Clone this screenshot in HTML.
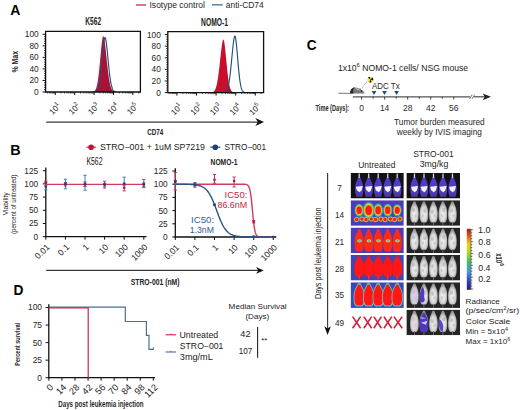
<!DOCTYPE html>
<html><head><meta charset="utf-8"><style>
html,body{margin:0;padding:0;background:#fff;}
body{width:520px;height:410px;overflow:hidden;}
svg{display:block;font-family:"Liberation Sans",sans-serif;}
</style></head><body>
<svg width="520" height="410" viewBox="0 0 520 410">
<rect width="520" height="410" fill="#fff"/>
<text x="10.25" y="14.80" font-size="14.20" font-weight="bold" fill="#000" textLength="10.12" lengthAdjust="spacingAndGlyphs">A</text>
<text x="10.39" y="154.50" font-size="14.20" font-weight="bold" fill="#000" textLength="10.36" lengthAdjust="spacingAndGlyphs">B</text>
<text x="306.64" y="50.30" font-size="14.20" font-weight="bold" fill="#000" textLength="9.83" lengthAdjust="spacingAndGlyphs">C</text>
<text x="13.58" y="295.40" font-size="14.20" font-weight="bold" fill="#000" textLength="9.89" lengthAdjust="spacingAndGlyphs">D</text>
<line x1="136.00" y1="5.00" x2="146.00" y2="5.00" stroke="#d8365a" stroke-width="1.40"/>
<text x="149.51" y="7.60" font-size="8.30" fill="#262626" textLength="55.46" lengthAdjust="spacingAndGlyphs">Isotype control</text>
<line x1="212.00" y1="4.80" x2="222.70" y2="4.80" stroke="#4a7aa6" stroke-width="1.40"/>
<text x="225.84" y="7.60" font-size="8.30" fill="#262626" textLength="37.90" lengthAdjust="spacingAndGlyphs">anti-CD74</text>
<text x="85.36" y="24.80" font-size="10.40" font-weight="bold" fill="#222" textLength="15.70" lengthAdjust="spacingAndGlyphs">K562</text>
<text x="201.05" y="25.60" font-size="10.40" font-weight="bold" fill="#222" textLength="26.94" lengthAdjust="spacingAndGlyphs">NOMO-1</text>
<path d="M45.60,92.00 L45.60,92.00 L45.85,92.00 L46.10,92.00 L46.35,92.00 L46.60,92.00 L46.85,92.00 L47.10,92.00 L47.35,92.00 L47.60,92.00 L47.85,92.00 L48.10,92.00 L48.35,92.00 L48.60,92.00 L48.85,92.00 L49.10,92.00 L49.35,92.00 L49.60,92.00 L49.85,92.00 L50.10,92.00 L50.35,92.00 L50.60,92.00 L50.85,92.00 L51.10,92.00 L51.35,92.00 L51.60,92.00 L51.85,92.00 L52.10,92.00 L52.35,92.00 L52.60,92.00 L52.85,92.00 L53.10,92.00 L53.35,92.00 L53.60,92.00 L53.85,92.00 L54.10,92.00 L54.35,92.00 L54.60,92.00 L54.85,92.00 L55.10,92.00 L55.35,92.00 L55.60,92.00 L55.85,92.00 L56.10,92.00 L56.35,92.00 L56.60,92.00 L56.85,92.00 L57.10,92.00 L57.35,92.00 L57.60,92.00 L57.85,92.00 L58.10,92.00 L58.35,92.00 L58.60,92.00 L58.85,92.00 L59.10,92.00 L59.35,92.00 L59.60,92.00 L59.85,92.00 L60.10,92.00 L60.35,92.00 L60.60,92.00 L60.85,92.00 L61.10,92.00 L61.35,92.00 L61.60,92.00 L61.85,92.00 L62.10,92.00 L62.35,92.00 L62.60,92.00 L62.85,92.00 L63.10,92.00 L63.35,92.00 L63.60,92.00 L63.85,92.00 L64.10,92.00 L64.35,92.00 L64.60,92.00 L64.85,92.00 L65.10,92.00 L65.35,92.00 L65.60,92.00 L65.85,92.00 L66.10,92.00 L66.35,92.00 L66.60,92.00 L66.85,92.00 L67.10,92.00 L67.35,92.00 L67.60,92.00 L67.85,92.00 L68.10,92.00 L68.35,92.00 L68.60,92.00 L68.85,92.00 L69.10,92.00 L69.35,92.00 L69.60,92.00 L69.85,92.00 L70.10,92.00 L70.35,92.00 L70.60,92.00 L70.85,92.00 L71.10,92.00 L71.35,92.00 L71.60,92.00 L71.85,92.00 L72.10,92.00 L72.35,92.00 L72.60,92.00 L72.85,92.00 L73.10,92.00 L73.35,92.00 L73.60,92.00 L73.85,92.00 L74.10,92.00 L74.35,92.00 L74.60,92.00 L74.85,92.00 L75.10,92.00 L75.35,92.00 L75.60,92.00 L75.85,92.00 L76.10,92.00 L76.35,92.00 L76.60,92.00 L76.85,92.00 L77.10,92.00 L77.35,92.00 L77.60,92.00 L77.85,92.00 L78.10,92.00 L78.35,92.00 L78.60,92.00 L78.85,92.00 L79.10,92.00 L79.35,92.00 L79.60,92.00 L79.85,92.00 L80.10,92.00 L80.35,92.00 L80.60,92.00 L80.85,92.00 L81.10,92.00 L81.35,92.00 L81.60,92.00 L81.85,92.00 L82.10,92.00 L82.35,92.00 L82.60,92.00 L82.85,92.00 L83.10,92.00 L83.35,92.00 L83.60,92.00 L83.85,92.00 L84.10,92.00 L84.35,92.00 L84.60,92.00 L84.85,92.00 L85.10,92.00 L85.35,92.00 L85.60,92.00 L85.85,92.00 L86.10,92.00 L86.35,92.00 L86.60,92.00 L86.85,92.00 L87.10,92.00 L87.35,92.00 L87.60,92.00 L87.85,92.00 L88.10,92.00 L88.35,92.00 L88.60,92.00 L88.85,92.00 L89.10,92.00 L89.35,92.00 L89.60,92.00 L89.85,91.99 L90.10,91.99 L90.35,91.99 L90.60,91.98 L90.85,91.98 L91.10,91.97 L91.35,91.96 L91.60,91.95 L91.85,91.93 L92.10,91.91 L92.35,91.88 L92.60,91.84 L92.85,91.79 L93.10,91.74 L93.35,91.66 L93.60,91.57 L93.85,91.45 L94.10,91.31 L94.35,91.13 L94.60,90.92 L94.85,90.66 L95.10,90.34 L95.35,89.97 L95.60,89.53 L95.85,89.00 L96.10,88.39 L96.35,87.67 L96.60,86.85 L96.85,85.90 L97.10,84.82 L97.35,83.60 L97.60,82.23 L97.85,80.71 L98.10,79.02 L98.35,77.17 L98.60,75.16 L98.85,73.00 L99.10,70.69 L99.35,68.24 L99.60,65.67 L99.85,63.00 L100.10,60.27 L100.35,57.50 L100.60,54.72 L100.85,51.98 L101.10,49.31 L101.35,46.76 L101.60,44.38 L101.85,42.21 L102.10,40.30 L102.35,38.68 L102.60,37.42 L102.85,36.53 L103.10,36.08 L103.35,36.11 L103.60,36.54 L103.85,37.29 L104.10,38.35 L104.35,39.68 L104.60,41.26 L104.85,43.05 L105.10,45.02 L105.35,47.15 L105.60,49.40 L105.85,51.75 L106.10,54.15 L106.35,56.59 L106.60,59.03 L106.85,61.45 L107.10,63.84 L107.35,66.16 L107.60,68.40 L107.85,70.55 L108.10,72.60 L108.35,74.54 L108.60,76.35 L108.85,78.04 L109.10,79.61 L109.35,81.05 L109.60,82.37 L109.85,83.57 L110.10,84.65 L110.35,85.63 L110.60,86.50 L110.85,87.27 L111.10,87.95 L111.35,88.55 L111.60,89.07 L111.85,89.53 L112.10,89.92 L112.35,90.26 L112.60,90.55 L112.85,90.80 L113.10,91.01 L113.35,91.18 L113.60,91.33 L113.85,91.46 L114.10,91.56 L114.35,91.64 L114.60,91.71 L114.85,91.77 L115.10,91.82 L115.35,91.85 L115.60,91.88 L115.85,91.91 L116.10,91.93 L116.35,91.94 L116.60,91.96 L116.85,91.97 L117.10,91.97 L117.35,91.98 L117.60,91.98 L117.85,91.99 L118.10,91.99 L118.35,91.99 L118.60,92.00 L118.85,92.00 L119.10,92.00 L119.35,92.00 L119.60,92.00 L119.85,92.00 L120.10,92.00 L120.35,92.00 L120.60,92.00 L120.85,92.00 L121.10,92.00 L121.35,92.00 L121.60,92.00 L121.85,92.00 L122.10,92.00 L122.35,92.00 L122.60,92.00 L122.85,92.00 L123.10,92.00 L123.35,92.00 L123.60,92.00 L123.85,92.00 L124.10,92.00 L124.35,92.00 L124.60,92.00 L124.85,92.00 L125.10,92.00 L125.35,92.00 L125.60,92.00 L125.85,92.00 L126.10,92.00 L126.35,92.00 L126.60,92.00 L126.85,92.00 L127.10,92.00 L127.35,92.00 L127.60,92.00 L127.85,92.00 L128.10,92.00 L128.35,92.00 L128.60,92.00 L128.85,92.00 L129.10,92.00 L129.35,92.00 L129.60,92.00 L129.85,92.00 L130.10,92.00 L130.35,92.00 L130.60,92.00 L130.85,92.00 L131.10,92.00 L131.35,92.00 L131.60,92.00 L131.85,92.00 L132.10,92.00 L132.35,92.00 L132.60,92.00 L132.85,92.00 L133.10,92.00 L133.35,92.00 L133.60,92.00 L133.85,92.00 L134.10,92.00 L134.35,92.00 L134.60,92.00 L134.85,92.00 L135.10,92.00 L135.35,92.00 L135.60,92.00 L135.85,92.00 L136.10,92.00 L136.35,92.00 L136.60,92.00 L136.85,92.00 L137.10,92.00 L137.35,92.00 L137.60,92.00 L137.85,92.00 L138.10,92.00 L138.35,92.00 L138.60,92.00 L138.85,92.00 L139.10,92.00 L139.35,92.00 L139.60,92.00 L139.85,92.00 L140.10,92.00 L140.35,92.00 L140.40,92.00 Z" fill="#c8102e" stroke="none" stroke-width="1.00"/>
<path d="M45.60,92.00 L45.60,92.00 L45.85,92.00 L46.10,92.00 L46.35,92.00 L46.60,92.00 L46.85,92.00 L47.10,92.00 L47.35,92.00 L47.60,92.00 L47.85,92.00 L48.10,92.00 L48.35,92.00 L48.60,92.00 L48.85,92.00 L49.10,92.00 L49.35,92.00 L49.60,92.00 L49.85,92.00 L50.10,92.00 L50.35,92.00 L50.60,92.00 L50.85,92.00 L51.10,92.00 L51.35,92.00 L51.60,92.00 L51.85,92.00 L52.10,92.00 L52.35,92.00 L52.60,92.00 L52.85,92.00 L53.10,92.00 L53.35,92.00 L53.60,92.00 L53.85,92.00 L54.10,92.00 L54.35,92.00 L54.60,92.00 L54.85,92.00 L55.10,92.00 L55.35,92.00 L55.60,92.00 L55.85,92.00 L56.10,92.00 L56.35,92.00 L56.60,92.00 L56.85,92.00 L57.10,92.00 L57.35,92.00 L57.60,92.00 L57.85,92.00 L58.10,92.00 L58.35,92.00 L58.60,92.00 L58.85,92.00 L59.10,92.00 L59.35,92.00 L59.60,92.00 L59.85,92.00 L60.10,92.00 L60.35,92.00 L60.60,92.00 L60.85,92.00 L61.10,92.00 L61.35,92.00 L61.60,92.00 L61.85,92.00 L62.10,92.00 L62.35,92.00 L62.60,92.00 L62.85,92.00 L63.10,92.00 L63.35,92.00 L63.60,92.00 L63.85,92.00 L64.10,92.00 L64.35,92.00 L64.60,92.00 L64.85,92.00 L65.10,92.00 L65.35,92.00 L65.60,92.00 L65.85,92.00 L66.10,92.00 L66.35,92.00 L66.60,92.00 L66.85,92.00 L67.10,92.00 L67.35,92.00 L67.60,92.00 L67.85,92.00 L68.10,92.00 L68.35,92.00 L68.60,92.00 L68.85,92.00 L69.10,92.00 L69.35,92.00 L69.60,92.00 L69.85,92.00 L70.10,92.00 L70.35,92.00 L70.60,92.00 L70.85,92.00 L71.10,92.00 L71.35,92.00 L71.60,92.00 L71.85,92.00 L72.10,92.00 L72.35,92.00 L72.60,92.00 L72.85,92.00 L73.10,92.00 L73.35,92.00 L73.60,92.00 L73.85,92.00 L74.10,92.00 L74.35,92.00 L74.60,92.00 L74.85,92.00 L75.10,92.00 L75.35,92.00 L75.60,92.00 L75.85,92.00 L76.10,92.00 L76.35,92.00 L76.60,92.00 L76.85,92.00 L77.10,92.00 L77.35,92.00 L77.60,92.00 L77.85,92.00 L78.10,92.00 L78.35,92.00 L78.60,92.00 L78.85,92.00 L79.10,92.00 L79.35,92.00 L79.60,92.00 L79.85,92.00 L80.10,92.00 L80.35,92.00 L80.60,92.00 L80.85,92.00 L81.10,92.00 L81.35,92.00 L81.60,92.00 L81.85,92.00 L82.10,92.00 L82.35,92.00 L82.60,92.00 L82.85,92.00 L83.10,92.00 L83.35,92.00 L83.60,92.00 L83.85,92.00 L84.10,92.00 L84.35,92.00 L84.60,92.00 L84.85,92.00 L85.10,92.00 L85.35,92.00 L85.60,92.00 L85.85,92.00 L86.10,92.00 L86.35,92.00 L86.60,92.00 L86.85,92.00 L87.10,92.00 L87.35,92.00 L87.60,92.00 L87.85,92.00 L88.10,92.00 L88.35,92.00 L88.60,92.00 L88.85,92.00 L89.10,92.00 L89.35,92.00 L89.60,92.00 L89.85,92.00 L90.10,92.00 L90.35,92.00 L90.60,92.00 L90.85,92.00 L91.10,92.00 L91.35,92.00 L91.60,91.99 L91.85,91.99 L92.10,91.99 L92.35,91.99 L92.60,91.98 L92.85,91.97 L93.10,91.96 L93.35,91.95 L93.60,91.94 L93.85,91.91 L94.10,91.89 L94.35,91.85 L94.60,91.81 L94.85,91.75 L95.10,91.68 L95.35,91.60 L95.60,91.49 L95.85,91.36 L96.10,91.19 L96.35,90.99 L96.60,90.75 L96.85,90.45 L97.10,90.10 L97.35,89.68 L97.60,89.19 L97.85,88.61 L98.10,87.93 L98.35,87.15 L98.60,86.25 L98.85,85.23 L99.10,84.07 L99.35,82.76 L99.60,81.31 L99.85,79.70 L100.10,77.93 L100.35,76.00 L100.60,73.92 L100.85,71.70 L101.10,69.34 L101.35,66.86 L101.60,64.28 L101.85,61.62 L102.10,58.93 L102.35,56.22 L102.60,53.54 L102.85,50.92 L103.10,48.41 L103.35,46.06 L103.60,43.90 L103.85,41.98 L104.10,40.35 L104.35,39.68 L104.60,41.26 L104.85,43.05 L105.10,45.02 L105.35,47.15 L105.60,49.40 L105.85,51.75 L106.10,54.15 L106.35,56.59 L106.60,59.03 L106.85,61.45 L107.10,63.84 L107.35,66.16 L107.60,68.40 L107.85,70.55 L108.10,72.60 L108.35,74.54 L108.60,76.35 L108.85,78.04 L109.10,79.61 L109.35,81.05 L109.60,82.37 L109.85,83.57 L110.10,84.65 L110.35,85.63 L110.60,86.50 L110.85,87.27 L111.10,87.95 L111.35,88.55 L111.60,89.07 L111.85,89.53 L112.10,89.92 L112.35,90.26 L112.60,90.55 L112.85,90.80 L113.10,91.01 L113.35,91.18 L113.60,91.33 L113.85,91.46 L114.10,91.56 L114.35,91.64 L114.60,91.71 L114.85,91.77 L115.10,91.82 L115.35,91.85 L115.60,91.88 L115.85,91.91 L116.10,91.93 L116.35,91.94 L116.60,91.96 L116.85,91.97 L117.10,91.97 L117.35,91.98 L117.60,91.98 L117.85,91.99 L118.10,91.99 L118.35,91.99 L118.60,92.00 L118.85,92.00 L119.10,92.00 L119.35,92.00 L119.60,92.00 L119.85,92.00 L120.10,92.00 L120.35,92.00 L120.60,92.00 L120.85,92.00 L121.10,92.00 L121.35,92.00 L121.60,92.00 L121.85,92.00 L122.10,92.00 L122.35,92.00 L122.60,92.00 L122.85,92.00 L123.10,92.00 L123.35,92.00 L123.60,92.00 L123.85,92.00 L124.10,92.00 L124.35,92.00 L124.60,92.00 L124.85,92.00 L125.10,92.00 L125.35,92.00 L125.60,92.00 L125.85,92.00 L126.10,92.00 L126.35,92.00 L126.60,92.00 L126.85,92.00 L127.10,92.00 L127.35,92.00 L127.60,92.00 L127.85,92.00 L128.10,92.00 L128.35,92.00 L128.60,92.00 L128.85,92.00 L129.10,92.00 L129.35,92.00 L129.60,92.00 L129.85,92.00 L130.10,92.00 L130.35,92.00 L130.60,92.00 L130.85,92.00 L131.10,92.00 L131.35,92.00 L131.60,92.00 L131.85,92.00 L132.10,92.00 L132.35,92.00 L132.60,92.00 L132.85,92.00 L133.10,92.00 L133.35,92.00 L133.60,92.00 L133.85,92.00 L134.10,92.00 L134.35,92.00 L134.60,92.00 L134.85,92.00 L135.10,92.00 L135.35,92.00 L135.60,92.00 L135.85,92.00 L136.10,92.00 L136.35,92.00 L136.60,92.00 L136.85,92.00 L137.10,92.00 L137.35,92.00 L137.60,92.00 L137.85,92.00 L138.10,92.00 L138.35,92.00 L138.60,92.00 L138.85,92.00 L139.10,92.00 L139.35,92.00 L139.60,92.00 L139.85,92.00 L140.10,92.00 L140.35,92.00 L140.40,92.00 Z" fill="#5a1a50" stroke="none" stroke-width="1.00" fill-opacity="0.28"/>
<path d="M94.60,91.81 L94.85,91.75 L95.10,91.68 L95.35,91.60 L95.60,91.49 L95.85,91.36 L96.10,91.19 L96.35,90.99 L96.60,90.75 L96.85,90.45 L97.10,90.10 L97.35,89.68 L97.60,89.19 L97.85,88.61 L98.10,87.93 L98.35,87.15 L98.60,86.25 L98.85,85.23 L99.10,84.07 L99.35,82.76 L99.60,81.31 L99.85,79.70 L100.10,77.93 L100.35,76.00 L100.60,73.92 L100.85,71.70 L101.10,69.34 L101.35,66.86 L101.60,64.28 L101.85,61.62 L102.10,58.93 L102.35,56.22 L102.60,53.54 L102.85,50.92 L103.10,48.41 L103.35,46.06 L103.60,43.90 L103.85,41.98 L104.10,40.35 L104.35,39.04 L104.60,38.10 L104.85,37.57 L105.10,37.52 L105.35,37.93 L105.60,38.74 L105.85,39.90 L106.10,41.38 L106.35,43.14 L106.60,45.14 L106.85,47.34 L107.10,49.70 L107.35,52.18 L107.60,54.75 L107.85,57.36 L108.10,59.97 L108.35,62.57 L108.60,65.11 L108.85,67.58 L109.10,69.95 L109.35,72.20 L109.60,74.32 L109.85,76.31 L110.10,78.15 L110.35,79.84 L110.60,81.39 L110.85,82.79 L111.10,84.05 L111.35,85.18 L111.60,86.17 L111.85,87.05 L112.10,87.82 L112.35,88.49 L112.60,89.07 L112.85,89.57 L113.10,89.99 L113.35,90.35 L113.60,90.65 L113.85,90.90 L114.10,91.11 L114.35,91.29 L114.60,91.43 L114.85,91.54 L115.10,91.64 L115.35,91.72 L115.60,91.78 L115.85,91.83" fill="none" stroke="#234f7e" stroke-width="1.15"/>
<path d="M45.60,31.30 H140.40 V92.00 H45.60 Z" fill="none" stroke="#111" stroke-width="1.30"/>
<line x1="42.60" y1="92.00" x2="45.60" y2="92.00" stroke="#111" stroke-width="1.00"/>
<text x="34.01" y="94.90" font-size="8.30" fill="#262626">0</text>
<line x1="42.60" y1="80.46" x2="45.60" y2="80.46" stroke="#111" stroke-width="1.00"/>
<text x="29.39" y="83.36" font-size="8.30" fill="#262626">20</text>
<line x1="42.60" y1="68.92" x2="45.60" y2="68.92" stroke="#111" stroke-width="1.00"/>
<text x="29.39" y="71.82" font-size="8.30" fill="#262626">40</text>
<line x1="42.60" y1="57.38" x2="45.60" y2="57.38" stroke="#111" stroke-width="1.00"/>
<text x="29.39" y="60.28" font-size="8.30" fill="#262626">60</text>
<line x1="42.60" y1="45.84" x2="45.60" y2="45.84" stroke="#111" stroke-width="1.00"/>
<text x="29.39" y="48.74" font-size="8.30" fill="#262626">80</text>
<line x1="42.60" y1="34.30" x2="45.60" y2="34.30" stroke="#111" stroke-width="1.00"/>
<text x="24.78" y="37.20" font-size="8.30" fill="#262626">100</text>
<line x1="44.00" y1="89.69" x2="45.60" y2="89.69" stroke="#111" stroke-width="0.80"/>
<line x1="44.00" y1="87.38" x2="45.60" y2="87.38" stroke="#111" stroke-width="0.80"/>
<line x1="44.00" y1="85.08" x2="45.60" y2="85.08" stroke="#111" stroke-width="0.80"/>
<line x1="44.00" y1="82.77" x2="45.60" y2="82.77" stroke="#111" stroke-width="0.80"/>
<line x1="44.00" y1="78.15" x2="45.60" y2="78.15" stroke="#111" stroke-width="0.80"/>
<line x1="44.00" y1="75.84" x2="45.60" y2="75.84" stroke="#111" stroke-width="0.80"/>
<line x1="44.00" y1="73.54" x2="45.60" y2="73.54" stroke="#111" stroke-width="0.80"/>
<line x1="44.00" y1="71.23" x2="45.60" y2="71.23" stroke="#111" stroke-width="0.80"/>
<line x1="44.00" y1="66.61" x2="45.60" y2="66.61" stroke="#111" stroke-width="0.80"/>
<line x1="44.00" y1="64.30" x2="45.60" y2="64.30" stroke="#111" stroke-width="0.80"/>
<line x1="44.00" y1="62.00" x2="45.60" y2="62.00" stroke="#111" stroke-width="0.80"/>
<line x1="44.00" y1="59.69" x2="45.60" y2="59.69" stroke="#111" stroke-width="0.80"/>
<line x1="44.00" y1="55.07" x2="45.60" y2="55.07" stroke="#111" stroke-width="0.80"/>
<line x1="44.00" y1="52.76" x2="45.60" y2="52.76" stroke="#111" stroke-width="0.80"/>
<line x1="44.00" y1="50.46" x2="45.60" y2="50.46" stroke="#111" stroke-width="0.80"/>
<line x1="44.00" y1="48.15" x2="45.60" y2="48.15" stroke="#111" stroke-width="0.80"/>
<line x1="44.00" y1="43.53" x2="45.60" y2="43.53" stroke="#111" stroke-width="0.80"/>
<line x1="44.00" y1="41.22" x2="45.60" y2="41.22" stroke="#111" stroke-width="0.80"/>
<line x1="44.00" y1="38.92" x2="45.60" y2="38.92" stroke="#111" stroke-width="0.80"/>
<line x1="44.00" y1="36.61" x2="45.60" y2="36.61" stroke="#111" stroke-width="0.80"/>
<line x1="55.30" y1="92.00" x2="55.30" y2="95.00" stroke="#111" stroke-width="1.00"/>
<line x1="61.14" y1="92.00" x2="61.14" y2="93.50" stroke="#111" stroke-width="0.70"/>
<line x1="64.56" y1="92.00" x2="64.56" y2="93.50" stroke="#111" stroke-width="0.70"/>
<line x1="66.98" y1="92.00" x2="66.98" y2="93.50" stroke="#111" stroke-width="0.70"/>
<line x1="68.86" y1="92.00" x2="68.86" y2="93.50" stroke="#111" stroke-width="0.70"/>
<line x1="70.40" y1="92.00" x2="70.40" y2="93.50" stroke="#111" stroke-width="0.70"/>
<line x1="71.69" y1="92.00" x2="71.69" y2="93.50" stroke="#111" stroke-width="0.70"/>
<line x1="72.82" y1="92.00" x2="72.82" y2="93.50" stroke="#111" stroke-width="0.70"/>
<line x1="73.81" y1="92.00" x2="73.81" y2="93.50" stroke="#111" stroke-width="0.70"/>
<line x1="47.58" y1="92.00" x2="47.58" y2="93.50" stroke="#111" stroke-width="0.70"/>
<line x1="49.46" y1="92.00" x2="49.46" y2="93.50" stroke="#111" stroke-width="0.70"/>
<line x1="51.00" y1="92.00" x2="51.00" y2="93.50" stroke="#111" stroke-width="0.70"/>
<line x1="52.29" y1="92.00" x2="52.29" y2="93.50" stroke="#111" stroke-width="0.70"/>
<line x1="53.42" y1="92.00" x2="53.42" y2="93.50" stroke="#111" stroke-width="0.70"/>
<line x1="54.41" y1="92.00" x2="54.41" y2="93.50" stroke="#111" stroke-width="0.70"/>
<g transform="translate(61.30 106.50) rotate(-45)">
<text x="0" y="0" font-size="8.2" fill="#222" text-anchor="end">10<tspan font-size="5.8" dy="-3.6">1</tspan></text>
</g>
<line x1="74.70" y1="92.00" x2="74.70" y2="95.00" stroke="#111" stroke-width="1.00"/>
<line x1="80.54" y1="92.00" x2="80.54" y2="93.50" stroke="#111" stroke-width="0.70"/>
<line x1="83.96" y1="92.00" x2="83.96" y2="93.50" stroke="#111" stroke-width="0.70"/>
<line x1="86.38" y1="92.00" x2="86.38" y2="93.50" stroke="#111" stroke-width="0.70"/>
<line x1="88.26" y1="92.00" x2="88.26" y2="93.50" stroke="#111" stroke-width="0.70"/>
<line x1="89.80" y1="92.00" x2="89.80" y2="93.50" stroke="#111" stroke-width="0.70"/>
<line x1="91.09" y1="92.00" x2="91.09" y2="93.50" stroke="#111" stroke-width="0.70"/>
<line x1="92.22" y1="92.00" x2="92.22" y2="93.50" stroke="#111" stroke-width="0.70"/>
<line x1="93.21" y1="92.00" x2="93.21" y2="93.50" stroke="#111" stroke-width="0.70"/>
<g transform="translate(80.70 106.50) rotate(-45)">
<text x="0" y="0" font-size="8.2" fill="#222" text-anchor="end">10<tspan font-size="5.8" dy="-3.6">2</tspan></text>
</g>
<line x1="94.10" y1="92.00" x2="94.10" y2="95.00" stroke="#111" stroke-width="1.00"/>
<line x1="99.94" y1="92.00" x2="99.94" y2="93.50" stroke="#111" stroke-width="0.70"/>
<line x1="103.36" y1="92.00" x2="103.36" y2="93.50" stroke="#111" stroke-width="0.70"/>
<line x1="105.78" y1="92.00" x2="105.78" y2="93.50" stroke="#111" stroke-width="0.70"/>
<line x1="107.66" y1="92.00" x2="107.66" y2="93.50" stroke="#111" stroke-width="0.70"/>
<line x1="109.20" y1="92.00" x2="109.20" y2="93.50" stroke="#111" stroke-width="0.70"/>
<line x1="110.49" y1="92.00" x2="110.49" y2="93.50" stroke="#111" stroke-width="0.70"/>
<line x1="111.62" y1="92.00" x2="111.62" y2="93.50" stroke="#111" stroke-width="0.70"/>
<line x1="112.61" y1="92.00" x2="112.61" y2="93.50" stroke="#111" stroke-width="0.70"/>
<g transform="translate(100.10 106.50) rotate(-45)">
<text x="0" y="0" font-size="8.2" fill="#222" text-anchor="end">10<tspan font-size="5.8" dy="-3.6">3</tspan></text>
</g>
<line x1="113.50" y1="92.00" x2="113.50" y2="95.00" stroke="#111" stroke-width="1.00"/>
<line x1="119.34" y1="92.00" x2="119.34" y2="93.50" stroke="#111" stroke-width="0.70"/>
<line x1="122.76" y1="92.00" x2="122.76" y2="93.50" stroke="#111" stroke-width="0.70"/>
<line x1="125.18" y1="92.00" x2="125.18" y2="93.50" stroke="#111" stroke-width="0.70"/>
<line x1="127.06" y1="92.00" x2="127.06" y2="93.50" stroke="#111" stroke-width="0.70"/>
<line x1="128.60" y1="92.00" x2="128.60" y2="93.50" stroke="#111" stroke-width="0.70"/>
<line x1="129.89" y1="92.00" x2="129.89" y2="93.50" stroke="#111" stroke-width="0.70"/>
<line x1="131.02" y1="92.00" x2="131.02" y2="93.50" stroke="#111" stroke-width="0.70"/>
<line x1="132.01" y1="92.00" x2="132.01" y2="93.50" stroke="#111" stroke-width="0.70"/>
<g transform="translate(119.50 106.50) rotate(-45)">
<text x="0" y="0" font-size="8.2" fill="#222" text-anchor="end">10<tspan font-size="5.8" dy="-3.6">4</tspan></text>
</g>
<line x1="132.90" y1="92.00" x2="132.90" y2="95.00" stroke="#111" stroke-width="1.00"/>
<line x1="138.74" y1="92.00" x2="138.74" y2="93.50" stroke="#111" stroke-width="0.70"/>
<g transform="translate(138.90 106.50) rotate(-45)">
<text x="0" y="0" font-size="8.2" fill="#222" text-anchor="end">10<tspan font-size="5.8" dy="-3.6">5</tspan></text>
</g>
<path d="M167.80,92.60 L167.80,92.60 L168.05,92.60 L168.30,92.60 L168.55,92.60 L168.80,92.60 L169.05,92.60 L169.30,92.60 L169.55,92.60 L169.80,92.60 L170.05,92.60 L170.30,92.60 L170.55,92.60 L170.80,92.60 L171.05,92.60 L171.30,92.60 L171.55,92.60 L171.80,92.60 L172.05,92.60 L172.30,92.60 L172.55,92.60 L172.80,92.60 L173.05,92.60 L173.30,92.60 L173.55,92.60 L173.80,92.60 L174.05,92.60 L174.30,92.60 L174.55,92.60 L174.80,92.60 L175.05,92.60 L175.30,92.60 L175.55,92.60 L175.80,92.60 L176.05,92.60 L176.30,92.60 L176.55,92.60 L176.80,92.60 L177.05,92.60 L177.30,92.60 L177.55,92.60 L177.80,92.60 L178.05,92.60 L178.30,92.60 L178.55,92.60 L178.80,92.60 L179.05,92.60 L179.30,92.60 L179.55,92.60 L179.80,92.60 L180.05,92.60 L180.30,92.60 L180.55,92.60 L180.80,92.60 L181.05,92.60 L181.30,92.60 L181.55,92.60 L181.80,92.60 L182.05,92.60 L182.30,92.60 L182.55,92.60 L182.80,92.60 L183.05,92.60 L183.30,92.60 L183.55,92.60 L183.80,92.60 L184.05,92.60 L184.30,92.60 L184.55,92.60 L184.80,92.60 L185.05,92.60 L185.30,92.60 L185.55,92.60 L185.80,92.60 L186.05,92.60 L186.30,92.60 L186.55,92.60 L186.80,92.60 L187.05,92.60 L187.30,92.60 L187.55,92.60 L187.80,92.60 L188.05,92.60 L188.30,92.60 L188.55,92.60 L188.80,92.60 L189.05,92.60 L189.30,92.60 L189.55,92.60 L189.80,92.60 L190.05,92.60 L190.30,92.60 L190.55,92.60 L190.80,92.60 L191.05,92.60 L191.30,92.60 L191.55,92.60 L191.80,92.60 L192.05,92.60 L192.30,92.60 L192.55,92.60 L192.80,92.60 L193.05,92.60 L193.30,92.60 L193.55,92.60 L193.80,92.60 L194.05,92.60 L194.30,92.60 L194.55,92.60 L194.80,92.60 L195.05,92.60 L195.30,92.60 L195.55,92.60 L195.80,92.60 L196.05,92.60 L196.30,92.60 L196.55,92.60 L196.80,92.60 L197.05,92.60 L197.30,92.60 L197.55,92.60 L197.80,92.60 L198.05,92.60 L198.30,92.60 L198.55,92.60 L198.80,92.60 L199.05,92.60 L199.30,92.60 L199.55,92.60 L199.80,92.60 L200.05,92.60 L200.30,92.60 L200.55,92.60 L200.80,92.60 L201.05,92.60 L201.30,92.60 L201.55,92.60 L201.80,92.60 L202.05,92.60 L202.30,92.60 L202.55,92.60 L202.80,92.60 L203.05,92.60 L203.30,92.60 L203.55,92.60 L203.80,92.60 L204.05,92.60 L204.30,92.60 L204.55,92.60 L204.80,92.60 L205.05,92.60 L205.30,92.60 L205.55,92.60 L205.80,92.60 L206.05,92.60 L206.30,92.60 L206.55,92.60 L206.80,92.60 L207.05,92.60 L207.30,92.60 L207.55,92.60 L207.80,92.60 L208.05,92.60 L208.30,92.59 L208.55,92.59 L208.80,92.59 L209.05,92.58 L209.30,92.58 L209.55,92.57 L209.80,92.57 L210.05,92.56 L210.30,92.54 L210.55,92.53 L210.80,92.51 L211.05,92.49 L211.30,92.46 L211.55,92.42 L211.80,92.37 L212.05,92.32 L212.30,92.25 L212.55,92.16 L212.80,92.06 L213.05,91.94 L213.30,91.79 L213.55,91.62 L213.80,91.42 L214.05,91.17 L214.30,90.89 L214.55,90.56 L214.80,90.17 L215.05,89.73 L215.30,89.22 L215.55,88.64 L215.80,87.97 L216.05,87.22 L216.30,86.38 L216.55,85.44 L216.80,84.39 L217.05,83.23 L217.30,81.96 L217.55,80.57 L217.80,79.06 L218.05,77.43 L218.30,75.68 L218.55,73.83 L218.80,71.87 L219.05,69.81 L219.30,67.66 L219.55,65.45 L219.80,63.18 L220.05,60.87 L220.30,58.56 L220.55,56.25 L220.80,53.98 L221.05,51.77 L221.30,49.66 L221.55,47.67 L221.80,45.83 L222.05,44.17 L222.30,42.72 L222.55,41.51 L222.80,40.56 L223.05,39.90 L223.30,39.56 L223.55,39.63 L223.80,40.14 L224.05,41.06 L224.30,42.33 L224.55,43.92 L224.80,45.78 L225.05,47.88 L225.30,50.18 L225.55,52.62 L225.80,55.16 L226.05,57.78 L226.30,60.41 L226.55,63.04 L226.80,65.62 L227.05,68.13 L227.30,70.54 L227.55,72.84 L227.80,75.01 L228.05,77.03 L228.30,78.90 L228.55,80.63 L228.80,82.19 L229.05,83.61 L229.30,84.88 L229.55,86.01 L229.80,87.01 L230.05,87.88 L230.30,88.64 L230.55,89.30 L230.80,89.86 L231.05,90.34 L231.30,90.75 L231.55,91.09 L231.80,91.38 L232.05,91.62 L232.30,91.81 L232.55,91.97 L232.80,92.10 L233.05,92.21 L233.30,92.29 L233.55,92.36 L233.80,92.42 L234.05,92.46 L234.30,92.49 L234.55,92.52 L234.80,92.54 L235.05,92.55 L235.30,92.56 L235.55,92.57 L235.80,92.58 L236.05,92.59 L236.30,92.59 L236.55,92.59 L236.80,92.59 L237.05,92.60 L237.30,92.60 L237.55,92.60 L237.80,92.60 L238.05,92.60 L238.30,92.60 L238.55,92.60 L238.80,92.60 L239.05,92.60 L239.30,92.60 L239.55,92.60 L239.80,92.60 L240.05,92.60 L240.30,92.60 L240.55,92.60 L240.80,92.60 L241.05,92.60 L241.30,92.60 L241.55,92.60 L241.80,92.60 L242.05,92.60 L242.30,92.60 L242.55,92.60 L242.80,92.60 L243.05,92.60 L243.30,92.60 L243.55,92.60 L243.80,92.60 L244.05,92.60 L244.30,92.60 L244.55,92.60 L244.80,92.60 L245.05,92.60 L245.30,92.60 L245.55,92.60 L245.80,92.60 L246.05,92.60 L246.30,92.60 L246.55,92.60 L246.80,92.60 L247.05,92.60 L247.30,92.60 L247.55,92.60 L247.80,92.60 L248.05,92.60 L248.30,92.60 L248.55,92.60 L248.80,92.60 L249.05,92.60 L249.30,92.60 L249.55,92.60 L249.80,92.60 L250.05,92.60 L250.30,92.60 L250.55,92.60 L250.80,92.60 L251.05,92.60 L251.30,92.60 L251.55,92.60 L251.80,92.60 L252.05,92.60 L252.30,92.60 L252.55,92.60 L252.80,92.60 L253.05,92.60 L253.30,92.60 L253.55,92.60 L253.80,92.60 L254.05,92.60 L254.30,92.60 L254.55,92.60 L254.80,92.60 L255.05,92.60 L255.30,92.60 L255.55,92.60 L255.80,92.60 L256.05,92.60 L256.30,92.60 L256.55,92.60 L256.80,92.60 L257.05,92.60 L257.30,92.60 L257.55,92.60 L257.80,92.60 L258.05,92.60 L258.30,92.60 L258.55,92.60 L258.80,92.60 L259.05,92.60 L259.30,92.60 L259.55,92.60 L259.80,92.60 L260.05,92.60 L260.30,92.60 L260.55,92.60 L260.80,92.60 L261.05,92.60 L261.30,92.60 L261.55,92.60 L261.80,92.60 L262.05,92.60 L262.30,92.60 L262.55,92.60 L262.80,92.60 L263.05,92.60 L263.30,92.60 L263.55,92.60 L263.60,92.60 Z" fill="#c8102e" stroke="none" stroke-width="1.00"/>
<path d="M167.80,92.60 L167.80,92.60 L168.05,92.60 L168.30,92.60 L168.55,92.60 L168.80,92.60 L169.05,92.60 L169.30,92.60 L169.55,92.60 L169.80,92.60 L170.05,92.60 L170.30,92.60 L170.55,92.60 L170.80,92.60 L171.05,92.60 L171.30,92.60 L171.55,92.60 L171.80,92.60 L172.05,92.60 L172.30,92.60 L172.55,92.60 L172.80,92.60 L173.05,92.60 L173.30,92.60 L173.55,92.60 L173.80,92.60 L174.05,92.60 L174.30,92.60 L174.55,92.60 L174.80,92.60 L175.05,92.60 L175.30,92.60 L175.55,92.60 L175.80,92.60 L176.05,92.60 L176.30,92.60 L176.55,92.60 L176.80,92.60 L177.05,92.60 L177.30,92.60 L177.55,92.60 L177.80,92.60 L178.05,92.60 L178.30,92.60 L178.55,92.60 L178.80,92.60 L179.05,92.60 L179.30,92.60 L179.55,92.60 L179.80,92.60 L180.05,92.60 L180.30,92.60 L180.55,92.60 L180.80,92.60 L181.05,92.60 L181.30,92.60 L181.55,92.60 L181.80,92.60 L182.05,92.60 L182.30,92.60 L182.55,92.60 L182.80,92.60 L183.05,92.60 L183.30,92.60 L183.55,92.60 L183.80,92.60 L184.05,92.60 L184.30,92.60 L184.55,92.60 L184.80,92.60 L185.05,92.60 L185.30,92.60 L185.55,92.60 L185.80,92.60 L186.05,92.60 L186.30,92.60 L186.55,92.60 L186.80,92.60 L187.05,92.60 L187.30,92.60 L187.55,92.60 L187.80,92.60 L188.05,92.60 L188.30,92.60 L188.55,92.60 L188.80,92.60 L189.05,92.60 L189.30,92.60 L189.55,92.60 L189.80,92.60 L190.05,92.60 L190.30,92.60 L190.55,92.60 L190.80,92.60 L191.05,92.60 L191.30,92.60 L191.55,92.60 L191.80,92.60 L192.05,92.60 L192.30,92.60 L192.55,92.60 L192.80,92.60 L193.05,92.60 L193.30,92.60 L193.55,92.60 L193.80,92.60 L194.05,92.60 L194.30,92.60 L194.55,92.60 L194.80,92.60 L195.05,92.60 L195.30,92.60 L195.55,92.60 L195.80,92.60 L196.05,92.60 L196.30,92.60 L196.55,92.60 L196.80,92.60 L197.05,92.60 L197.30,92.60 L197.55,92.60 L197.80,92.60 L198.05,92.60 L198.30,92.60 L198.55,92.60 L198.80,92.60 L199.05,92.60 L199.30,92.60 L199.55,92.60 L199.80,92.60 L200.05,92.60 L200.30,92.60 L200.55,92.60 L200.80,92.60 L201.05,92.60 L201.30,92.60 L201.55,92.60 L201.80,92.60 L202.05,92.60 L202.30,92.60 L202.55,92.60 L202.80,92.60 L203.05,92.60 L203.30,92.60 L203.55,92.60 L203.80,92.60 L204.05,92.60 L204.30,92.60 L204.55,92.60 L204.80,92.60 L205.05,92.60 L205.30,92.60 L205.55,92.60 L205.80,92.60 L206.05,92.60 L206.30,92.60 L206.55,92.60 L206.80,92.60 L207.05,92.60 L207.30,92.60 L207.55,92.60 L207.80,92.60 L208.05,92.60 L208.30,92.60 L208.55,92.60 L208.80,92.60 L209.05,92.60 L209.30,92.60 L209.55,92.60 L209.80,92.60 L210.05,92.60 L210.30,92.60 L210.55,92.60 L210.80,92.60 L211.05,92.60 L211.30,92.60 L211.55,92.60 L211.80,92.60 L212.05,92.60 L212.30,92.60 L212.55,92.60 L212.80,92.60 L213.05,92.60 L213.30,92.60 L213.55,92.60 L213.80,92.60 L214.05,92.60 L214.30,92.60 L214.55,92.60 L214.80,92.60 L215.05,92.60 L215.30,92.60 L215.55,92.60 L215.80,92.60 L216.05,92.60 L216.30,92.60 L216.55,92.60 L216.80,92.60 L217.05,92.60 L217.30,92.60 L217.55,92.60 L217.80,92.60 L218.05,92.60 L218.30,92.60 L218.55,92.60 L218.80,92.60 L219.05,92.60 L219.30,92.60 L219.55,92.60 L219.80,92.60 L220.05,92.60 L220.30,92.60 L220.55,92.59 L220.80,92.59 L221.05,92.59 L221.30,92.59 L221.55,92.58 L221.80,92.58 L222.05,92.57 L222.30,92.56 L222.55,92.54 L222.80,92.53 L223.05,92.51 L223.30,92.48 L223.55,92.44 L223.80,92.40 L224.05,92.35 L224.30,92.28 L224.55,92.20 L224.80,92.09 L225.05,91.97 L225.30,91.82 L225.55,91.64 L225.80,91.42 L226.05,91.16 L226.30,90.85 L226.55,90.48 L226.80,90.06 L227.05,89.56 L227.30,88.98 L227.55,88.31 L227.80,87.54 L228.05,86.67 L228.30,85.69 L228.55,84.58 L228.80,83.34 L229.05,83.61 L229.30,84.88 L229.55,86.01 L229.80,87.01 L230.05,87.88 L230.30,88.64 L230.55,89.30 L230.80,89.86 L231.05,90.34 L231.30,90.75 L231.55,91.09 L231.80,91.38 L232.05,91.62 L232.30,91.81 L232.55,91.97 L232.80,92.10 L233.05,92.21 L233.30,92.29 L233.55,92.36 L233.80,92.42 L234.05,92.46 L234.30,92.49 L234.55,92.52 L234.80,92.54 L235.05,92.55 L235.30,92.56 L235.55,92.57 L235.80,92.58 L236.05,92.59 L236.30,92.59 L236.55,92.59 L236.80,92.59 L237.05,92.60 L237.30,92.60 L237.55,92.60 L237.80,92.60 L238.05,92.60 L238.30,92.60 L238.55,92.60 L238.80,92.60 L239.05,92.60 L239.30,92.60 L239.55,92.60 L239.80,92.60 L240.05,92.60 L240.30,92.60 L240.55,92.60 L240.80,92.60 L241.05,92.60 L241.30,92.60 L241.55,92.60 L241.80,92.60 L242.05,92.60 L242.30,92.60 L242.55,92.60 L242.80,92.60 L243.05,92.60 L243.30,92.60 L243.55,92.60 L243.80,92.60 L244.05,92.60 L244.30,92.60 L244.55,92.60 L244.80,92.60 L245.05,92.60 L245.30,92.60 L245.55,92.60 L245.80,92.60 L246.05,92.60 L246.30,92.60 L246.55,92.60 L246.80,92.60 L247.05,92.60 L247.30,92.60 L247.55,92.60 L247.80,92.60 L248.05,92.60 L248.30,92.60 L248.55,92.60 L248.80,92.60 L249.05,92.60 L249.30,92.60 L249.55,92.60 L249.80,92.60 L250.05,92.60 L250.30,92.60 L250.55,92.60 L250.80,92.60 L251.05,92.60 L251.30,92.60 L251.55,92.60 L251.80,92.60 L252.05,92.60 L252.30,92.60 L252.55,92.60 L252.80,92.60 L253.05,92.60 L253.30,92.60 L253.55,92.60 L253.80,92.60 L254.05,92.60 L254.30,92.60 L254.55,92.60 L254.80,92.60 L255.05,92.60 L255.30,92.60 L255.55,92.60 L255.80,92.60 L256.05,92.60 L256.30,92.60 L256.55,92.60 L256.80,92.60 L257.05,92.60 L257.30,92.60 L257.55,92.60 L257.80,92.60 L258.05,92.60 L258.30,92.60 L258.55,92.60 L258.80,92.60 L259.05,92.60 L259.30,92.60 L259.55,92.60 L259.80,92.60 L260.05,92.60 L260.30,92.60 L260.55,92.60 L260.80,92.60 L261.05,92.60 L261.30,92.60 L261.55,92.60 L261.80,92.60 L262.05,92.60 L262.30,92.60 L262.55,92.60 L262.80,92.60 L263.05,92.60 L263.30,92.60 L263.55,92.60 L263.60,92.60 Z" fill="#5a1a50" stroke="none" stroke-width="1.00" fill-opacity="0.28"/>
<path d="M223.80,92.40 L224.05,92.35 L224.30,92.28 L224.55,92.20 L224.80,92.09 L225.05,91.97 L225.30,91.82 L225.55,91.64 L225.80,91.42 L226.05,91.16 L226.30,90.85 L226.55,90.48 L226.80,90.06 L227.05,89.56 L227.30,88.98 L227.55,88.31 L227.80,87.54 L228.05,86.67 L228.30,85.69 L228.55,84.58 L228.80,83.34 L229.05,81.97 L229.30,80.45 L229.55,78.80 L229.80,77.00 L230.05,75.05 L230.30,72.98 L230.55,70.77 L230.80,68.44 L231.05,66.01 L231.30,63.50 L231.55,60.92 L231.80,58.30 L232.05,55.67 L232.30,53.07 L232.55,50.51 L232.80,48.05 L233.05,45.72 L233.30,43.55 L233.55,41.59 L233.80,39.86 L234.05,38.42 L234.30,37.28 L234.55,36.50 L234.80,36.09 L235.05,36.16 L235.30,36.77 L235.55,37.85 L235.80,39.34 L236.05,41.20 L236.30,43.37 L236.55,45.81 L236.80,48.46 L237.05,51.26 L237.30,54.16 L237.55,57.12 L237.80,60.07 L238.05,63.00 L238.30,65.84 L238.55,68.58 L238.80,71.19 L239.05,73.64 L239.30,75.93 L239.55,78.03 L239.80,79.96 L240.05,81.71 L240.30,83.27 L240.55,84.67 L240.80,85.90 L241.05,86.97 L241.30,87.91 L241.55,88.71 L241.80,89.40 L242.05,89.98 L242.30,90.47 L242.55,90.88 L242.80,91.22 L243.05,91.50 L243.30,91.73 L243.55,91.91 L243.80,92.06 L244.05,92.18 L244.30,92.28 L244.55,92.35 L244.80,92.41" fill="none" stroke="#234f7e" stroke-width="1.15"/>
<path d="M167.80,31.60 H263.60 V92.60 H167.80 Z" fill="none" stroke="#111" stroke-width="1.30"/>
<line x1="164.80" y1="92.60" x2="167.80" y2="92.60" stroke="#111" stroke-width="1.00"/>
<text x="156.21" y="95.50" font-size="8.30" fill="#262626">0</text>
<line x1="164.80" y1="81.00" x2="167.80" y2="81.00" stroke="#111" stroke-width="1.00"/>
<text x="151.59" y="83.90" font-size="8.30" fill="#262626">20</text>
<line x1="164.80" y1="69.40" x2="167.80" y2="69.40" stroke="#111" stroke-width="1.00"/>
<text x="151.59" y="72.30" font-size="8.30" fill="#262626">40</text>
<line x1="164.80" y1="57.80" x2="167.80" y2="57.80" stroke="#111" stroke-width="1.00"/>
<text x="151.59" y="60.70" font-size="8.30" fill="#262626">60</text>
<line x1="164.80" y1="46.20" x2="167.80" y2="46.20" stroke="#111" stroke-width="1.00"/>
<text x="151.59" y="49.10" font-size="8.30" fill="#262626">80</text>
<line x1="164.80" y1="34.60" x2="167.80" y2="34.60" stroke="#111" stroke-width="1.00"/>
<text x="146.98" y="37.50" font-size="8.30" fill="#262626">100</text>
<line x1="166.20" y1="90.28" x2="167.80" y2="90.28" stroke="#111" stroke-width="0.80"/>
<line x1="166.20" y1="87.96" x2="167.80" y2="87.96" stroke="#111" stroke-width="0.80"/>
<line x1="166.20" y1="85.64" x2="167.80" y2="85.64" stroke="#111" stroke-width="0.80"/>
<line x1="166.20" y1="83.32" x2="167.80" y2="83.32" stroke="#111" stroke-width="0.80"/>
<line x1="166.20" y1="78.68" x2="167.80" y2="78.68" stroke="#111" stroke-width="0.80"/>
<line x1="166.20" y1="76.36" x2="167.80" y2="76.36" stroke="#111" stroke-width="0.80"/>
<line x1="166.20" y1="74.04" x2="167.80" y2="74.04" stroke="#111" stroke-width="0.80"/>
<line x1="166.20" y1="71.72" x2="167.80" y2="71.72" stroke="#111" stroke-width="0.80"/>
<line x1="166.20" y1="67.08" x2="167.80" y2="67.08" stroke="#111" stroke-width="0.80"/>
<line x1="166.20" y1="64.76" x2="167.80" y2="64.76" stroke="#111" stroke-width="0.80"/>
<line x1="166.20" y1="62.44" x2="167.80" y2="62.44" stroke="#111" stroke-width="0.80"/>
<line x1="166.20" y1="60.12" x2="167.80" y2="60.12" stroke="#111" stroke-width="0.80"/>
<line x1="166.20" y1="55.48" x2="167.80" y2="55.48" stroke="#111" stroke-width="0.80"/>
<line x1="166.20" y1="53.16" x2="167.80" y2="53.16" stroke="#111" stroke-width="0.80"/>
<line x1="166.20" y1="50.84" x2="167.80" y2="50.84" stroke="#111" stroke-width="0.80"/>
<line x1="166.20" y1="48.52" x2="167.80" y2="48.52" stroke="#111" stroke-width="0.80"/>
<line x1="166.20" y1="43.88" x2="167.80" y2="43.88" stroke="#111" stroke-width="0.80"/>
<line x1="166.20" y1="41.56" x2="167.80" y2="41.56" stroke="#111" stroke-width="0.80"/>
<line x1="166.20" y1="39.24" x2="167.80" y2="39.24" stroke="#111" stroke-width="0.80"/>
<line x1="166.20" y1="36.92" x2="167.80" y2="36.92" stroke="#111" stroke-width="0.80"/>
<line x1="176.90" y1="92.60" x2="176.90" y2="95.60" stroke="#111" stroke-width="1.00"/>
<line x1="182.80" y1="92.60" x2="182.80" y2="94.10" stroke="#111" stroke-width="0.70"/>
<line x1="186.25" y1="92.60" x2="186.25" y2="94.10" stroke="#111" stroke-width="0.70"/>
<line x1="188.70" y1="92.60" x2="188.70" y2="94.10" stroke="#111" stroke-width="0.70"/>
<line x1="190.60" y1="92.60" x2="190.60" y2="94.10" stroke="#111" stroke-width="0.70"/>
<line x1="192.15" y1="92.60" x2="192.15" y2="94.10" stroke="#111" stroke-width="0.70"/>
<line x1="193.46" y1="92.60" x2="193.46" y2="94.10" stroke="#111" stroke-width="0.70"/>
<line x1="194.60" y1="92.60" x2="194.60" y2="94.10" stroke="#111" stroke-width="0.70"/>
<line x1="195.60" y1="92.60" x2="195.60" y2="94.10" stroke="#111" stroke-width="0.70"/>
<line x1="169.10" y1="92.60" x2="169.10" y2="94.10" stroke="#111" stroke-width="0.70"/>
<line x1="171.00" y1="92.60" x2="171.00" y2="94.10" stroke="#111" stroke-width="0.70"/>
<line x1="172.55" y1="92.60" x2="172.55" y2="94.10" stroke="#111" stroke-width="0.70"/>
<line x1="173.86" y1="92.60" x2="173.86" y2="94.10" stroke="#111" stroke-width="0.70"/>
<line x1="175.00" y1="92.60" x2="175.00" y2="94.10" stroke="#111" stroke-width="0.70"/>
<line x1="176.00" y1="92.60" x2="176.00" y2="94.10" stroke="#111" stroke-width="0.70"/>
<g transform="translate(182.90 107.10) rotate(-45)">
<text x="0" y="0" font-size="8.2" fill="#222" text-anchor="end">10<tspan font-size="5.8" dy="-3.6">1</tspan></text>
</g>
<line x1="196.50" y1="92.60" x2="196.50" y2="95.60" stroke="#111" stroke-width="1.00"/>
<line x1="202.40" y1="92.60" x2="202.40" y2="94.10" stroke="#111" stroke-width="0.70"/>
<line x1="205.85" y1="92.60" x2="205.85" y2="94.10" stroke="#111" stroke-width="0.70"/>
<line x1="208.30" y1="92.60" x2="208.30" y2="94.10" stroke="#111" stroke-width="0.70"/>
<line x1="210.20" y1="92.60" x2="210.20" y2="94.10" stroke="#111" stroke-width="0.70"/>
<line x1="211.75" y1="92.60" x2="211.75" y2="94.10" stroke="#111" stroke-width="0.70"/>
<line x1="213.06" y1="92.60" x2="213.06" y2="94.10" stroke="#111" stroke-width="0.70"/>
<line x1="214.20" y1="92.60" x2="214.20" y2="94.10" stroke="#111" stroke-width="0.70"/>
<line x1="215.20" y1="92.60" x2="215.20" y2="94.10" stroke="#111" stroke-width="0.70"/>
<g transform="translate(202.50 107.10) rotate(-45)">
<text x="0" y="0" font-size="8.2" fill="#222" text-anchor="end">10<tspan font-size="5.8" dy="-3.6">2</tspan></text>
</g>
<line x1="216.10" y1="92.60" x2="216.10" y2="95.60" stroke="#111" stroke-width="1.00"/>
<line x1="222.00" y1="92.60" x2="222.00" y2="94.10" stroke="#111" stroke-width="0.70"/>
<line x1="225.45" y1="92.60" x2="225.45" y2="94.10" stroke="#111" stroke-width="0.70"/>
<line x1="227.90" y1="92.60" x2="227.90" y2="94.10" stroke="#111" stroke-width="0.70"/>
<line x1="229.80" y1="92.60" x2="229.80" y2="94.10" stroke="#111" stroke-width="0.70"/>
<line x1="231.35" y1="92.60" x2="231.35" y2="94.10" stroke="#111" stroke-width="0.70"/>
<line x1="232.66" y1="92.60" x2="232.66" y2="94.10" stroke="#111" stroke-width="0.70"/>
<line x1="233.80" y1="92.60" x2="233.80" y2="94.10" stroke="#111" stroke-width="0.70"/>
<line x1="234.80" y1="92.60" x2="234.80" y2="94.10" stroke="#111" stroke-width="0.70"/>
<g transform="translate(222.10 107.10) rotate(-45)">
<text x="0" y="0" font-size="8.2" fill="#222" text-anchor="end">10<tspan font-size="5.8" dy="-3.6">3</tspan></text>
</g>
<line x1="235.70" y1="92.60" x2="235.70" y2="95.60" stroke="#111" stroke-width="1.00"/>
<line x1="241.60" y1="92.60" x2="241.60" y2="94.10" stroke="#111" stroke-width="0.70"/>
<line x1="245.05" y1="92.60" x2="245.05" y2="94.10" stroke="#111" stroke-width="0.70"/>
<line x1="247.50" y1="92.60" x2="247.50" y2="94.10" stroke="#111" stroke-width="0.70"/>
<line x1="249.40" y1="92.60" x2="249.40" y2="94.10" stroke="#111" stroke-width="0.70"/>
<line x1="250.95" y1="92.60" x2="250.95" y2="94.10" stroke="#111" stroke-width="0.70"/>
<line x1="252.26" y1="92.60" x2="252.26" y2="94.10" stroke="#111" stroke-width="0.70"/>
<line x1="253.40" y1="92.60" x2="253.40" y2="94.10" stroke="#111" stroke-width="0.70"/>
<line x1="254.40" y1="92.60" x2="254.40" y2="94.10" stroke="#111" stroke-width="0.70"/>
<g transform="translate(241.70 107.10) rotate(-45)">
<text x="0" y="0" font-size="8.2" fill="#222" text-anchor="end">10<tspan font-size="5.8" dy="-3.6">4</tspan></text>
</g>
<line x1="255.30" y1="92.60" x2="255.30" y2="95.60" stroke="#111" stroke-width="1.00"/>
<line x1="261.20" y1="92.60" x2="261.20" y2="94.10" stroke="#111" stroke-width="0.70"/>
<g transform="translate(261.30 107.10) rotate(-45)">
<text x="0" y="0" font-size="8.2" fill="#222" text-anchor="end">10<tspan font-size="5.8" dy="-3.6">5</tspan></text>
</g>
<text x="-72.47" y="18.00" font-size="8.80" font-weight="bold" fill="#262626" textLength="21.52" lengthAdjust="spacingAndGlyphs" transform="rotate(-90.0 0.00 0.00)">% Max</text>
<line x1="46.20" y1="122.10" x2="258.78" y2="122.10" stroke="#3a3a3a" stroke-width="1.30"/>
<path d="M264.00,122.10 L255.30,118.10 L257.91,122.10 L255.30,126.10 Z" fill="#111" stroke="none" stroke-width="1.00"/>
<text x="147.14" y="135.40" font-size="9.30" font-weight="bold" fill="#222" textLength="16.09" lengthAdjust="spacingAndGlyphs">CD74</text>
<line x1="86.30" y1="147.20" x2="95.90" y2="147.20" stroke="#d23c5e" stroke-width="1.30"/>
<circle cx="91.10" cy="147.20" r="2.80" fill="#c0143c"/>
<text x="100.00" y="150.40" font-size="8.60" fill="#222" textLength="105.02" lengthAdjust="spacingAndGlyphs">STRO−001 + 1uM SP7219</text>
<line x1="210.40" y1="147.20" x2="220.40" y2="147.20" stroke="#2d5b8a" stroke-width="1.30"/>
<circle cx="215.30" cy="147.20" r="2.80" fill="#1f3f70"/>
<text x="224.53" y="150.40" font-size="8.60" fill="#222" textLength="41.48" lengthAdjust="spacingAndGlyphs">STRO−001</text>
<text x="86.43" y="165.00" font-size="10.80" fill="#1a1a1a" textLength="16.11" lengthAdjust="spacingAndGlyphs">K562</text>
<text x="210.55" y="165.00" font-size="9.90" font-weight="bold" fill="#222" textLength="26.84" lengthAdjust="spacingAndGlyphs">NOMO-1</text>
<line x1="45.80" y1="167.50" x2="45.80" y2="237.30" stroke="#111" stroke-width="1.30"/>
<line x1="45.20" y1="236.70" x2="146.50" y2="236.70" stroke="#111" stroke-width="1.30"/>
<line x1="42.80" y1="236.70" x2="45.80" y2="236.70" stroke="#111" stroke-width="1.00"/>
<text x="33.51" y="239.60" font-size="8.30" fill="#262626">0</text>
<line x1="42.80" y1="223.50" x2="45.80" y2="223.50" stroke="#111" stroke-width="1.00"/>
<text x="28.92" y="226.40" font-size="8.30" fill="#262626">25</text>
<line x1="42.80" y1="210.30" x2="45.80" y2="210.30" stroke="#111" stroke-width="1.00"/>
<text x="28.89" y="213.20" font-size="8.30" fill="#262626">50</text>
<line x1="42.80" y1="197.10" x2="45.80" y2="197.10" stroke="#111" stroke-width="1.00"/>
<text x="28.92" y="200.00" font-size="8.30" fill="#262626">75</text>
<line x1="42.80" y1="183.90" x2="45.80" y2="183.90" stroke="#111" stroke-width="1.00"/>
<text x="24.28" y="186.80" font-size="8.30" fill="#262626">100</text>
<line x1="42.80" y1="170.70" x2="45.80" y2="170.70" stroke="#111" stroke-width="1.00"/>
<text x="24.30" y="173.60" font-size="8.30" fill="#262626">125</text>
<line x1="45.80" y1="236.70" x2="45.80" y2="239.70" stroke="#111" stroke-width="1.00"/>
<g transform="translate(50.20 247.70) rotate(-45)"><text x="0" y="0" font-size="8.6" fill="#222" text-anchor="end">0.01</text></g>
<line x1="65.40" y1="236.70" x2="65.40" y2="239.70" stroke="#111" stroke-width="1.00"/>
<g transform="translate(69.80 247.70) rotate(-45)"><text x="0" y="0" font-size="8.6" fill="#222" text-anchor="end">0.1</text></g>
<line x1="85.00" y1="236.70" x2="85.00" y2="239.70" stroke="#111" stroke-width="1.00"/>
<g transform="translate(89.40 247.70) rotate(-45)"><text x="0" y="0" font-size="8.6" fill="#222" text-anchor="end">1</text></g>
<line x1="104.60" y1="236.70" x2="104.60" y2="239.70" stroke="#111" stroke-width="1.00"/>
<g transform="translate(109.00 247.70) rotate(-45)"><text x="0" y="0" font-size="8.6" fill="#222" text-anchor="end">10</text></g>
<line x1="124.20" y1="236.70" x2="124.20" y2="239.70" stroke="#111" stroke-width="1.00"/>
<g transform="translate(128.60 247.70) rotate(-45)"><text x="0" y="0" font-size="8.6" fill="#222" text-anchor="end">100</text></g>
<line x1="143.80" y1="236.70" x2="143.80" y2="239.70" stroke="#111" stroke-width="1.00"/>
<g transform="translate(148.20 247.70) rotate(-45)"><text x="0" y="0" font-size="8.6" fill="#222" text-anchor="end">1000</text></g>
<line x1="175.30" y1="168.30" x2="175.30" y2="237.60" stroke="#111" stroke-width="1.30"/>
<line x1="174.70" y1="237.00" x2="276.30" y2="237.00" stroke="#111" stroke-width="1.30"/>
<line x1="172.30" y1="237.00" x2="175.30" y2="237.00" stroke="#111" stroke-width="1.00"/>
<text x="163.01" y="239.90" font-size="8.30" fill="#262626">0</text>
<line x1="172.30" y1="223.80" x2="175.30" y2="223.80" stroke="#111" stroke-width="1.00"/>
<text x="158.42" y="226.70" font-size="8.30" fill="#262626">25</text>
<line x1="172.30" y1="210.60" x2="175.30" y2="210.60" stroke="#111" stroke-width="1.00"/>
<text x="158.39" y="213.50" font-size="8.30" fill="#262626">50</text>
<line x1="172.30" y1="197.40" x2="175.30" y2="197.40" stroke="#111" stroke-width="1.00"/>
<text x="158.42" y="200.30" font-size="8.30" fill="#262626">75</text>
<line x1="172.30" y1="184.20" x2="175.30" y2="184.20" stroke="#111" stroke-width="1.00"/>
<text x="153.78" y="187.10" font-size="8.30" fill="#262626">100</text>
<line x1="172.30" y1="171.00" x2="175.30" y2="171.00" stroke="#111" stroke-width="1.00"/>
<text x="153.80" y="173.90" font-size="8.30" fill="#262626">125</text>
<line x1="175.30" y1="237.00" x2="175.30" y2="240.00" stroke="#111" stroke-width="1.00"/>
<g transform="translate(179.70 248.00) rotate(-45)"><text x="0" y="0" font-size="8.6" fill="#222" text-anchor="end">0.01</text></g>
<line x1="194.90" y1="237.00" x2="194.90" y2="240.00" stroke="#111" stroke-width="1.00"/>
<g transform="translate(199.30 248.00) rotate(-45)"><text x="0" y="0" font-size="8.6" fill="#222" text-anchor="end">0.1</text></g>
<line x1="214.50" y1="237.00" x2="214.50" y2="240.00" stroke="#111" stroke-width="1.00"/>
<g transform="translate(218.90 248.00) rotate(-45)"><text x="0" y="0" font-size="8.6" fill="#222" text-anchor="end">1</text></g>
<line x1="234.10" y1="237.00" x2="234.10" y2="240.00" stroke="#111" stroke-width="1.00"/>
<g transform="translate(238.50 248.00) rotate(-45)"><text x="0" y="0" font-size="8.6" fill="#222" text-anchor="end">10</text></g>
<line x1="253.70" y1="237.00" x2="253.70" y2="240.00" stroke="#111" stroke-width="1.00"/>
<g transform="translate(258.10 248.00) rotate(-45)"><text x="0" y="0" font-size="8.6" fill="#222" text-anchor="end">100</text></g>
<line x1="273.30" y1="237.00" x2="273.30" y2="240.00" stroke="#111" stroke-width="1.00"/>
<g transform="translate(277.70 248.00) rotate(-45)"><text x="0" y="0" font-size="8.6" fill="#222" text-anchor="end">1000</text></g>
<line x1="45.80" y1="184.40" x2="144.80" y2="184.40" stroke="#d23c5e" stroke-width="1.40"/>
<line x1="45.80" y1="181.00" x2="45.80" y2="185.50" stroke="#c8385a" stroke-width="1.00"/>
<line x1="44.20" y1="181.00" x2="47.40" y2="181.00" stroke="#c8385a" stroke-width="1.00"/>
<line x1="44.20" y1="185.50" x2="47.40" y2="185.50" stroke="#c8385a" stroke-width="1.00"/>
<line x1="45.80" y1="182.50" x2="45.80" y2="189.90" stroke="#3f7fae" stroke-width="1.00"/>
<line x1="44.20" y1="182.50" x2="47.40" y2="182.50" stroke="#3f7fae" stroke-width="1.00"/>
<line x1="44.20" y1="189.90" x2="47.40" y2="189.90" stroke="#3f7fae" stroke-width="1.00"/>
<circle cx="45.80" cy="182.80" r="1.30" fill="#b0103a"/>
<circle cx="45.80" cy="186.70" r="1.30" fill="#1f3f70"/>
<line x1="65.40" y1="182.50" x2="65.40" y2="186.00" stroke="#c8385a" stroke-width="1.00"/>
<line x1="63.80" y1="182.50" x2="67.00" y2="182.50" stroke="#c8385a" stroke-width="1.00"/>
<line x1="63.80" y1="186.00" x2="67.00" y2="186.00" stroke="#c8385a" stroke-width="1.00"/>
<line x1="65.40" y1="179.30" x2="65.40" y2="188.80" stroke="#3f7fae" stroke-width="1.00"/>
<line x1="63.80" y1="179.30" x2="67.00" y2="179.30" stroke="#3f7fae" stroke-width="1.00"/>
<line x1="63.80" y1="188.80" x2="67.00" y2="188.80" stroke="#3f7fae" stroke-width="1.00"/>
<circle cx="65.40" cy="184.20" r="1.30" fill="#b0103a"/>
<circle cx="65.40" cy="184.00" r="1.30" fill="#1f3f70"/>
<line x1="85.00" y1="182.00" x2="85.00" y2="186.50" stroke="#c8385a" stroke-width="1.00"/>
<line x1="83.40" y1="182.00" x2="86.60" y2="182.00" stroke="#c8385a" stroke-width="1.00"/>
<line x1="83.40" y1="186.50" x2="86.60" y2="186.50" stroke="#c8385a" stroke-width="1.00"/>
<line x1="85.00" y1="175.30" x2="85.00" y2="190.20" stroke="#3f7fae" stroke-width="1.00"/>
<line x1="83.40" y1="175.30" x2="86.60" y2="175.30" stroke="#3f7fae" stroke-width="1.00"/>
<line x1="83.40" y1="190.20" x2="86.60" y2="190.20" stroke="#3f7fae" stroke-width="1.00"/>
<circle cx="85.00" cy="184.20" r="1.30" fill="#b0103a"/>
<circle cx="85.00" cy="184.00" r="1.30" fill="#1f3f70"/>
<line x1="104.60" y1="181.20" x2="104.60" y2="188.00" stroke="#c8385a" stroke-width="1.00"/>
<line x1="103.00" y1="181.20" x2="106.20" y2="181.20" stroke="#c8385a" stroke-width="1.00"/>
<line x1="103.00" y1="188.00" x2="106.20" y2="188.00" stroke="#c8385a" stroke-width="1.00"/>
<line x1="104.60" y1="183.50" x2="104.60" y2="186.20" stroke="#3f7fae" stroke-width="1.00"/>
<line x1="103.00" y1="183.50" x2="106.20" y2="183.50" stroke="#3f7fae" stroke-width="1.00"/>
<line x1="103.00" y1="186.20" x2="106.20" y2="186.20" stroke="#3f7fae" stroke-width="1.00"/>
<circle cx="104.60" cy="184.00" r="1.30" fill="#b0103a"/>
<circle cx="104.60" cy="184.80" r="1.30" fill="#1f3f70"/>
<line x1="124.20" y1="184.50" x2="124.20" y2="190.90" stroke="#c8385a" stroke-width="1.00"/>
<line x1="122.60" y1="184.50" x2="125.80" y2="184.50" stroke="#c8385a" stroke-width="1.00"/>
<line x1="122.60" y1="190.90" x2="125.80" y2="190.90" stroke="#c8385a" stroke-width="1.00"/>
<line x1="124.20" y1="177.20" x2="124.20" y2="185.60" stroke="#3f7fae" stroke-width="1.00"/>
<line x1="122.60" y1="177.20" x2="125.80" y2="177.20" stroke="#3f7fae" stroke-width="1.00"/>
<line x1="122.60" y1="185.60" x2="125.80" y2="185.60" stroke="#3f7fae" stroke-width="1.00"/>
<circle cx="124.20" cy="187.80" r="1.30" fill="#b0103a"/>
<circle cx="124.20" cy="183.50" r="1.30" fill="#1f3f70"/>
<line x1="143.80" y1="179.60" x2="143.80" y2="187.60" stroke="#c8385a" stroke-width="1.00"/>
<line x1="142.20" y1="179.60" x2="145.40" y2="179.60" stroke="#c8385a" stroke-width="1.00"/>
<line x1="142.20" y1="187.60" x2="145.40" y2="187.60" stroke="#c8385a" stroke-width="1.00"/>
<line x1="143.80" y1="182.80" x2="143.80" y2="186.50" stroke="#3f7fae" stroke-width="1.00"/>
<line x1="142.20" y1="182.80" x2="145.40" y2="182.80" stroke="#3f7fae" stroke-width="1.00"/>
<line x1="142.20" y1="186.50" x2="145.40" y2="186.50" stroke="#3f7fae" stroke-width="1.00"/>
<circle cx="143.80" cy="184.00" r="1.30" fill="#b0103a"/>
<circle cx="143.80" cy="184.50" r="1.30" fill="#1f3f70"/>
<path d="M175.30,184.20 L175.69,184.20 L176.08,184.20 L176.48,184.20 L176.87,184.20 L177.26,184.20 L177.65,184.20 L178.04,184.20 L178.44,184.20 L178.83,184.20 L179.22,184.20 L179.61,184.20 L180.00,184.20 L180.40,184.20 L180.79,184.20 L181.18,184.20 L181.57,184.20 L181.96,184.20 L182.36,184.20 L182.75,184.20 L183.14,184.20 L183.53,184.20 L183.92,184.20 L184.32,184.20 L184.71,184.20 L185.10,184.20 L185.49,184.20 L185.88,184.20 L186.28,184.20 L186.67,184.20 L187.06,184.20 L187.45,184.20 L187.84,184.20 L188.24,184.20 L188.63,184.20 L189.02,184.20 L189.41,184.20 L189.80,184.20 L190.20,184.20 L190.59,184.20 L190.98,184.20 L191.37,184.20 L191.76,184.20 L192.16,184.20 L192.55,184.20 L192.94,184.20 L193.33,184.20 L193.72,184.20 L194.12,184.20 L194.51,184.20 L194.90,184.20 L195.29,184.20 L195.68,184.20 L196.08,184.20 L196.47,184.20 L196.86,184.20 L197.25,184.20 L197.64,184.20 L198.04,184.20 L198.43,184.20 L198.82,184.20 L199.21,184.20 L199.60,184.20 L200.00,184.20 L200.39,184.20 L200.78,184.20 L201.17,184.20 L201.56,184.20 L201.96,184.20 L202.35,184.20 L202.74,184.20 L203.13,184.20 L203.52,184.20 L203.92,184.20 L204.31,184.20 L204.70,184.20 L205.09,184.20 L205.48,184.20 L205.88,184.20 L206.27,184.20 L206.66,184.20 L207.05,184.20 L207.44,184.20 L207.84,184.20 L208.23,184.20 L208.62,184.20 L209.01,184.20 L209.40,184.20 L209.80,184.20 L210.19,184.20 L210.58,184.20 L210.97,184.20 L211.36,184.20 L211.76,184.20 L212.15,184.20 L212.54,184.20 L212.93,184.20 L213.32,184.20 L213.72,184.20 L214.11,184.20 L214.50,184.20 L214.89,184.20 L215.28,184.20 L215.68,184.20 L216.07,184.20 L216.46,184.20 L216.85,184.20 L217.24,184.20 L217.64,184.20 L218.03,184.20 L218.42,184.20 L218.81,184.20 L219.20,184.20 L219.60,184.20 L219.99,184.20 L220.38,184.20 L220.77,184.20 L221.16,184.20 L221.56,184.20 L221.95,184.20 L222.34,184.20 L222.73,184.20 L223.12,184.20 L223.52,184.20 L223.91,184.20 L224.30,184.20 L224.69,184.20 L225.08,184.20 L225.48,184.20 L225.87,184.20 L226.26,184.20 L226.65,184.20 L227.04,184.20 L227.44,184.20 L227.83,184.20 L228.22,184.20 L228.61,184.20 L229.00,184.20 L229.40,184.20 L229.79,184.20 L230.18,184.20 L230.57,184.20 L230.96,184.20 L231.36,184.20 L231.75,184.20 L232.14,184.20 L232.53,184.20 L232.92,184.20 L233.32,184.20 L233.71,184.20 L234.10,184.20 L234.49,184.20 L234.88,184.20 L235.28,184.20 L235.67,184.20 L236.06,184.20 L236.45,184.20 L236.84,184.20 L237.24,184.20 L237.63,184.20 L238.02,184.20 L238.41,184.20 L238.80,184.20 L239.20,184.20 L239.59,184.20 L239.98,184.20 L240.37,184.20 L240.76,184.20 L241.16,184.20 L241.55,184.21 L241.94,184.21 L242.33,184.21 L242.72,184.22 L243.12,184.22 L243.51,184.23 L243.90,184.25 L244.29,184.26 L244.68,184.29 L245.08,184.32 L245.47,184.37 L245.86,184.43 L246.25,184.51 L246.64,184.63 L247.04,184.80 L247.43,185.02 L247.82,185.32 L248.21,185.74 L248.60,186.30 L249.00,187.06 L249.39,188.06 L249.78,189.39 L250.17,191.10 L250.56,193.28 L250.96,195.96 L251.35,199.17 L251.74,202.85 L252.13,206.90 L252.52,211.13 L252.92,215.33 L253.31,219.30 L253.70,222.87 L254.09,225.95 L254.48,228.51 L254.88,230.56 L255.27,232.17 L255.66,233.41 L256.05,234.35 L256.44,235.05 L256.84,235.58 L257.23,235.96 L257.62,236.24 L258.01,236.45 L258.40,236.60 L258.80,236.71 L259.19,236.79 L259.58,236.85 L259.97,236.89 L260.36,236.92 L260.76,236.94 L261.15,236.96 L261.54,236.97 L261.93,236.98 L262.32,236.98 L262.72,236.99 L263.11,236.99 L263.50,236.99 L263.89,237.00 L264.28,237.00 L264.68,237.00 L265.07,237.00 L265.46,237.00 L265.85,237.00 L266.24,237.00 L266.64,237.00 L267.03,237.00 L267.42,237.00 L267.81,237.00 L268.20,237.00 L268.60,237.00 L268.99,237.00 L269.38,237.00 L269.77,237.00 L270.16,237.00 L270.56,237.00 L270.95,237.00 L271.34,237.00 L271.73,237.00 L272.12,237.00 L272.52,237.00 L272.91,237.00 L273.30,237.00" fill="none" stroke="#d23c5e" stroke-width="1.40"/>
<path d="M175.30,184.21 L175.69,184.21 L176.08,184.21 L176.48,184.21 L176.87,184.21 L177.26,184.22 L177.65,184.22 L178.04,184.22 L178.44,184.22 L178.83,184.22 L179.22,184.22 L179.61,184.23 L180.00,184.23 L180.40,184.23 L180.79,184.23 L181.18,184.24 L181.57,184.24 L181.96,184.24 L182.36,184.24 L182.75,184.25 L183.14,184.25 L183.53,184.26 L183.92,184.26 L184.32,184.27 L184.71,184.27 L185.10,184.28 L185.49,184.29 L185.88,184.29 L186.28,184.30 L186.67,184.31 L187.06,184.32 L187.45,184.33 L187.84,184.34 L188.24,184.35 L188.63,184.36 L189.02,184.38 L189.41,184.39 L189.80,184.41 L190.20,184.42 L190.59,184.44 L190.98,184.46 L191.37,184.49 L191.76,184.51 L192.16,184.54 L192.55,184.56 L192.94,184.59 L193.33,184.63 L193.72,184.66 L194.12,184.70 L194.51,184.74 L194.90,184.79 L195.29,184.84 L195.68,184.89 L196.08,184.94 L196.47,185.01 L196.86,185.07 L197.25,185.14 L197.64,185.22 L198.04,185.31 L198.43,185.40 L198.82,185.50 L199.21,185.60 L199.60,185.72 L200.00,185.84 L200.39,185.97 L200.78,186.12 L201.17,186.27 L201.56,186.44 L201.96,186.61 L202.35,186.81 L202.74,187.01 L203.13,187.24 L203.52,187.48 L203.92,187.73 L204.31,188.01 L204.70,188.30 L205.09,188.62 L205.48,188.96 L205.88,189.32 L206.27,189.70 L206.66,190.11 L207.05,190.55 L207.44,191.01 L207.84,191.50 L208.23,192.03 L208.62,192.58 L209.01,193.16 L209.40,193.78 L209.80,194.43 L210.19,195.11 L210.58,195.82 L210.97,196.57 L211.36,197.35 L211.76,198.16 L212.15,199.00 L212.54,199.88 L212.93,200.78 L213.32,201.71 L213.72,202.66 L214.11,203.64 L214.50,204.64 L214.89,205.66 L215.28,206.70 L215.68,207.74 L216.07,208.80 L216.46,209.86 L216.85,210.92 L217.24,211.98 L217.64,213.04 L218.03,214.09 L218.42,215.13 L218.81,216.16 L219.20,217.16 L219.60,218.15 L219.99,219.12 L220.38,220.06 L220.77,220.97 L221.16,221.86 L221.56,222.71 L221.95,223.54 L222.34,224.33 L222.73,225.09 L223.12,225.81 L223.52,226.51 L223.91,227.17 L224.30,227.80 L224.69,228.39 L225.08,228.96 L225.48,229.49 L225.87,230.00 L226.26,230.47 L226.65,230.92 L227.04,231.34 L227.44,231.73 L227.83,232.10 L228.22,232.45 L228.61,232.78 L229.00,233.08 L229.40,233.36 L229.79,233.62 L230.18,233.87 L230.57,234.10 L230.96,234.31 L231.36,234.51 L231.75,234.70 L232.14,234.87 L232.53,235.03 L232.92,235.17 L233.32,235.31 L233.71,235.44 L234.10,235.55 L234.49,235.66 L234.88,235.76 L235.28,235.86 L235.67,235.94 L236.06,236.03 L236.45,236.10 L236.84,236.17 L237.24,236.23 L237.63,236.29 L238.02,236.34 L238.41,236.39 L238.80,236.44 L239.20,236.48 L239.59,236.52 L239.98,236.56 L240.37,236.59 L240.76,236.63 L241.16,236.65 L241.55,236.68 L241.94,236.71 L242.33,236.73 L242.72,236.75 L243.12,236.77 L243.51,236.79 L243.90,236.80 L244.29,236.82 L244.68,236.83 L245.08,236.84 L245.47,236.86 L245.86,236.87 L246.25,236.88 L246.64,236.89 L247.04,236.90 L247.43,236.90 L247.82,236.91 L248.21,236.92 L248.60,236.92 L249.00,236.93 L249.39,236.94 L249.78,236.94 L250.17,236.95 L250.56,236.95 L250.96,236.95 L251.35,236.96 L251.74,236.96 L252.13,236.96 L252.52,236.97 L252.92,236.97 L253.31,236.97 L253.70,236.97 L254.09,236.98 L254.48,236.98 L254.88,236.98 L255.27,236.98 L255.66,236.98 L256.05,236.98 L256.44,236.98 L256.84,236.99 L257.23,236.99 L257.62,236.99 L258.01,236.99 L258.40,236.99 L258.80,236.99 L259.19,236.99 L259.58,236.99 L259.97,236.99 L260.36,236.99 L260.76,236.99 L261.15,236.99 L261.54,236.99 L261.93,237.00 L262.32,237.00 L262.72,237.00 L263.11,237.00 L263.50,237.00 L263.89,237.00 L264.28,237.00 L264.68,237.00 L265.07,237.00 L265.46,237.00 L265.85,237.00 L266.24,237.00 L266.64,237.00 L267.03,237.00 L267.42,237.00 L267.81,237.00 L268.20,237.00 L268.60,237.00 L268.99,237.00 L269.38,237.00 L269.77,237.00 L270.16,237.00 L270.56,237.00 L270.95,237.00 L271.34,237.00 L271.73,237.00 L272.12,237.00 L272.52,237.00 L272.91,237.00 L273.30,237.00" fill="none" stroke="#2a5580" stroke-width="1.40"/>
<line x1="175.30" y1="172.50" x2="175.30" y2="190.00" stroke="#c8385a" stroke-width="1.00"/>
<line x1="173.70" y1="172.50" x2="176.90" y2="172.50" stroke="#c8385a" stroke-width="1.00"/>
<line x1="173.70" y1="190.00" x2="176.90" y2="190.00" stroke="#c8385a" stroke-width="1.00"/>
<line x1="194.90" y1="183.00" x2="194.90" y2="186.00" stroke="#c8385a" stroke-width="1.00"/>
<line x1="193.30" y1="183.00" x2="196.50" y2="183.00" stroke="#c8385a" stroke-width="1.00"/>
<line x1="193.30" y1="186.00" x2="196.50" y2="186.00" stroke="#c8385a" stroke-width="1.00"/>
<line x1="214.50" y1="174.50" x2="214.50" y2="183.20" stroke="#c8385a" stroke-width="1.00"/>
<line x1="212.90" y1="174.50" x2="216.10" y2="174.50" stroke="#c8385a" stroke-width="1.00"/>
<line x1="212.90" y1="183.20" x2="216.10" y2="183.20" stroke="#c8385a" stroke-width="1.00"/>
<line x1="234.10" y1="177.00" x2="234.10" y2="187.00" stroke="#c8385a" stroke-width="1.00"/>
<line x1="232.50" y1="177.00" x2="235.70" y2="177.00" stroke="#c8385a" stroke-width="1.00"/>
<line x1="232.50" y1="187.00" x2="235.70" y2="187.00" stroke="#c8385a" stroke-width="1.00"/>
<line x1="253.70" y1="220.50" x2="253.70" y2="223.00" stroke="#c8385a" stroke-width="1.00"/>
<line x1="252.10" y1="220.50" x2="255.30" y2="220.50" stroke="#c8385a" stroke-width="1.00"/>
<line x1="252.10" y1="223.00" x2="255.30" y2="223.00" stroke="#c8385a" stroke-width="1.00"/>
<line x1="273.30" y1="236.50" x2="273.30" y2="237.50" stroke="#c8385a" stroke-width="1.00"/>
<line x1="271.70" y1="236.50" x2="274.90" y2="236.50" stroke="#c8385a" stroke-width="1.00"/>
<line x1="271.70" y1="237.50" x2="274.90" y2="237.50" stroke="#c8385a" stroke-width="1.00"/>
<line x1="175.30" y1="180.50" x2="175.30" y2="183.50" stroke="#3f7fae" stroke-width="1.00"/>
<line x1="173.70" y1="180.50" x2="176.90" y2="180.50" stroke="#3f7fae" stroke-width="1.00"/>
<line x1="173.70" y1="183.50" x2="176.90" y2="183.50" stroke="#3f7fae" stroke-width="1.00"/>
<line x1="194.90" y1="182.60" x2="194.90" y2="187.30" stroke="#3f7fae" stroke-width="1.00"/>
<line x1="193.30" y1="182.60" x2="196.50" y2="182.60" stroke="#3f7fae" stroke-width="1.00"/>
<line x1="193.30" y1="187.30" x2="196.50" y2="187.30" stroke="#3f7fae" stroke-width="1.00"/>
<line x1="214.50" y1="204.00" x2="214.50" y2="205.60" stroke="#3f7fae" stroke-width="1.00"/>
<line x1="212.90" y1="204.00" x2="216.10" y2="204.00" stroke="#3f7fae" stroke-width="1.00"/>
<line x1="212.90" y1="205.60" x2="216.10" y2="205.60" stroke="#3f7fae" stroke-width="1.00"/>
<line x1="234.10" y1="236.00" x2="234.10" y2="237.00" stroke="#3f7fae" stroke-width="1.00"/>
<line x1="232.50" y1="236.00" x2="235.70" y2="236.00" stroke="#3f7fae" stroke-width="1.00"/>
<line x1="232.50" y1="237.00" x2="235.70" y2="237.00" stroke="#3f7fae" stroke-width="1.00"/>
<line x1="253.70" y1="236.00" x2="253.70" y2="237.50" stroke="#3f7fae" stroke-width="1.00"/>
<line x1="252.10" y1="236.00" x2="255.30" y2="236.00" stroke="#3f7fae" stroke-width="1.00"/>
<line x1="252.10" y1="237.50" x2="255.30" y2="237.50" stroke="#3f7fae" stroke-width="1.00"/>
<line x1="273.30" y1="236.50" x2="273.30" y2="237.50" stroke="#3f7fae" stroke-width="1.00"/>
<line x1="271.70" y1="236.50" x2="274.90" y2="236.50" stroke="#3f7fae" stroke-width="1.00"/>
<line x1="271.70" y1="237.50" x2="274.90" y2="237.50" stroke="#3f7fae" stroke-width="1.00"/>
<circle cx="175.30" cy="181.00" r="1.30" fill="#b0103a"/>
<circle cx="194.90" cy="184.50" r="1.30" fill="#b0103a"/>
<circle cx="214.50" cy="179.70" r="1.30" fill="#b0103a"/>
<circle cx="234.10" cy="181.00" r="1.30" fill="#b0103a"/>
<circle cx="253.70" cy="221.80" r="1.30" fill="#b0103a"/>
<circle cx="273.30" cy="237.00" r="1.30" fill="#b0103a"/>
<circle cx="175.30" cy="181.90" r="1.30" fill="#1f3f70"/>
<circle cx="194.90" cy="184.90" r="1.30" fill="#1f3f70"/>
<circle cx="214.50" cy="204.80" r="1.30" fill="#1f3f70"/>
<circle cx="234.10" cy="236.50" r="1.30" fill="#1f3f70"/>
<circle cx="253.70" cy="236.80" r="1.30" fill="#1f3f70"/>
<circle cx="273.30" cy="237.00" r="1.30" fill="#1f3f70"/>
<text x="224.62" y="198.20" font-size="8.60" fill="#c41e44" textLength="22.75" lengthAdjust="spacingAndGlyphs">IC50:</text>
<text x="217.41" y="208.30" font-size="8.60" fill="#c41e44" textLength="29.82" lengthAdjust="spacingAndGlyphs">86.6nM</text>
<text x="191.11" y="222.60" font-size="8.60" fill="#2f6194" textLength="22.96" lengthAdjust="spacingAndGlyphs">IC50:</text>
<text x="189.84" y="233.20" font-size="8.60" fill="#2f6194" textLength="24.07" lengthAdjust="spacingAndGlyphs">1.3nM</text>
<line x1="46.20" y1="270.40" x2="259.12" y2="270.40" stroke="#3a3a3a" stroke-width="1.10"/>
<path d="M263.80,270.40 L256.00,267.00 L258.34,270.40 L256.00,273.80 Z" fill="#111" stroke="none" stroke-width="1.00"/>
<text x="130.70" y="285.20" font-size="8.80" font-weight="bold" fill="#222" textLength="48.84" lengthAdjust="spacingAndGlyphs">STRO-001 (nM)</text>
<text x="-215.33" y="8.30" font-size="6.30" fill="#262626" textLength="22.94" lengthAdjust="spacingAndGlyphs" transform="rotate(-90.0 0.00 0.00)">Viability</text>
<text x="-233.98" y="15.50" font-size="6.30" fill="#262626" textLength="59.37" lengthAdjust="spacingAndGlyphs" transform="rotate(-90.0 0.00 0.00)">(percent of untreated)</text>
<line x1="48.80" y1="304.30" x2="48.80" y2="378.30" stroke="#111" stroke-width="1.30"/>
<line x1="48.20" y1="377.70" x2="155.00" y2="377.70" stroke="#111" stroke-width="1.30"/>
<line x1="45.60" y1="377.70" x2="48.80" y2="377.70" stroke="#111" stroke-width="1.00"/>
<text x="37.36" y="380.60" font-size="8.40" fill="#262626">0</text>
<line x1="45.60" y1="360.15" x2="48.80" y2="360.15" stroke="#111" stroke-width="1.00"/>
<text x="32.71" y="363.05" font-size="8.40" fill="#262626">25</text>
<line x1="45.60" y1="342.60" x2="48.80" y2="342.60" stroke="#111" stroke-width="1.00"/>
<text x="32.68" y="345.50" font-size="8.40" fill="#262626">50</text>
<line x1="45.60" y1="325.05" x2="48.80" y2="325.05" stroke="#111" stroke-width="1.00"/>
<text x="32.71" y="327.95" font-size="8.40" fill="#262626">75</text>
<line x1="45.60" y1="307.50" x2="48.80" y2="307.50" stroke="#111" stroke-width="1.00"/>
<text x="28.01" y="310.40" font-size="8.40" fill="#262626">100</text>
<line x1="48.90" y1="377.70" x2="48.90" y2="380.70" stroke="#111" stroke-width="1.00"/>
<g transform="translate(53.90 387.90) rotate(-45)"><text x="0" y="0" font-size="9.2" fill="#222" text-anchor="end">0</text></g>
<line x1="61.95" y1="377.70" x2="61.95" y2="380.70" stroke="#111" stroke-width="1.00"/>
<g transform="translate(66.95 387.90) rotate(-45)"><text x="0" y="0" font-size="9.2" fill="#222" text-anchor="end">14</text></g>
<line x1="75.00" y1="377.70" x2="75.00" y2="380.70" stroke="#111" stroke-width="1.00"/>
<g transform="translate(80.00 387.90) rotate(-45)"><text x="0" y="0" font-size="9.2" fill="#222" text-anchor="end">28</text></g>
<line x1="88.05" y1="377.70" x2="88.05" y2="380.70" stroke="#111" stroke-width="1.00"/>
<g transform="translate(93.05 387.90) rotate(-45)"><text x="0" y="0" font-size="9.2" fill="#222" text-anchor="end">42</text></g>
<line x1="101.10" y1="377.70" x2="101.10" y2="380.70" stroke="#111" stroke-width="1.00"/>
<g transform="translate(106.10 387.90) rotate(-45)"><text x="0" y="0" font-size="9.2" fill="#222" text-anchor="end">56</text></g>
<line x1="114.15" y1="377.70" x2="114.15" y2="380.70" stroke="#111" stroke-width="1.00"/>
<g transform="translate(119.15 387.90) rotate(-45)"><text x="0" y="0" font-size="9.2" fill="#222" text-anchor="end">70</text></g>
<line x1="127.20" y1="377.70" x2="127.20" y2="380.70" stroke="#111" stroke-width="1.00"/>
<g transform="translate(132.20 387.90) rotate(-45)"><text x="0" y="0" font-size="9.2" fill="#222" text-anchor="end">84</text></g>
<line x1="140.25" y1="377.70" x2="140.25" y2="380.70" stroke="#111" stroke-width="1.00"/>
<g transform="translate(145.25 387.90) rotate(-45)"><text x="0" y="0" font-size="9.2" fill="#222" text-anchor="end">98</text></g>
<line x1="153.30" y1="377.70" x2="153.30" y2="380.70" stroke="#111" stroke-width="1.00"/>
<g transform="translate(158.30 387.90) rotate(-45)"><text x="0" y="0" font-size="9.2" fill="#222" text-anchor="end">112</text></g>
<path d="M48.80,307.20 H125.30 V321.50 H146.40 V335.40 H149.00 V349.30 H153.80 M153.40,349.30 V347.60" fill="none" stroke="#4a6f96" stroke-width="1.20"/>
<path d="M48.80,307.80 H88.20 V377.70" fill="none" stroke="#c8284a" stroke-width="1.20"/>
<text x="58.18" y="406.80" font-size="9.60" font-weight="bold" fill="#2a2a2a" textLength="85.40" lengthAdjust="spacingAndGlyphs">Days post leukemia injection</text>
<text x="-365.67" y="20.00" font-size="7.40" font-weight="bold" fill="#262626" textLength="42.76" lengthAdjust="spacingAndGlyphs" transform="rotate(-90.0 0.00 0.00)">Percent survival</text>
<line x1="165.60" y1="334.80" x2="176.10" y2="334.80" stroke="#c8284a" stroke-width="1.10"/>
<line x1="170.80" y1="333.50" x2="170.80" y2="334.80" stroke="#c8284a" stroke-width="0.90"/>
<text x="179.52" y="338.30" font-size="8.30" fill="#222" textLength="38.65" lengthAdjust="spacingAndGlyphs">Untreated</text>
<text x="179.81" y="349.30" font-size="8.30" fill="#222" textLength="43.62" lengthAdjust="spacingAndGlyphs">STRO−001</text>
<line x1="165.60" y1="352.00" x2="176.10" y2="352.00" stroke="#4a6f96" stroke-width="1.10"/>
<line x1="170.80" y1="350.70" x2="170.80" y2="352.00" stroke="#4a6f96" stroke-width="0.90"/>
<text x="179.85" y="359.80" font-size="8.30" fill="#222" textLength="32.95" lengthAdjust="spacingAndGlyphs">3mg/mL</text>
<text x="228.63" y="309.10" font-size="8.00" fill="#222" textLength="57.91" lengthAdjust="spacingAndGlyphs">Median Survival</text>
<text x="245.40" y="319.40" font-size="8.00" fill="#222" textLength="23.80" lengthAdjust="spacingAndGlyphs">(Days)</text>
<text x="240.39" y="337.40" font-size="8.30" fill="#222" textLength="10.28" lengthAdjust="spacingAndGlyphs">42</text>
<text x="238.78" y="354.00" font-size="8.30" fill="#222" textLength="13.63" lengthAdjust="spacingAndGlyphs">107</text>
<line x1="257.60" y1="327.10" x2="257.60" y2="357.80" stroke="#222" stroke-width="1.10"/>
<text x="261.18" y="343.30" font-size="8.00" fill="#222" textLength="5.94" lengthAdjust="spacingAndGlyphs">**</text>
<text x="337.9" y="71.2" font-size="8.65" fill="#222">1x10<tspan font-size="5.8" dy="-3.8">6</tspan><tspan dy="3.8"> NOMO-1 cells/ NSG mouse</tspan></text>
<path d="M338.4,93.3 L351,93.3" fill="none" stroke="#555" stroke-width="0.80"/>
<path d="M350.2,93.6 C350.0,90.0 352.0,87.6 354.8,87.6 C357.8,87.6 360.5,89.2 362.4,90.6 C363.6,91.5 364.6,92.6 364.6,93.4 Z" fill="#7a7a7a" stroke="none" stroke-width="1.00"/>
<path d="M350.2,93.6 C350.0,90.0 352.0,87.6 354.8,87.6 C353.2,88.8 352.6,91.0 353.6,93.6 Z" fill="#2a2a2a" stroke="none" stroke-width="1.00"/>
<path d="M355.5,88.2 C357.5,88.4 359.5,89.4 360.6,90.6 C358.6,90.2 356.8,89.6 355.5,88.2 Z" fill="#cfcfcf" stroke="none" stroke-width="1.00"/>
<path d="M359.0,89.2 C359.6,88.2 360.8,88.2 361.0,89.4 Z" fill="#444" stroke="none" stroke-width="1.00"/>
<circle cx="361.60" cy="90.90" r="0.75" fill="#111"/>
<path d="M362.3,88.3 C363.5,85.5 365.5,82.5 368.3,81.0" fill="none" stroke="#444" stroke-width="0.60" stroke-dasharray="1,0.8"/>
<circle cx="370.30" cy="79.60" r="2.90" fill="#f2e24a"/>
<path d="M370.3,79.6 L372.6,77.6 A3,3 0 0,1 373.2,80.6 Z M370.3,79.6 L368.0,77.6 A3,3 0 0,1 370.0,76.7 Z M370.3,79.6 L369.4,82.4 A3,3 0 0,0 371.6,82.3 Z" fill="#111" stroke="none" stroke-width="1.00"/>
<text x="371.88" y="88.50" font-size="8.20" fill="#2a2a2a" textLength="27.90" lengthAdjust="spacingAndGlyphs">ADC Tx</text>
<path d="M371.60,91.0 L376.40,91.0 L374.00,94.9 Z" fill="#1f4f8c" stroke="none" stroke-width="1.00"/>
<path d="M382.10,91.0 L386.90,91.0 L384.50,94.9 Z" fill="#1f4f8c" stroke="none" stroke-width="1.00"/>
<path d="M394.20,91.0 L399.00,91.0 L396.60,94.9 Z" fill="#1f4f8c" stroke="none" stroke-width="1.00"/>
<line x1="352.80" y1="96.80" x2="470.00" y2="96.80" stroke="#555" stroke-width="1.30"/>
<line x1="474.00" y1="96.80" x2="485.00" y2="96.80" stroke="#555" stroke-width="1.30"/>
<path d="M469.6,99.0 L472.2,94.6 M472.0,99.0 L474.6,94.6" fill="none" stroke="#555" stroke-width="0.80"/>
<path d="M491.0,96.8 L482.6,93.4 L484.8,96.8 L482.6,100.2 Z" fill="#222" stroke="none" stroke-width="1.00"/>
<line x1="361.60" y1="96.80" x2="361.60" y2="99.60" stroke="#333" stroke-width="0.90"/>
<line x1="373.12" y1="96.80" x2="373.12" y2="98.80" stroke="#333" stroke-width="0.90"/>
<line x1="384.64" y1="96.80" x2="384.64" y2="99.60" stroke="#333" stroke-width="0.90"/>
<line x1="396.16" y1="96.80" x2="396.16" y2="98.80" stroke="#333" stroke-width="0.90"/>
<line x1="407.68" y1="96.80" x2="407.68" y2="99.60" stroke="#333" stroke-width="0.90"/>
<line x1="419.20" y1="96.80" x2="419.20" y2="98.80" stroke="#333" stroke-width="0.90"/>
<line x1="430.72" y1="96.80" x2="430.72" y2="99.60" stroke="#333" stroke-width="0.90"/>
<line x1="442.24" y1="96.80" x2="442.24" y2="98.80" stroke="#333" stroke-width="0.90"/>
<line x1="453.76" y1="96.80" x2="453.76" y2="99.60" stroke="#333" stroke-width="0.90"/>
<text x="361.60" y="111.2" font-size="8.5" fill="#2a2a2a" text-anchor="middle">0</text>
<text x="384.64" y="111.2" font-size="8.5" fill="#2a2a2a" text-anchor="middle">14</text>
<text x="407.68" y="111.2" font-size="8.5" fill="#2a2a2a" text-anchor="middle">28</text>
<text x="430.72" y="111.2" font-size="8.5" fill="#2a2a2a" text-anchor="middle">42</text>
<text x="453.76" y="111.2" font-size="8.5" fill="#2a2a2a" text-anchor="middle">56</text>
<text x="315.54" y="111.20" font-size="8.30" font-weight="bold" fill="#262626" textLength="33.60" lengthAdjust="spacingAndGlyphs">Time (Days):</text>
<text x="394.12" y="125.40" font-size="8.20" fill="#262626" textLength="90.62" lengthAdjust="spacingAndGlyphs">Tumor burden measured</text>
<text x="396.81" y="135.00" font-size="8.20" fill="#262626" textLength="85.02" lengthAdjust="spacingAndGlyphs">weekly by IVIS imaging</text>
<text x="358.25" y="167.70" font-size="8.20" fill="#262626" textLength="37.10" lengthAdjust="spacingAndGlyphs">Untreated</text>
<text x="413.22" y="157.20" font-size="8.20" fill="#262626" textLength="40.40" lengthAdjust="spacingAndGlyphs">STRO-001</text>
<text x="419.67" y="166.90" font-size="8.20" fill="#262626" textLength="28.70" lengthAdjust="spacingAndGlyphs">3mg/kg</text>
<text x="339.5" y="191.20" font-size="8.2" fill="#262626" text-anchor="middle">7</text>
<text x="339.5" y="217.70" font-size="8.2" fill="#262626" text-anchor="middle">14</text>
<text x="339.5" y="245.20" font-size="8.2" fill="#262626" text-anchor="middle">21</text>
<text x="339.5" y="271.90" font-size="8.2" fill="#262626" text-anchor="middle">28</text>
<text x="339.5" y="298.10" font-size="8.2" fill="#262626" text-anchor="middle">35</text>
<text x="339.5" y="325.80" font-size="8.2" fill="#262626" text-anchor="middle">49</text>
<line x1="327.60" y1="173.00" x2="327.60" y2="329.00" stroke="#333" stroke-width="1.10"/>
<path d="M327.6,335.0 L324.3,326.2 L327.6,328.4 L330.9,326.2 Z" fill="#111" stroke="none" stroke-width="1.00"/>
<text x="-299.09" y="320.90" font-size="8.80" fill="#1a1a1a" textLength="91.56" lengthAdjust="spacingAndGlyphs" transform="rotate(-90.0 0.00 0.00)">Days post leukemia injection</text>
<defs><linearGradient id="cb" x1="0" y1="1" x2="0" y2="0"><stop offset="0" stop-color="#2a1a6a"/><stop offset="0.12" stop-color="#2a3ab8"/><stop offset="0.3" stop-color="#3aa0e8"/><stop offset="0.45" stop-color="#3cc060"/><stop offset="0.62" stop-color="#b8d820"/><stop offset="0.75" stop-color="#f0d010"/><stop offset="0.87" stop-color="#f06010"/><stop offset="1" stop-color="#b01010"/></linearGradient></defs>
<rect x="466.80" y="228.80" width="3.90" height="61.00" fill="url(#cb)"/>
<line x1="470.90" y1="228.80" x2="470.90" y2="289.80" stroke="#222" stroke-width="0.60"/>
<line x1="470.90" y1="229.80" x2="473.20" y2="229.80" stroke="#222" stroke-width="0.60"/>
<line x1="470.90" y1="232.76" x2="472.30" y2="232.76" stroke="#222" stroke-width="0.60"/>
<line x1="470.90" y1="235.72" x2="472.30" y2="235.72" stroke="#222" stroke-width="0.60"/>
<line x1="470.90" y1="238.68" x2="472.30" y2="238.68" stroke="#222" stroke-width="0.60"/>
<line x1="470.90" y1="241.64" x2="473.20" y2="241.64" stroke="#222" stroke-width="0.60"/>
<line x1="470.90" y1="244.60" x2="472.30" y2="244.60" stroke="#222" stroke-width="0.60"/>
<line x1="470.90" y1="247.56" x2="472.30" y2="247.56" stroke="#222" stroke-width="0.60"/>
<line x1="470.90" y1="250.52" x2="472.30" y2="250.52" stroke="#222" stroke-width="0.60"/>
<line x1="470.90" y1="253.48" x2="473.20" y2="253.48" stroke="#222" stroke-width="0.60"/>
<line x1="470.90" y1="256.44" x2="472.30" y2="256.44" stroke="#222" stroke-width="0.60"/>
<line x1="470.90" y1="259.40" x2="472.30" y2="259.40" stroke="#222" stroke-width="0.60"/>
<line x1="470.90" y1="262.36" x2="472.30" y2="262.36" stroke="#222" stroke-width="0.60"/>
<line x1="470.90" y1="265.32" x2="473.20" y2="265.32" stroke="#222" stroke-width="0.60"/>
<line x1="470.90" y1="268.28" x2="472.30" y2="268.28" stroke="#222" stroke-width="0.60"/>
<line x1="470.90" y1="271.24" x2="472.30" y2="271.24" stroke="#222" stroke-width="0.60"/>
<line x1="470.90" y1="274.20" x2="472.30" y2="274.20" stroke="#222" stroke-width="0.60"/>
<line x1="470.90" y1="277.16" x2="473.20" y2="277.16" stroke="#222" stroke-width="0.60"/>
<line x1="470.90" y1="280.12" x2="472.30" y2="280.12" stroke="#222" stroke-width="0.60"/>
<line x1="470.90" y1="283.08" x2="472.30" y2="283.08" stroke="#222" stroke-width="0.60"/>
<line x1="470.90" y1="286.04" x2="472.30" y2="286.04" stroke="#222" stroke-width="0.60"/>
<line x1="470.90" y1="289.00" x2="473.20" y2="289.00" stroke="#222" stroke-width="0.60"/>
<text x="477.91" y="232.70" font-size="8.20" fill="#262626" textLength="12.65" lengthAdjust="spacingAndGlyphs">1.0</text>
<text x="478.25" y="245.30" font-size="8.20" fill="#262626" textLength="12.33" lengthAdjust="spacingAndGlyphs">0.8</text>
<text x="478.25" y="257.90" font-size="8.20" fill="#262626" textLength="12.34" lengthAdjust="spacingAndGlyphs">0.6</text>
<text x="478.26" y="270.70" font-size="8.20" fill="#262626" textLength="12.20" lengthAdjust="spacingAndGlyphs">0.4</text>
<text x="478.25" y="282.40" font-size="8.20" fill="#262626" textLength="12.40" lengthAdjust="spacingAndGlyphs">0.2</text>
<g transform="translate(496.0 253.2) rotate(90)"><text x="0" y="0" font-size="9.4" font-weight="bold" fill="#222" textLength="9.8" lengthAdjust="spacingAndGlyphs">x10</text><text x="10.1" y="-4.2" font-size="6.2" font-weight="bold" fill="#222" textLength="2.6" lengthAdjust="spacingAndGlyphs">6</text></g>
<text x="465.53" y="303.50" font-size="8.00" fill="#222" textLength="34.33" lengthAdjust="spacingAndGlyphs">Radiance</text>
<text x="465.76" y="324.00" font-size="8.00" fill="#222" textLength="44.42" lengthAdjust="spacingAndGlyphs">Color Scale</text>
<text x="465.6" y="313.4" font-size="8.0" fill="#222" textLength="53.5" lengthAdjust="spacingAndGlyphs">(p/sec/cm<tspan font-size="5.4" dy="-3.2">2</tspan><tspan dy="3.2">/sr)</tspan></text>
<text x="465.6" y="333.9" font-size="8.0" fill="#222">Min = 5x10<tspan font-size="5.4" dy="-3.2">4</tspan></text>
<text x="465.6" y="344.2" font-size="8.0" fill="#222">Max = 1x10<tspan font-size="5.4" dy="-3.2">6</tspan></text>
<defs>
<radialGradient id="gmouse" cx="0.5" cy="0.6" r="0.55">
<stop offset="0" stop-color="#f2f2f2"/><stop offset="0.6" stop-color="#d8d8d8"/>
<stop offset="1" stop-color="#909090"/>
</radialGradient>
<filter id="bl" x="-5%" y="-5%" width="110%" height="110%"><feGaussianBlur stdDeviation="0.55"/></filter>
<filter id="bl2" x="-5%" y="-5%" width="110%" height="110%"><feGaussianBlur stdDeviation="0.9"/></filter>
</defs>
<clipPath id="c1"><rect x="350.60" y="172.90" width="53.20" height="25.60"/></clipPath>
<g clip-path="url(#c1)">
<rect x="350.60" y="172.90" width="53.20" height="25.60" fill="#141016"/>
<g filter="url(#bl)">
<path d="M359.20,177.10 C359.50,177.10 359.87,177.10 360.10,177.29 C360.33,177.49 360.39,177.78 360.59,178.27 C360.80,178.76 361.00,179.44 361.33,180.22 C361.66,181.00 362.25,181.91 362.56,182.95 C362.88,183.99 363.10,185.29 363.22,186.46 C363.34,187.63 363.35,188.73 363.30,189.97 C363.25,191.21 363.20,192.80 362.89,193.87 C362.58,194.94 362.07,195.95 361.46,196.41 C360.84,196.86 359.95,196.60 359.20,196.60 C358.45,196.60 357.56,196.86 356.95,196.41 C356.33,195.95 355.82,194.94 355.51,193.87 C355.20,192.80 355.15,191.21 355.10,189.97 C355.05,188.73 355.06,187.63 355.18,186.46 C355.31,185.29 355.52,183.99 355.84,182.95 C356.15,181.91 356.74,181.00 357.07,180.22 C357.40,179.44 357.60,178.76 357.81,178.27 C358.01,177.78 358.07,177.49 358.30,177.29 C358.53,177.10 358.90,177.10 359.20,177.10 Z" fill="#4c3ec4" stroke="none" stroke-width="1.00"/>
<rect x="358.60" y="173.50" width="1.20" height="4.40" fill="#e8e0f0"/>
<path d="M355.80,186.70 L362.80,185.90 L361.40,190.50 L359.50,192.30 L356.80,190.30 Z" fill="#f6f2ff" stroke="none" stroke-width="1.00"/>
<rect x="356.00" y="193.90" width="6.40" height="2.80" fill="#4a3a90"/>
<path d="M368.70,177.10 C369.00,177.10 369.37,177.10 369.60,177.29 C369.83,177.49 369.89,177.78 370.09,178.27 C370.30,178.76 370.50,179.44 370.83,180.22 C371.16,181.00 371.75,181.91 372.06,182.95 C372.38,183.99 372.60,185.29 372.72,186.46 C372.84,187.63 372.85,188.73 372.80,189.97 C372.75,191.21 372.70,192.80 372.39,193.87 C372.08,194.94 371.57,195.95 370.96,196.41 C370.34,196.86 369.45,196.60 368.70,196.60 C367.95,196.60 367.06,196.86 366.45,196.41 C365.83,195.95 365.32,194.94 365.01,193.87 C364.70,192.80 364.65,191.21 364.60,189.97 C364.55,188.73 364.56,187.63 364.68,186.46 C364.81,185.29 365.02,183.99 365.34,182.95 C365.65,181.91 366.24,181.00 366.57,180.22 C366.90,179.44 367.10,178.76 367.31,178.27 C367.51,177.78 367.57,177.49 367.80,177.29 C368.03,177.10 368.40,177.10 368.70,177.10 Z" fill="#4c3ec4" stroke="none" stroke-width="1.00"/>
<rect x="368.10" y="173.50" width="1.20" height="4.40" fill="#e8e0f0"/>
<path d="M365.30,186.70 L372.30,185.90 L370.90,190.50 L369.00,192.30 L366.30,190.30 Z" fill="#f6f2ff" stroke="none" stroke-width="1.00"/>
<rect x="365.50" y="193.90" width="6.40" height="2.80" fill="#4a3a90"/>
<path d="M378.20,177.10 C378.50,177.10 378.87,177.10 379.10,177.29 C379.33,177.49 379.39,177.78 379.59,178.27 C379.80,178.76 380.00,179.44 380.33,180.22 C380.66,181.00 381.25,181.91 381.56,182.95 C381.88,183.99 382.10,185.29 382.22,186.46 C382.34,187.63 382.35,188.73 382.30,189.97 C382.25,191.21 382.20,192.80 381.89,193.87 C381.58,194.94 381.07,195.95 380.46,196.41 C379.84,196.86 378.95,196.60 378.20,196.60 C377.45,196.60 376.56,196.86 375.95,196.41 C375.33,195.95 374.82,194.94 374.51,193.87 C374.20,192.80 374.15,191.21 374.10,189.97 C374.05,188.73 374.06,187.63 374.18,186.46 C374.31,185.29 374.52,183.99 374.84,182.95 C375.15,181.91 375.74,181.00 376.07,180.22 C376.40,179.44 376.60,178.76 376.81,178.27 C377.01,177.78 377.07,177.49 377.30,177.29 C377.53,177.10 377.90,177.10 378.20,177.10 Z" fill="#4c3ec4" stroke="none" stroke-width="1.00"/>
<rect x="377.60" y="173.50" width="1.20" height="4.40" fill="#e8e0f0"/>
<path d="M374.80,186.70 L381.80,185.90 L380.40,190.50 L378.50,192.30 L375.80,190.30 Z" fill="#f6f2ff" stroke="none" stroke-width="1.00"/>
<rect x="375.00" y="193.90" width="6.40" height="2.80" fill="#4a3a90"/>
<path d="M387.70,177.10 C388.00,177.10 388.37,177.10 388.60,177.29 C388.83,177.49 388.89,177.78 389.09,178.27 C389.30,178.76 389.50,179.44 389.83,180.22 C390.16,181.00 390.75,181.91 391.06,182.95 C391.38,183.99 391.60,185.29 391.72,186.46 C391.84,187.63 391.85,188.73 391.80,189.97 C391.75,191.21 391.70,192.80 391.39,193.87 C391.08,194.94 390.57,195.95 389.96,196.41 C389.34,196.86 388.45,196.60 387.70,196.60 C386.95,196.60 386.06,196.86 385.45,196.41 C384.83,195.95 384.32,194.94 384.01,193.87 C383.70,192.80 383.65,191.21 383.60,189.97 C383.55,188.73 383.56,187.63 383.68,186.46 C383.81,185.29 384.02,183.99 384.34,182.95 C384.65,181.91 385.24,181.00 385.57,180.22 C385.90,179.44 386.10,178.76 386.31,178.27 C386.51,177.78 386.57,177.49 386.80,177.29 C387.03,177.10 387.40,177.10 387.70,177.10 Z" fill="#4c3ec4" stroke="none" stroke-width="1.00"/>
<rect x="387.10" y="173.50" width="1.20" height="4.40" fill="#e8e0f0"/>
<path d="M384.30,186.70 L391.30,185.90 L389.90,190.50 L388.00,192.30 L385.30,190.30 Z" fill="#f6f2ff" stroke="none" stroke-width="1.00"/>
<rect x="384.50" y="193.90" width="6.40" height="2.80" fill="#4a3a90"/>
<path d="M397.20,177.10 C397.50,177.10 397.87,177.10 398.10,177.29 C398.33,177.49 398.39,177.78 398.59,178.27 C398.80,178.76 399.00,179.44 399.33,180.22 C399.66,181.00 400.25,181.91 400.56,182.95 C400.88,183.99 401.10,185.29 401.22,186.46 C401.34,187.63 401.35,188.73 401.30,189.97 C401.25,191.21 401.20,192.80 400.89,193.87 C400.58,194.94 400.07,195.95 399.46,196.41 C398.84,196.86 397.95,196.60 397.20,196.60 C396.45,196.60 395.56,196.86 394.95,196.41 C394.33,195.95 393.82,194.94 393.51,193.87 C393.20,192.80 393.15,191.21 393.10,189.97 C393.05,188.73 393.06,187.63 393.18,186.46 C393.31,185.29 393.52,183.99 393.84,182.95 C394.15,181.91 394.74,181.00 395.07,180.22 C395.40,179.44 395.60,178.76 395.81,178.27 C396.01,177.78 396.07,177.49 396.30,177.29 C396.53,177.10 396.90,177.10 397.20,177.10 Z" fill="#4c3ec4" stroke="none" stroke-width="1.00"/>
<rect x="396.60" y="173.50" width="1.20" height="4.40" fill="#e8e0f0"/>
<path d="M393.80,186.70 L400.80,185.90 L399.40,190.50 L397.50,192.30 L394.80,190.30 Z" fill="#f6f2ff" stroke="none" stroke-width="1.00"/>
<rect x="394.00" y="193.90" width="6.40" height="2.80" fill="#4a3a90"/>
</g>
</g>
<clipPath id="c2"><rect x="350.60" y="200.25" width="53.20" height="25.60"/></clipPath>
<g clip-path="url(#c2)">
<rect x="350.60" y="200.25" width="53.20" height="25.60" fill="#4b3db6"/>
<g filter="url(#bl)">
<ellipse cx="359.20" cy="210.25" rx="4.60" ry="6.60" fill="#3a8ad8"/>
<ellipse cx="359.20" cy="210.25" rx="4.10" ry="5.90" fill="#4cc470"/>
<ellipse cx="359.20" cy="210.25" rx="3.50" ry="5.00" fill="#e8e030"/>
<ellipse cx="359.20" cy="210.25" rx="3.00" ry="4.30" fill="#ff8a10"/>
<ellipse cx="359.20" cy="210.25" rx="2.60" ry="3.70" fill="#ff1a10"/>
<circle cx="356.60" cy="219.45" r="2.70" fill="#40b0a0"/>
<circle cx="356.60" cy="219.45" r="2.20" fill="#e8d030"/>
<circle cx="356.60" cy="219.45" r="1.70" fill="#ff1a10"/>
<circle cx="361.90" cy="219.05" r="2.70" fill="#40b0a0"/>
<circle cx="361.90" cy="219.05" r="2.20" fill="#e8d030"/>
<circle cx="361.90" cy="219.05" r="1.70" fill="#ff1a10"/>
<ellipse cx="368.70" cy="210.25" rx="5.98" ry="8.58" fill="#3a8ad8"/>
<ellipse cx="368.70" cy="210.25" rx="5.33" ry="7.67" fill="#4cc470"/>
<ellipse cx="368.70" cy="210.25" rx="4.55" ry="6.50" fill="#e8e030"/>
<ellipse cx="368.70" cy="210.25" rx="3.90" ry="5.59" fill="#ff8a10"/>
<ellipse cx="368.70" cy="210.25" rx="3.38" ry="4.81" fill="#ff1a10"/>
<circle cx="366.10" cy="219.45" r="2.70" fill="#40b0a0"/>
<circle cx="366.10" cy="219.45" r="2.20" fill="#e8d030"/>
<circle cx="366.10" cy="219.45" r="1.70" fill="#ff1a10"/>
<circle cx="371.40" cy="219.05" r="2.70" fill="#40b0a0"/>
<circle cx="371.40" cy="219.05" r="2.20" fill="#e8d030"/>
<circle cx="371.40" cy="219.05" r="1.70" fill="#ff1a10"/>
<ellipse cx="378.20" cy="210.25" rx="4.83" ry="6.93" fill="#3a8ad8"/>
<ellipse cx="378.20" cy="210.25" rx="4.30" ry="6.20" fill="#4cc470"/>
<ellipse cx="378.20" cy="210.25" rx="3.68" ry="5.25" fill="#e8e030"/>
<ellipse cx="378.20" cy="210.25" rx="3.15" ry="4.51" fill="#ff8a10"/>
<ellipse cx="378.20" cy="210.25" rx="2.73" ry="3.89" fill="#ff1a10"/>
<circle cx="375.60" cy="219.45" r="2.70" fill="#40b0a0"/>
<circle cx="375.60" cy="219.45" r="2.20" fill="#e8d030"/>
<circle cx="375.60" cy="219.45" r="1.70" fill="#ff1a10"/>
<circle cx="380.90" cy="219.05" r="2.70" fill="#40b0a0"/>
<circle cx="380.90" cy="219.05" r="2.20" fill="#e8d030"/>
<circle cx="380.90" cy="219.05" r="1.70" fill="#ff1a10"/>
<ellipse cx="387.70" cy="210.25" rx="4.60" ry="6.60" fill="#3a8ad8"/>
<ellipse cx="387.70" cy="210.25" rx="4.10" ry="5.90" fill="#4cc470"/>
<ellipse cx="387.70" cy="210.25" rx="3.50" ry="5.00" fill="#e8e030"/>
<ellipse cx="387.70" cy="210.25" rx="3.00" ry="4.30" fill="#ff8a10"/>
<ellipse cx="387.70" cy="210.25" rx="2.60" ry="3.70" fill="#ff1a10"/>
<circle cx="385.10" cy="219.45" r="2.70" fill="#40b0a0"/>
<circle cx="385.10" cy="219.45" r="2.20" fill="#e8d030"/>
<circle cx="385.10" cy="219.45" r="1.70" fill="#ff1a10"/>
<circle cx="390.40" cy="219.05" r="2.70" fill="#40b0a0"/>
<circle cx="390.40" cy="219.05" r="2.20" fill="#e8d030"/>
<circle cx="390.40" cy="219.05" r="1.70" fill="#ff1a10"/>
<ellipse cx="397.20" cy="210.25" rx="4.37" ry="6.27" fill="#3a8ad8"/>
<ellipse cx="397.20" cy="210.25" rx="3.89" ry="5.61" fill="#4cc470"/>
<ellipse cx="397.20" cy="210.25" rx="3.32" ry="4.75" fill="#e8e030"/>
<ellipse cx="397.20" cy="210.25" rx="2.85" ry="4.08" fill="#ff8a10"/>
<ellipse cx="397.20" cy="210.25" rx="2.47" ry="3.52" fill="#ff1a10"/>
<circle cx="394.60" cy="219.45" r="2.70" fill="#40b0a0"/>
<circle cx="394.60" cy="219.45" r="2.20" fill="#e8d030"/>
<circle cx="394.60" cy="219.45" r="1.70" fill="#ff1a10"/>
<circle cx="399.90" cy="219.05" r="2.70" fill="#40b0a0"/>
<circle cx="399.90" cy="219.05" r="2.20" fill="#e8d030"/>
<circle cx="399.90" cy="219.05" r="1.70" fill="#ff1a10"/>
</g>
</g>
<clipPath id="c3"><rect x="350.60" y="227.60" width="53.20" height="25.60"/></clipPath>
<g clip-path="url(#c3)">
<rect x="350.60" y="227.60" width="53.20" height="25.60" fill="#4b3db6"/>
<g filter="url(#bl)">
<path d="M359.20,229.10 C359.53,229.10 359.94,229.10 360.19,229.33 C360.45,229.55 360.50,229.89 360.73,230.45 C360.96,231.01 361.18,231.80 361.54,232.70 C361.90,233.60 362.55,234.65 362.89,235.85 C363.24,237.05 363.48,238.55 363.61,239.90 C363.75,241.25 363.76,242.53 363.70,243.95 C363.64,245.38 363.59,247.21 363.25,248.45 C362.91,249.69 362.35,250.85 361.68,251.38 C361.00,251.90 360.03,251.60 359.20,251.60 C358.38,251.60 357.40,251.90 356.73,251.38 C356.05,250.85 355.49,249.69 355.15,248.45 C354.81,247.21 354.76,245.38 354.70,243.95 C354.64,242.53 354.66,241.25 354.79,239.90 C354.93,238.55 355.17,237.05 355.51,235.85 C355.86,234.65 356.50,233.60 356.86,232.70 C357.22,231.80 357.45,231.01 357.67,230.45 C357.90,229.89 357.96,229.55 358.21,229.33 C358.47,229.10 358.87,229.10 359.20,229.10 Z" fill="#ff2a14" stroke="none" stroke-width="1.00"/>
<ellipse cx="359.50" cy="240.80" rx="2.4" ry="1.6" fill="#a8d070"/>
<ellipse cx="359.50" cy="241.00" rx="1.2" ry="0.9" fill="#60c0a0"/>
<path d="M368.70,229.10 C369.03,229.10 369.44,229.10 369.69,229.33 C369.95,229.55 370.00,229.89 370.23,230.45 C370.46,231.01 370.68,231.80 371.04,232.70 C371.40,233.60 372.05,234.65 372.39,235.85 C372.74,237.05 372.98,238.55 373.11,239.90 C373.25,241.25 373.26,242.53 373.20,243.95 C373.14,245.38 373.09,247.21 372.75,248.45 C372.41,249.69 371.85,250.85 371.18,251.38 C370.50,251.90 369.53,251.60 368.70,251.60 C367.88,251.60 366.90,251.90 366.23,251.38 C365.55,250.85 364.99,249.69 364.65,248.45 C364.31,247.21 364.26,245.38 364.20,243.95 C364.14,242.53 364.16,241.25 364.29,239.90 C364.43,238.55 364.67,237.05 365.01,235.85 C365.36,234.65 366.00,233.60 366.36,232.70 C366.72,231.80 366.95,231.01 367.17,230.45 C367.40,229.89 367.46,229.55 367.71,229.33 C367.97,229.10 368.37,229.10 368.70,229.10 Z" fill="#ff2a14" stroke="none" stroke-width="1.00"/>
<ellipse cx="369.00" cy="240.80" rx="2.4" ry="1.6" fill="#a8d070"/>
<ellipse cx="369.00" cy="241.00" rx="1.2" ry="0.9" fill="#60c0a0"/>
<path d="M378.20,229.10 C378.53,229.10 378.94,229.10 379.19,229.33 C379.45,229.55 379.50,229.89 379.73,230.45 C379.96,231.01 380.18,231.80 380.54,232.70 C380.90,233.60 381.55,234.65 381.89,235.85 C382.24,237.05 382.48,238.55 382.61,239.90 C382.75,241.25 382.76,242.53 382.70,243.95 C382.64,245.38 382.59,247.21 382.25,248.45 C381.91,249.69 381.35,250.85 380.68,251.38 C380.00,251.90 379.03,251.60 378.20,251.60 C377.38,251.60 376.40,251.90 375.73,251.38 C375.05,250.85 374.49,249.69 374.15,248.45 C373.81,247.21 373.76,245.38 373.70,243.95 C373.64,242.53 373.66,241.25 373.79,239.90 C373.93,238.55 374.17,237.05 374.51,235.85 C374.86,234.65 375.50,233.60 375.86,232.70 C376.22,231.80 376.45,231.01 376.67,230.45 C376.90,229.89 376.96,229.55 377.21,229.33 C377.47,229.10 377.87,229.10 378.20,229.10 Z" fill="#ff2a14" stroke="none" stroke-width="1.00"/>
<ellipse cx="378.50" cy="240.80" rx="2.4" ry="1.6" fill="#a8d070"/>
<ellipse cx="378.50" cy="241.00" rx="1.2" ry="0.9" fill="#60c0a0"/>
<path d="M387.70,229.10 C388.03,229.10 388.44,229.10 388.69,229.33 C388.95,229.55 389.00,229.89 389.23,230.45 C389.46,231.01 389.68,231.80 390.04,232.70 C390.40,233.60 391.05,234.65 391.39,235.85 C391.74,237.05 391.98,238.55 392.11,239.90 C392.25,241.25 392.26,242.53 392.20,243.95 C392.14,245.38 392.09,247.21 391.75,248.45 C391.41,249.69 390.85,250.85 390.18,251.38 C389.50,251.90 388.53,251.60 387.70,251.60 C386.88,251.60 385.90,251.90 385.23,251.38 C384.55,250.85 383.99,249.69 383.65,248.45 C383.31,247.21 383.26,245.38 383.20,243.95 C383.14,242.53 383.16,241.25 383.29,239.90 C383.43,238.55 383.67,237.05 384.01,235.85 C384.36,234.65 385.00,233.60 385.36,232.70 C385.72,231.80 385.95,231.01 386.17,230.45 C386.40,229.89 386.46,229.55 386.71,229.33 C386.97,229.10 387.37,229.10 387.70,229.10 Z" fill="#ff2a14" stroke="none" stroke-width="1.00"/>
<ellipse cx="388.00" cy="240.80" rx="2.4" ry="1.6" fill="#a8d070"/>
<ellipse cx="388.00" cy="241.00" rx="1.2" ry="0.9" fill="#60c0a0"/>
<path d="M397.20,229.10 C397.53,229.10 397.94,229.10 398.19,229.33 C398.45,229.55 398.50,229.89 398.73,230.45 C398.96,231.01 399.18,231.80 399.54,232.70 C399.90,233.60 400.55,234.65 400.89,235.85 C401.24,237.05 401.48,238.55 401.61,239.90 C401.75,241.25 401.76,242.53 401.70,243.95 C401.64,245.38 401.59,247.21 401.25,248.45 C400.91,249.69 400.35,250.85 399.68,251.38 C399.00,251.90 398.03,251.60 397.20,251.60 C396.38,251.60 395.40,251.90 394.73,251.38 C394.05,250.85 393.49,249.69 393.15,248.45 C392.81,247.21 392.76,245.38 392.70,243.95 C392.64,242.53 392.66,241.25 392.79,239.90 C392.93,238.55 393.17,237.05 393.51,235.85 C393.86,234.65 394.50,233.60 394.86,232.70 C395.22,231.80 395.45,231.01 395.67,230.45 C395.90,229.89 395.96,229.55 396.21,229.33 C396.47,229.10 396.87,229.10 397.20,229.10 Z" fill="#ff2a14" stroke="none" stroke-width="1.00"/>
<ellipse cx="397.50" cy="240.80" rx="2.4" ry="1.6" fill="#a8d070"/>
<ellipse cx="397.50" cy="241.00" rx="1.2" ry="0.9" fill="#60c0a0"/>
</g>
</g>
<clipPath id="c4"><rect x="350.60" y="254.95" width="53.20" height="25.60"/></clipPath>
<g clip-path="url(#c4)">
<rect x="350.60" y="254.95" width="53.20" height="25.60" fill="#3c46b6"/>
<g filter="url(#bl)">
<path d="M359.20,256.15 C359.57,256.15 360.02,256.15 360.30,256.36 C360.58,256.56 360.65,256.87 360.90,257.38 C361.15,257.89 361.40,258.61 361.80,259.43 C362.20,260.25 362.92,261.21 363.30,262.30 C363.68,263.39 363.95,264.76 364.10,265.99 C364.25,267.22 364.27,268.38 364.20,269.68 C364.13,270.98 364.08,272.65 363.70,273.78 C363.33,274.91 362.70,275.97 361.95,276.45 C361.20,276.92 360.12,276.65 359.20,276.65 C358.28,276.65 357.20,276.92 356.45,276.45 C355.70,275.97 355.08,274.91 354.70,273.78 C354.33,272.65 354.27,270.98 354.20,269.68 C354.13,268.38 354.15,267.22 354.30,265.99 C354.45,264.76 354.72,263.39 355.10,262.30 C355.48,261.21 356.20,260.25 356.60,259.43 C357.00,258.61 357.25,257.89 357.50,257.38 C357.75,256.87 357.82,256.56 358.10,256.36 C358.38,256.15 358.83,256.15 359.20,256.15 Z" fill="#ff1414" stroke="none" stroke-width="1.00"/>
<rect x="358.50" y="274.95" width="1.40" height="4.50" fill="#ff2a2a"/>
<path d="M368.70,256.15 C369.07,256.15 369.52,256.15 369.80,256.36 C370.08,256.56 370.15,256.87 370.40,257.38 C370.65,257.89 370.90,258.61 371.30,259.43 C371.70,260.25 372.42,261.21 372.80,262.30 C373.18,263.39 373.45,264.76 373.60,265.99 C373.75,267.22 373.77,268.38 373.70,269.68 C373.63,270.98 373.58,272.65 373.20,273.78 C372.83,274.91 372.20,275.97 371.45,276.45 C370.70,276.92 369.62,276.65 368.70,276.65 C367.78,276.65 366.70,276.92 365.95,276.45 C365.20,275.97 364.58,274.91 364.20,273.78 C363.83,272.65 363.77,270.98 363.70,269.68 C363.63,268.38 363.65,267.22 363.80,265.99 C363.95,264.76 364.22,263.39 364.60,262.30 C364.98,261.21 365.70,260.25 366.10,259.43 C366.50,258.61 366.75,257.89 367.00,257.38 C367.25,256.87 367.32,256.56 367.60,256.36 C367.88,256.15 368.33,256.15 368.70,256.15 Z" fill="#ff1414" stroke="none" stroke-width="1.00"/>
<rect x="368.00" y="274.95" width="1.40" height="4.50" fill="#ff2a2a"/>
<path d="M378.20,256.15 C378.57,256.15 379.02,256.15 379.30,256.36 C379.58,256.56 379.65,256.87 379.90,257.38 C380.15,257.89 380.40,258.61 380.80,259.43 C381.20,260.25 381.92,261.21 382.30,262.30 C382.68,263.39 382.95,264.76 383.10,265.99 C383.25,267.22 383.27,268.38 383.20,269.68 C383.13,270.98 383.08,272.65 382.70,273.78 C382.33,274.91 381.70,275.97 380.95,276.45 C380.20,276.92 379.12,276.65 378.20,276.65 C377.28,276.65 376.20,276.92 375.45,276.45 C374.70,275.97 374.08,274.91 373.70,273.78 C373.33,272.65 373.27,270.98 373.20,269.68 C373.13,268.38 373.15,267.22 373.30,265.99 C373.45,264.76 373.72,263.39 374.10,262.30 C374.48,261.21 375.20,260.25 375.60,259.43 C376.00,258.61 376.25,257.89 376.50,257.38 C376.75,256.87 376.82,256.56 377.10,256.36 C377.38,256.15 377.83,256.15 378.20,256.15 Z" fill="#ff1414" stroke="none" stroke-width="1.00"/>
<rect x="377.50" y="274.95" width="1.40" height="4.50" fill="#ff2a2a"/>
<path d="M387.70,256.15 C388.07,256.15 388.52,256.15 388.80,256.36 C389.08,256.56 389.15,256.87 389.40,257.38 C389.65,257.89 389.90,258.61 390.30,259.43 C390.70,260.25 391.42,261.21 391.80,262.30 C392.18,263.39 392.45,264.76 392.60,265.99 C392.75,267.22 392.77,268.38 392.70,269.68 C392.63,270.98 392.58,272.65 392.20,273.78 C391.83,274.91 391.20,275.97 390.45,276.45 C389.70,276.92 388.62,276.65 387.70,276.65 C386.78,276.65 385.70,276.92 384.95,276.45 C384.20,275.97 383.58,274.91 383.20,273.78 C382.83,272.65 382.77,270.98 382.70,269.68 C382.63,268.38 382.65,267.22 382.80,265.99 C382.95,264.76 383.22,263.39 383.60,262.30 C383.98,261.21 384.70,260.25 385.10,259.43 C385.50,258.61 385.75,257.89 386.00,257.38 C386.25,256.87 386.32,256.56 386.60,256.36 C386.88,256.15 387.33,256.15 387.70,256.15 Z" fill="#ff1414" stroke="none" stroke-width="1.00"/>
<rect x="387.00" y="274.95" width="1.40" height="4.50" fill="#ff2a2a"/>
<path d="M397.20,256.15 C397.57,256.15 398.02,256.15 398.30,256.36 C398.58,256.56 398.65,256.87 398.90,257.38 C399.15,257.89 399.40,258.61 399.80,259.43 C400.20,260.25 400.92,261.21 401.30,262.30 C401.68,263.39 401.95,264.76 402.10,265.99 C402.25,267.22 402.27,268.38 402.20,269.68 C402.13,270.98 402.08,272.65 401.70,273.78 C401.33,274.91 400.70,275.97 399.95,276.45 C399.20,276.92 398.12,276.65 397.20,276.65 C396.28,276.65 395.20,276.92 394.45,276.45 C393.70,275.97 393.08,274.91 392.70,273.78 C392.33,272.65 392.27,270.98 392.20,269.68 C392.13,268.38 392.15,267.22 392.30,265.99 C392.45,264.76 392.72,263.39 393.10,262.30 C393.48,261.21 394.20,260.25 394.60,259.43 C395.00,258.61 395.25,257.89 395.50,257.38 C395.75,256.87 395.82,256.56 396.10,256.36 C396.38,256.15 396.83,256.15 397.20,256.15 Z" fill="#ff1414" stroke="none" stroke-width="1.00"/>
<rect x="396.50" y="274.95" width="1.40" height="4.50" fill="#ff2a2a"/>
</g>
</g>
<clipPath id="c5"><rect x="350.60" y="282.30" width="53.20" height="25.60"/></clipPath>
<g clip-path="url(#c5)">
<rect x="350.60" y="282.30" width="53.20" height="25.60" fill="#3c46b6"/>
<g filter="url(#bl)">
<path d="M359.20,283.10 C359.62,283.10 360.13,283.10 360.45,283.34 C360.78,283.57 360.85,283.92 361.14,284.51 C361.42,285.10 361.71,285.92 362.16,286.86 C362.62,287.80 363.44,288.90 363.87,290.15 C364.31,291.40 364.62,292.97 364.79,294.38 C364.96,295.79 364.98,297.12 364.90,298.61 C364.82,300.10 364.76,302.02 364.33,303.31 C363.90,304.60 363.19,305.82 362.34,306.37 C361.48,306.91 360.25,306.60 359.20,306.60 C358.16,306.60 356.92,306.91 356.07,306.37 C355.21,305.82 354.50,304.60 354.07,303.31 C353.64,302.02 353.58,300.10 353.50,298.61 C353.42,297.12 353.44,295.79 353.61,294.38 C353.79,292.97 354.09,291.40 354.53,290.15 C354.96,288.90 355.78,287.80 356.24,286.86 C356.69,285.92 356.98,285.10 357.26,284.51 C357.55,283.92 357.62,283.57 357.95,283.34 C358.27,283.10 358.78,283.10 359.20,283.10 Z" fill="#40b8d8" stroke="none" stroke-width="1.00"/>
<path d="M359.20,283.80 C359.58,283.80 360.05,283.80 360.34,284.02 C360.64,284.24 360.71,284.58 360.97,285.13 C361.23,285.69 361.49,286.46 361.90,287.35 C362.32,288.24 363.07,289.28 363.46,290.46 C363.86,291.64 364.14,293.12 364.30,294.46 C364.45,295.79 364.47,297.05 364.40,298.45 C364.33,299.86 364.27,301.67 363.88,302.89 C363.49,304.11 362.84,305.26 362.06,305.78 C361.28,306.30 360.15,306.00 359.20,306.00 C358.25,306.00 357.12,306.30 356.34,305.78 C355.56,305.26 354.91,304.11 354.52,302.89 C354.13,301.67 354.07,299.86 354.00,298.45 C353.93,297.05 353.95,295.79 354.10,294.46 C354.26,293.12 354.54,291.64 354.94,290.46 C355.33,289.28 356.08,288.24 356.50,287.35 C356.91,286.46 357.17,285.69 357.43,285.13 C357.69,284.58 357.76,284.24 358.06,284.02 C358.35,283.80 358.82,283.80 359.20,283.80 Z" fill="#70d890" stroke="none" stroke-width="1.00"/>
<path d="M359.20,284.50 C359.55,284.50 359.98,284.50 360.26,284.71 C360.53,284.92 360.59,285.24 360.83,285.76 C361.07,286.28 361.31,287.02 361.70,287.86 C362.08,288.70 362.77,289.68 363.14,290.80 C363.50,291.92 363.76,293.32 363.90,294.58 C364.05,295.84 364.06,297.03 364.00,298.36 C363.94,299.69 363.88,301.40 363.52,302.56 C363.16,303.72 362.56,304.80 361.84,305.29 C361.12,305.78 360.08,305.50 359.20,305.50 C358.32,305.50 357.28,305.78 356.56,305.29 C355.84,304.80 355.24,303.72 354.88,302.56 C354.52,301.40 354.46,299.69 354.40,298.36 C354.34,297.03 354.35,295.84 354.50,294.58 C354.64,293.32 354.90,291.92 355.26,290.80 C355.63,289.68 356.32,288.70 356.70,287.86 C357.09,287.02 357.33,286.28 357.57,285.76 C357.81,285.24 357.87,284.92 358.14,284.71 C358.42,284.50 358.85,284.50 359.20,284.50 Z" fill="#ff1414" stroke="none" stroke-width="1.00"/>
<path d="M368.70,283.10 C369.12,283.10 369.63,283.10 369.95,283.34 C370.28,283.57 370.35,283.92 370.64,284.51 C370.92,285.10 371.21,285.92 371.66,286.86 C372.12,287.80 372.94,288.90 373.37,290.15 C373.81,291.40 374.12,292.97 374.29,294.38 C374.46,295.79 374.48,297.12 374.40,298.61 C374.32,300.10 374.26,302.02 373.83,303.31 C373.40,304.60 372.69,305.82 371.84,306.37 C370.98,306.91 369.75,306.60 368.70,306.60 C367.66,306.60 366.42,306.91 365.57,306.37 C364.71,305.82 364.00,304.60 363.57,303.31 C363.14,302.02 363.08,300.10 363.00,298.61 C362.92,297.12 362.94,295.79 363.11,294.38 C363.29,292.97 363.59,291.40 364.03,290.15 C364.46,288.90 365.28,287.80 365.74,286.86 C366.19,285.92 366.48,285.10 366.76,284.51 C367.05,283.92 367.12,283.57 367.45,283.34 C367.77,283.10 368.28,283.10 368.70,283.10 Z" fill="#40b8d8" stroke="none" stroke-width="1.00"/>
<path d="M368.70,283.80 C369.08,283.80 369.55,283.80 369.84,284.02 C370.14,284.24 370.21,284.58 370.47,285.13 C370.73,285.69 370.99,286.46 371.40,287.35 C371.82,288.24 372.57,289.28 372.96,290.46 C373.36,291.64 373.64,293.12 373.80,294.46 C373.95,295.79 373.97,297.05 373.90,298.45 C373.83,299.86 373.77,301.67 373.38,302.89 C372.99,304.11 372.34,305.26 371.56,305.78 C370.78,306.30 369.65,306.00 368.70,306.00 C367.75,306.00 366.62,306.30 365.84,305.78 C365.06,305.26 364.41,304.11 364.02,302.89 C363.63,301.67 363.57,299.86 363.50,298.45 C363.43,297.05 363.45,295.79 363.60,294.46 C363.76,293.12 364.04,291.64 364.44,290.46 C364.83,289.28 365.58,288.24 366.00,287.35 C366.41,286.46 366.67,285.69 366.93,285.13 C367.19,284.58 367.26,284.24 367.56,284.02 C367.85,283.80 368.32,283.80 368.70,283.80 Z" fill="#70d890" stroke="none" stroke-width="1.00"/>
<path d="M368.70,284.50 C369.05,284.50 369.48,284.50 369.76,284.71 C370.03,284.92 370.09,285.24 370.33,285.76 C370.57,286.28 370.81,287.02 371.20,287.86 C371.58,288.70 372.27,289.68 372.64,290.80 C373.00,291.92 373.26,293.32 373.40,294.58 C373.55,295.84 373.56,297.03 373.50,298.36 C373.44,299.69 373.38,301.40 373.02,302.56 C372.66,303.72 372.06,304.80 371.34,305.29 C370.62,305.78 369.58,305.50 368.70,305.50 C367.82,305.50 366.78,305.78 366.06,305.29 C365.34,304.80 364.74,303.72 364.38,302.56 C364.02,301.40 363.96,299.69 363.90,298.36 C363.84,297.03 363.85,295.84 364.00,294.58 C364.14,293.32 364.40,291.92 364.76,290.80 C365.13,289.68 365.82,288.70 366.20,287.86 C366.59,287.02 366.83,286.28 367.07,285.76 C367.31,285.24 367.37,284.92 367.64,284.71 C367.92,284.50 368.35,284.50 368.70,284.50 Z" fill="#ff1414" stroke="none" stroke-width="1.00"/>
<path d="M378.20,283.10 C378.62,283.10 379.13,283.10 379.45,283.34 C379.78,283.57 379.85,283.92 380.14,284.51 C380.42,285.10 380.71,285.92 381.16,286.86 C381.62,287.80 382.44,288.90 382.87,290.15 C383.31,291.40 383.62,292.97 383.79,294.38 C383.96,295.79 383.98,297.12 383.90,298.61 C383.82,300.10 383.76,302.02 383.33,303.31 C382.90,304.60 382.19,305.82 381.34,306.37 C380.48,306.91 379.25,306.60 378.20,306.60 C377.16,306.60 375.92,306.91 375.07,306.37 C374.21,305.82 373.50,304.60 373.07,303.31 C372.64,302.02 372.58,300.10 372.50,298.61 C372.42,297.12 372.44,295.79 372.61,294.38 C372.79,292.97 373.09,291.40 373.53,290.15 C373.96,288.90 374.78,287.80 375.24,286.86 C375.69,285.92 375.98,285.10 376.26,284.51 C376.55,283.92 376.62,283.57 376.95,283.34 C377.27,283.10 377.78,283.10 378.20,283.10 Z" fill="#40b8d8" stroke="none" stroke-width="1.00"/>
<path d="M378.20,283.80 C378.58,283.80 379.05,283.80 379.34,284.02 C379.64,284.24 379.71,284.58 379.97,285.13 C380.23,285.69 380.49,286.46 380.90,287.35 C381.32,288.24 382.07,289.28 382.46,290.46 C382.86,291.64 383.14,293.12 383.30,294.46 C383.45,295.79 383.47,297.05 383.40,298.45 C383.33,299.86 383.27,301.67 382.88,302.89 C382.49,304.11 381.84,305.26 381.06,305.78 C380.28,306.30 379.15,306.00 378.20,306.00 C377.25,306.00 376.12,306.30 375.34,305.78 C374.56,305.26 373.91,304.11 373.52,302.89 C373.13,301.67 373.07,299.86 373.00,298.45 C372.93,297.05 372.95,295.79 373.10,294.46 C373.26,293.12 373.54,291.64 373.94,290.46 C374.33,289.28 375.08,288.24 375.50,287.35 C375.91,286.46 376.17,285.69 376.43,285.13 C376.69,284.58 376.76,284.24 377.06,284.02 C377.35,283.80 377.82,283.80 378.20,283.80 Z" fill="#70d890" stroke="none" stroke-width="1.00"/>
<path d="M378.20,284.50 C378.55,284.50 378.98,284.50 379.26,284.71 C379.53,284.92 379.59,285.24 379.83,285.76 C380.07,286.28 380.31,287.02 380.70,287.86 C381.08,288.70 381.77,289.68 382.14,290.80 C382.50,291.92 382.76,293.32 382.90,294.58 C383.05,295.84 383.06,297.03 383.00,298.36 C382.94,299.69 382.88,301.40 382.52,302.56 C382.16,303.72 381.56,304.80 380.84,305.29 C380.12,305.78 379.08,305.50 378.20,305.50 C377.32,305.50 376.28,305.78 375.56,305.29 C374.84,304.80 374.24,303.72 373.88,302.56 C373.52,301.40 373.46,299.69 373.40,298.36 C373.34,297.03 373.35,295.84 373.50,294.58 C373.64,293.32 373.90,291.92 374.26,290.80 C374.63,289.68 375.32,288.70 375.70,287.86 C376.09,287.02 376.33,286.28 376.57,285.76 C376.81,285.24 376.87,284.92 377.14,284.71 C377.42,284.50 377.85,284.50 378.20,284.50 Z" fill="#ff1414" stroke="none" stroke-width="1.00"/>
<path d="M387.70,283.10 C388.12,283.10 388.63,283.10 388.95,283.34 C389.28,283.57 389.35,283.92 389.64,284.51 C389.92,285.10 390.21,285.92 390.66,286.86 C391.12,287.80 391.94,288.90 392.37,290.15 C392.81,291.40 393.12,292.97 393.29,294.38 C393.46,295.79 393.48,297.12 393.40,298.61 C393.32,300.10 393.26,302.02 392.83,303.31 C392.40,304.60 391.69,305.82 390.84,306.37 C389.98,306.91 388.75,306.60 387.70,306.60 C386.66,306.60 385.42,306.91 384.57,306.37 C383.71,305.82 383.00,304.60 382.57,303.31 C382.14,302.02 382.08,300.10 382.00,298.61 C381.92,297.12 381.94,295.79 382.11,294.38 C382.29,292.97 382.59,291.40 383.03,290.15 C383.46,288.90 384.28,287.80 384.74,286.86 C385.19,285.92 385.48,285.10 385.76,284.51 C386.05,283.92 386.12,283.57 386.45,283.34 C386.77,283.10 387.28,283.10 387.70,283.10 Z" fill="#40b8d8" stroke="none" stroke-width="1.00"/>
<path d="M387.70,283.80 C388.08,283.80 388.55,283.80 388.84,284.02 C389.14,284.24 389.21,284.58 389.47,285.13 C389.73,285.69 389.99,286.46 390.40,287.35 C390.82,288.24 391.57,289.28 391.96,290.46 C392.36,291.64 392.64,293.12 392.80,294.46 C392.95,295.79 392.97,297.05 392.90,298.45 C392.83,299.86 392.77,301.67 392.38,302.89 C391.99,304.11 391.34,305.26 390.56,305.78 C389.78,306.30 388.65,306.00 387.70,306.00 C386.75,306.00 385.62,306.30 384.84,305.78 C384.06,305.26 383.41,304.11 383.02,302.89 C382.63,301.67 382.57,299.86 382.50,298.45 C382.43,297.05 382.45,295.79 382.60,294.46 C382.76,293.12 383.04,291.64 383.44,290.46 C383.83,289.28 384.58,288.24 385.00,287.35 C385.41,286.46 385.67,285.69 385.93,285.13 C386.19,284.58 386.26,284.24 386.56,284.02 C386.85,283.80 387.32,283.80 387.70,283.80 Z" fill="#70d890" stroke="none" stroke-width="1.00"/>
<path d="M387.70,284.50 C388.05,284.50 388.48,284.50 388.76,284.71 C389.03,284.92 389.09,285.24 389.33,285.76 C389.57,286.28 389.81,287.02 390.20,287.86 C390.58,288.70 391.27,289.68 391.64,290.80 C392.00,291.92 392.26,293.32 392.40,294.58 C392.55,295.84 392.56,297.03 392.50,298.36 C392.44,299.69 392.38,301.40 392.02,302.56 C391.66,303.72 391.06,304.80 390.34,305.29 C389.62,305.78 388.58,305.50 387.70,305.50 C386.82,305.50 385.78,305.78 385.06,305.29 C384.34,304.80 383.74,303.72 383.38,302.56 C383.02,301.40 382.96,299.69 382.90,298.36 C382.84,297.03 382.85,295.84 383.00,294.58 C383.14,293.32 383.40,291.92 383.76,290.80 C384.13,289.68 384.82,288.70 385.20,287.86 C385.59,287.02 385.83,286.28 386.07,285.76 C386.31,285.24 386.37,284.92 386.64,284.71 C386.92,284.50 387.35,284.50 387.70,284.50 Z" fill="#ff1414" stroke="none" stroke-width="1.00"/>
<path d="M397.20,283.10 C397.62,283.10 398.13,283.10 398.45,283.34 C398.78,283.57 398.85,283.92 399.14,284.51 C399.42,285.10 399.71,285.92 400.16,286.86 C400.62,287.80 401.44,288.90 401.87,290.15 C402.31,291.40 402.62,292.97 402.79,294.38 C402.96,295.79 402.98,297.12 402.90,298.61 C402.82,300.10 402.76,302.02 402.33,303.31 C401.90,304.60 401.19,305.82 400.34,306.37 C399.48,306.91 398.25,306.60 397.20,306.60 C396.16,306.60 394.92,306.91 394.07,306.37 C393.21,305.82 392.50,304.60 392.07,303.31 C391.64,302.02 391.58,300.10 391.50,298.61 C391.42,297.12 391.44,295.79 391.61,294.38 C391.79,292.97 392.09,291.40 392.53,290.15 C392.96,288.90 393.78,287.80 394.24,286.86 C394.69,285.92 394.98,285.10 395.26,284.51 C395.55,283.92 395.62,283.57 395.95,283.34 C396.27,283.10 396.78,283.10 397.20,283.10 Z" fill="#40b8d8" stroke="none" stroke-width="1.00"/>
<path d="M397.20,283.80 C397.58,283.80 398.05,283.80 398.34,284.02 C398.64,284.24 398.71,284.58 398.97,285.13 C399.23,285.69 399.49,286.46 399.90,287.35 C400.32,288.24 401.07,289.28 401.46,290.46 C401.86,291.64 402.14,293.12 402.30,294.46 C402.45,295.79 402.47,297.05 402.40,298.45 C402.33,299.86 402.27,301.67 401.88,302.89 C401.49,304.11 400.84,305.26 400.06,305.78 C399.28,306.30 398.15,306.00 397.20,306.00 C396.25,306.00 395.12,306.30 394.34,305.78 C393.56,305.26 392.91,304.11 392.52,302.89 C392.13,301.67 392.07,299.86 392.00,298.45 C391.93,297.05 391.95,295.79 392.10,294.46 C392.26,293.12 392.54,291.64 392.94,290.46 C393.33,289.28 394.08,288.24 394.50,287.35 C394.91,286.46 395.17,285.69 395.43,285.13 C395.69,284.58 395.76,284.24 396.06,284.02 C396.35,283.80 396.82,283.80 397.20,283.80 Z" fill="#70d890" stroke="none" stroke-width="1.00"/>
<path d="M397.20,284.50 C397.55,284.50 397.98,284.50 398.26,284.71 C398.53,284.92 398.59,285.24 398.83,285.76 C399.07,286.28 399.31,287.02 399.70,287.86 C400.08,288.70 400.77,289.68 401.14,290.80 C401.50,291.92 401.76,293.32 401.90,294.58 C402.05,295.84 402.06,297.03 402.00,298.36 C401.94,299.69 401.88,301.40 401.52,302.56 C401.16,303.72 400.56,304.80 399.84,305.29 C399.12,305.78 398.08,305.50 397.20,305.50 C396.32,305.50 395.28,305.78 394.56,305.29 C393.84,304.80 393.24,303.72 392.88,302.56 C392.52,301.40 392.46,299.69 392.40,298.36 C392.34,297.03 392.35,295.84 392.50,294.58 C392.64,293.32 392.90,291.92 393.26,290.80 C393.63,289.68 394.32,288.70 394.70,287.86 C395.09,287.02 395.33,286.28 395.57,285.76 C395.81,285.24 395.87,284.92 396.14,284.71 C396.42,284.50 396.85,284.50 397.20,284.50 Z" fill="#ff1414" stroke="none" stroke-width="1.00"/>
</g>
</g>
<path d="M352.60,316.6 L360.60,328.2 M360.60,316.6 L352.60,328.2" fill="none" stroke="#d21f3a" stroke-width="1.60"/>
<path d="M363.80,316.6 L371.70,328.2 M371.70,316.6 L363.80,328.2" fill="none" stroke="#d21f3a" stroke-width="1.60"/>
<path d="M373.80,316.6 L381.40,328.2 M381.40,316.6 L373.80,328.2" fill="none" stroke="#d21f3a" stroke-width="1.60"/>
<path d="M383.90,316.6 L391.80,328.2 M391.80,316.6 L383.90,328.2" fill="none" stroke="#d21f3a" stroke-width="1.60"/>
<path d="M393.90,316.6 L402.20,328.2 M402.20,316.6 L393.90,328.2" fill="none" stroke="#d21f3a" stroke-width="1.60"/>
<clipPath id="c6"><rect x="406.40" y="172.90" width="53.60" height="25.60"/></clipPath>
<g clip-path="url(#c6)">
<rect x="406.40" y="172.90" width="53.60" height="25.60" fill="#141016"/>
<g filter="url(#bl)">
<path d="M414.50,177.10 C414.80,177.10 415.17,177.10 415.40,177.29 C415.63,177.49 415.69,177.78 415.89,178.27 C416.10,178.76 416.30,179.44 416.63,180.22 C416.96,181.00 417.55,181.91 417.86,182.95 C418.18,183.99 418.39,185.29 418.52,186.46 C418.64,187.63 418.65,188.73 418.60,189.97 C418.55,191.21 418.50,192.80 418.19,193.87 C417.88,194.94 417.37,195.95 416.75,196.41 C416.14,196.86 415.25,196.60 414.50,196.60 C413.75,196.60 412.86,196.86 412.25,196.41 C411.63,195.95 411.12,194.94 410.81,193.87 C410.50,192.80 410.45,191.21 410.40,189.97 C410.35,188.73 410.36,187.63 410.48,186.46 C410.61,185.29 410.82,183.99 411.14,182.95 C411.45,181.91 412.04,181.00 412.37,180.22 C412.70,179.44 412.90,178.76 413.11,178.27 C413.31,177.78 413.37,177.49 413.60,177.29 C413.83,177.10 414.20,177.10 414.50,177.10 Z" fill="#4c3ec4" stroke="none" stroke-width="1.00"/>
<rect x="413.90" y="173.50" width="1.20" height="4.40" fill="#e8e0f0"/>
<path d="M411.10,186.70 L418.10,185.90 L416.70,190.50 L414.80,192.30 L412.10,190.30 Z" fill="#f6f2ff" stroke="none" stroke-width="1.00"/>
<rect x="411.30" y="193.90" width="6.40" height="2.80" fill="#4a3a90"/>
<path d="M424.00,177.10 C424.30,177.10 424.67,177.10 424.90,177.29 C425.13,177.49 425.19,177.78 425.39,178.27 C425.60,178.76 425.80,179.44 426.13,180.22 C426.46,181.00 427.05,181.91 427.36,182.95 C427.68,183.99 427.89,185.29 428.02,186.46 C428.14,187.63 428.15,188.73 428.10,189.97 C428.05,191.21 428.00,192.80 427.69,193.87 C427.38,194.94 426.87,195.95 426.25,196.41 C425.64,196.86 424.75,196.60 424.00,196.60 C423.25,196.60 422.36,196.86 421.75,196.41 C421.13,195.95 420.62,194.94 420.31,193.87 C420.00,192.80 419.95,191.21 419.90,189.97 C419.85,188.73 419.86,187.63 419.98,186.46 C420.11,185.29 420.32,183.99 420.64,182.95 C420.95,181.91 421.54,181.00 421.87,180.22 C422.20,179.44 422.40,178.76 422.61,178.27 C422.81,177.78 422.87,177.49 423.10,177.29 C423.33,177.10 423.70,177.10 424.00,177.10 Z" fill="#4c3ec4" stroke="none" stroke-width="1.00"/>
<rect x="423.40" y="173.50" width="1.20" height="4.40" fill="#e8e0f0"/>
<path d="M420.60,186.70 L427.60,185.90 L426.20,190.50 L424.30,192.30 L421.60,190.30 Z" fill="#f6f2ff" stroke="none" stroke-width="1.00"/>
<rect x="420.80" y="193.90" width="6.40" height="2.80" fill="#4a3a90"/>
<path d="M433.50,177.10 C433.80,177.10 434.17,177.10 434.40,177.29 C434.63,177.49 434.69,177.78 434.89,178.27 C435.10,178.76 435.30,179.44 435.63,180.22 C435.96,181.00 436.55,181.91 436.86,182.95 C437.18,183.99 437.39,185.29 437.52,186.46 C437.64,187.63 437.65,188.73 437.60,189.97 C437.55,191.21 437.50,192.80 437.19,193.87 C436.88,194.94 436.37,195.95 435.75,196.41 C435.14,196.86 434.25,196.60 433.50,196.60 C432.75,196.60 431.86,196.86 431.25,196.41 C430.63,195.95 430.12,194.94 429.81,193.87 C429.50,192.80 429.45,191.21 429.40,189.97 C429.35,188.73 429.36,187.63 429.48,186.46 C429.61,185.29 429.82,183.99 430.14,182.95 C430.45,181.91 431.04,181.00 431.37,180.22 C431.70,179.44 431.90,178.76 432.11,178.27 C432.31,177.78 432.37,177.49 432.60,177.29 C432.83,177.10 433.20,177.10 433.50,177.10 Z" fill="#4c3ec4" stroke="none" stroke-width="1.00"/>
<rect x="432.90" y="173.50" width="1.20" height="4.40" fill="#e8e0f0"/>
<path d="M430.10,186.70 L437.10,185.90 L435.70,190.50 L433.80,192.30 L431.10,190.30 Z" fill="#f6f2ff" stroke="none" stroke-width="1.00"/>
<rect x="430.30" y="193.90" width="6.40" height="2.80" fill="#4a3a90"/>
<path d="M443.00,177.10 C443.30,177.10 443.67,177.10 443.90,177.29 C444.13,177.49 444.19,177.78 444.39,178.27 C444.60,178.76 444.80,179.44 445.13,180.22 C445.46,181.00 446.05,181.91 446.36,182.95 C446.68,183.99 446.89,185.29 447.02,186.46 C447.14,187.63 447.15,188.73 447.10,189.97 C447.05,191.21 447.00,192.80 446.69,193.87 C446.38,194.94 445.87,195.95 445.25,196.41 C444.64,196.86 443.75,196.60 443.00,196.60 C442.25,196.60 441.36,196.86 440.75,196.41 C440.13,195.95 439.62,194.94 439.31,193.87 C439.00,192.80 438.95,191.21 438.90,189.97 C438.85,188.73 438.86,187.63 438.98,186.46 C439.11,185.29 439.32,183.99 439.64,182.95 C439.95,181.91 440.54,181.00 440.87,180.22 C441.20,179.44 441.40,178.76 441.61,178.27 C441.81,177.78 441.87,177.49 442.10,177.29 C442.33,177.10 442.70,177.10 443.00,177.10 Z" fill="#4c3ec4" stroke="none" stroke-width="1.00"/>
<rect x="442.40" y="173.50" width="1.20" height="4.40" fill="#e8e0f0"/>
<path d="M439.60,186.70 L446.60,185.90 L445.20,190.50 L443.30,192.30 L440.60,190.30 Z" fill="#f6f2ff" stroke="none" stroke-width="1.00"/>
<rect x="439.80" y="193.90" width="6.40" height="2.80" fill="#4a3a90"/>
<path d="M452.50,177.10 C452.80,177.10 453.17,177.10 453.40,177.29 C453.63,177.49 453.69,177.78 453.89,178.27 C454.10,178.76 454.30,179.44 454.63,180.22 C454.96,181.00 455.55,181.91 455.86,182.95 C456.18,183.99 456.39,185.29 456.52,186.46 C456.64,187.63 456.65,188.73 456.60,189.97 C456.55,191.21 456.50,192.80 456.19,193.87 C455.88,194.94 455.37,195.95 454.75,196.41 C454.14,196.86 453.25,196.60 452.50,196.60 C451.75,196.60 450.86,196.86 450.25,196.41 C449.63,195.95 449.12,194.94 448.81,193.87 C448.50,192.80 448.45,191.21 448.40,189.97 C448.35,188.73 448.36,187.63 448.48,186.46 C448.61,185.29 448.82,183.99 449.14,182.95 C449.45,181.91 450.04,181.00 450.37,180.22 C450.70,179.44 450.90,178.76 451.11,178.27 C451.31,177.78 451.37,177.49 451.60,177.29 C451.83,177.10 452.20,177.10 452.50,177.10 Z" fill="#4c3ec4" stroke="none" stroke-width="1.00"/>
<rect x="451.90" y="173.50" width="1.20" height="4.40" fill="#e8e0f0"/>
<path d="M449.10,186.70 L456.10,185.90 L454.70,190.50 L452.80,192.30 L450.10,190.30 Z" fill="#f6f2ff" stroke="none" stroke-width="1.00"/>
<rect x="449.30" y="193.90" width="6.40" height="2.80" fill="#4a3a90"/>
</g>
</g>
<clipPath id="c7"><rect x="406.40" y="200.25" width="53.60" height="25.60"/></clipPath>
<g clip-path="url(#c7)">
<rect x="406.40" y="200.25" width="53.60" height="25.60" fill="#242424"/>
<g filter="url(#bl)">
<path d="M414.40,201.45 C414.72,201.45 415.10,201.45 415.35,201.66 C415.59,201.87 415.65,202.18 415.86,202.71 C416.08,203.23 416.29,203.97 416.64,204.81 C416.98,205.65 417.60,206.63 417.93,207.75 C418.26,208.87 418.48,210.27 418.61,211.53 C418.74,212.79 418.76,213.98 418.70,215.31 C418.64,216.64 418.59,218.35 418.27,219.51 C417.95,220.66 417.41,221.75 416.76,222.24 C416.12,222.73 415.19,222.45 414.40,222.45 C413.61,222.45 412.68,222.73 412.03,222.24 C411.39,221.75 410.85,220.66 410.53,219.51 C410.21,218.35 410.16,216.64 410.10,215.31 C410.04,213.98 410.06,212.79 410.19,211.53 C410.31,210.27 410.54,208.87 410.87,207.75 C411.20,206.63 411.82,205.65 412.16,204.81 C412.51,203.97 412.72,203.23 412.94,202.71 C413.15,202.18 413.21,201.87 413.45,201.66 C413.70,201.45 414.08,201.45 414.40,201.45 Z" fill="url(#gmouse)" stroke="none" stroke-width="1.00"/>
<rect x="414.00" y="221.75" width="0.80" height="4.00" fill="#7a7a7a"/>
<ellipse cx="413.50" cy="209.75" rx="1.6" ry="2.2" fill="#a0a0a0" opacity="0.45"/>
<ellipse cx="415.50" cy="215.75" rx="1.3" ry="1.8" fill="#a8a8a8" opacity="0.4"/>
<path d="M423.90,201.45 C424.22,201.45 424.60,201.45 424.85,201.66 C425.09,201.87 425.15,202.18 425.36,202.71 C425.58,203.23 425.79,203.97 426.14,204.81 C426.48,205.65 427.10,206.63 427.43,207.75 C427.76,208.87 427.98,210.27 428.11,211.53 C428.24,212.79 428.26,213.98 428.20,215.31 C428.14,216.64 428.09,218.35 427.77,219.51 C427.45,220.66 426.91,221.75 426.26,222.24 C425.62,222.73 424.69,222.45 423.90,222.45 C423.11,222.45 422.18,222.73 421.53,222.24 C420.89,221.75 420.35,220.66 420.03,219.51 C419.71,218.35 419.66,216.64 419.60,215.31 C419.54,213.98 419.56,212.79 419.69,211.53 C419.81,210.27 420.04,208.87 420.37,207.75 C420.70,206.63 421.32,205.65 421.66,204.81 C422.01,203.97 422.22,203.23 422.44,202.71 C422.65,202.18 422.71,201.87 422.95,201.66 C423.20,201.45 423.58,201.45 423.90,201.45 Z" fill="url(#gmouse)" stroke="none" stroke-width="1.00"/>
<rect x="423.50" y="221.75" width="0.80" height="4.00" fill="#7a7a7a"/>
<ellipse cx="424.70" cy="210.75" rx="1.6" ry="2.2" fill="#a0a0a0" opacity="0.45"/>
<ellipse cx="422.90" cy="215.75" rx="1.3" ry="1.8" fill="#a8a8a8" opacity="0.4"/>
<path d="M433.40,201.45 C433.72,201.45 434.10,201.45 434.35,201.66 C434.59,201.87 434.65,202.18 434.86,202.71 C435.08,203.23 435.29,203.97 435.64,204.81 C435.98,205.65 436.60,206.63 436.93,207.75 C437.26,208.87 437.48,210.27 437.61,211.53 C437.74,212.79 437.76,213.98 437.70,215.31 C437.64,216.64 437.59,218.35 437.27,219.51 C436.95,220.66 436.41,221.75 435.76,222.24 C435.12,222.73 434.19,222.45 433.40,222.45 C432.61,222.45 431.68,222.73 431.03,222.24 C430.39,221.75 429.85,220.66 429.53,219.51 C429.21,218.35 429.16,216.64 429.10,215.31 C429.04,213.98 429.06,212.79 429.19,211.53 C429.31,210.27 429.54,208.87 429.87,207.75 C430.20,206.63 430.82,205.65 431.16,204.81 C431.51,203.97 431.72,203.23 431.94,202.71 C432.15,202.18 432.21,201.87 432.45,201.66 C432.70,201.45 433.08,201.45 433.40,201.45 Z" fill="url(#gmouse)" stroke="none" stroke-width="1.00"/>
<rect x="433.00" y="221.75" width="0.80" height="4.00" fill="#7a7a7a"/>
<ellipse cx="432.50" cy="211.75" rx="1.6" ry="2.2" fill="#a0a0a0" opacity="0.45"/>
<ellipse cx="434.50" cy="215.75" rx="1.3" ry="1.8" fill="#a8a8a8" opacity="0.4"/>
<path d="M442.90,201.45 C443.22,201.45 443.60,201.45 443.85,201.66 C444.09,201.87 444.15,202.18 444.36,202.71 C444.58,203.23 444.79,203.97 445.14,204.81 C445.48,205.65 446.10,206.63 446.43,207.75 C446.76,208.87 446.98,210.27 447.11,211.53 C447.24,212.79 447.26,213.98 447.20,215.31 C447.14,216.64 447.09,218.35 446.77,219.51 C446.45,220.66 445.91,221.75 445.26,222.24 C444.62,222.73 443.69,222.45 442.90,222.45 C442.11,222.45 441.18,222.73 440.53,222.24 C439.89,221.75 439.35,220.66 439.03,219.51 C438.71,218.35 438.66,216.64 438.60,215.31 C438.54,213.98 438.56,212.79 438.69,211.53 C438.81,210.27 439.04,208.87 439.37,207.75 C439.70,206.63 440.32,205.65 440.66,204.81 C441.01,203.97 441.22,203.23 441.44,202.71 C441.65,202.18 441.71,201.87 441.95,201.66 C442.20,201.45 442.58,201.45 442.90,201.45 Z" fill="url(#gmouse)" stroke="none" stroke-width="1.00"/>
<rect x="442.50" y="221.75" width="0.80" height="4.00" fill="#7a7a7a"/>
<ellipse cx="443.70" cy="209.75" rx="1.6" ry="2.2" fill="#a0a0a0" opacity="0.45"/>
<ellipse cx="441.90" cy="215.75" rx="1.3" ry="1.8" fill="#a8a8a8" opacity="0.4"/>
<path d="M452.40,201.45 C452.72,201.45 453.10,201.45 453.35,201.66 C453.59,201.87 453.65,202.18 453.86,202.71 C454.08,203.23 454.29,203.97 454.64,204.81 C454.98,205.65 455.60,206.63 455.93,207.75 C456.26,208.87 456.48,210.27 456.61,211.53 C456.74,212.79 456.76,213.98 456.70,215.31 C456.64,216.64 456.59,218.35 456.27,219.51 C455.95,220.66 455.41,221.75 454.76,222.24 C454.12,222.73 453.19,222.45 452.40,222.45 C451.61,222.45 450.68,222.73 450.03,222.24 C449.39,221.75 448.85,220.66 448.53,219.51 C448.21,218.35 448.16,216.64 448.10,215.31 C448.04,213.98 448.06,212.79 448.19,211.53 C448.31,210.27 448.54,208.87 448.87,207.75 C449.20,206.63 449.82,205.65 450.16,204.81 C450.51,203.97 450.72,203.23 450.94,202.71 C451.15,202.18 451.21,201.87 451.45,201.66 C451.70,201.45 452.08,201.45 452.40,201.45 Z" fill="url(#gmouse)" stroke="none" stroke-width="1.00"/>
<rect x="452.00" y="221.75" width="0.80" height="4.00" fill="#7a7a7a"/>
<ellipse cx="451.50" cy="210.75" rx="1.6" ry="2.2" fill="#a0a0a0" opacity="0.45"/>
<ellipse cx="453.50" cy="215.75" rx="1.3" ry="1.8" fill="#a8a8a8" opacity="0.4"/>
</g>
</g>
<clipPath id="c8"><rect x="406.40" y="227.60" width="53.60" height="25.60"/></clipPath>
<g clip-path="url(#c8)">
<rect x="406.40" y="227.60" width="53.60" height="25.60" fill="#242424"/>
<g filter="url(#bl)">
<path d="M414.40,228.80 C414.72,228.80 415.10,228.80 415.35,229.01 C415.59,229.22 415.65,229.53 415.86,230.06 C416.08,230.59 416.29,231.32 416.64,232.16 C416.98,233.00 417.60,233.98 417.93,235.10 C418.26,236.22 418.48,237.62 418.61,238.88 C418.74,240.14 418.76,241.33 418.70,242.66 C418.64,243.99 418.59,245.71 418.27,246.86 C417.95,248.02 417.41,249.10 416.76,249.59 C416.12,250.08 415.19,249.80 414.40,249.80 C413.61,249.80 412.68,250.08 412.03,249.59 C411.39,249.10 410.85,248.02 410.53,246.86 C410.21,245.71 410.16,243.99 410.10,242.66 C410.04,241.33 410.06,240.14 410.19,238.88 C410.31,237.62 410.54,236.22 410.87,235.10 C411.20,233.98 411.82,233.00 412.16,232.16 C412.51,231.32 412.72,230.59 412.94,230.06 C413.15,229.53 413.21,229.22 413.45,229.01 C413.70,228.80 414.08,228.80 414.40,228.80 Z" fill="url(#gmouse)" stroke="none" stroke-width="1.00"/>
<rect x="414.00" y="249.10" width="0.80" height="4.00" fill="#7a7a7a"/>
<ellipse cx="413.50" cy="237.10" rx="1.6" ry="2.2" fill="#a0a0a0" opacity="0.45"/>
<ellipse cx="415.50" cy="243.10" rx="1.3" ry="1.8" fill="#a8a8a8" opacity="0.4"/>
<path d="M423.90,228.80 C424.22,228.80 424.60,228.80 424.85,229.01 C425.09,229.22 425.15,229.53 425.36,230.06 C425.58,230.59 425.79,231.32 426.14,232.16 C426.48,233.00 427.10,233.98 427.43,235.10 C427.76,236.22 427.98,237.62 428.11,238.88 C428.24,240.14 428.26,241.33 428.20,242.66 C428.14,243.99 428.09,245.71 427.77,246.86 C427.45,248.02 426.91,249.10 426.26,249.59 C425.62,250.08 424.69,249.80 423.90,249.80 C423.11,249.80 422.18,250.08 421.53,249.59 C420.89,249.10 420.35,248.02 420.03,246.86 C419.71,245.71 419.66,243.99 419.60,242.66 C419.54,241.33 419.56,240.14 419.69,238.88 C419.81,237.62 420.04,236.22 420.37,235.10 C420.70,233.98 421.32,233.00 421.66,232.16 C422.01,231.32 422.22,230.59 422.44,230.06 C422.65,229.53 422.71,229.22 422.95,229.01 C423.20,228.80 423.58,228.80 423.90,228.80 Z" fill="url(#gmouse)" stroke="none" stroke-width="1.00"/>
<rect x="423.50" y="249.10" width="0.80" height="4.00" fill="#7a7a7a"/>
<ellipse cx="424.70" cy="238.10" rx="1.6" ry="2.2" fill="#a0a0a0" opacity="0.45"/>
<ellipse cx="422.90" cy="243.10" rx="1.3" ry="1.8" fill="#a8a8a8" opacity="0.4"/>
<path d="M433.40,228.80 C433.72,228.80 434.10,228.80 434.35,229.01 C434.59,229.22 434.65,229.53 434.86,230.06 C435.08,230.59 435.29,231.32 435.64,232.16 C435.98,233.00 436.60,233.98 436.93,235.10 C437.26,236.22 437.48,237.62 437.61,238.88 C437.74,240.14 437.76,241.33 437.70,242.66 C437.64,243.99 437.59,245.71 437.27,246.86 C436.95,248.02 436.41,249.10 435.76,249.59 C435.12,250.08 434.19,249.80 433.40,249.80 C432.61,249.80 431.68,250.08 431.03,249.59 C430.39,249.10 429.85,248.02 429.53,246.86 C429.21,245.71 429.16,243.99 429.10,242.66 C429.04,241.33 429.06,240.14 429.19,238.88 C429.31,237.62 429.54,236.22 429.87,235.10 C430.20,233.98 430.82,233.00 431.16,232.16 C431.51,231.32 431.72,230.59 431.94,230.06 C432.15,229.53 432.21,229.22 432.45,229.01 C432.70,228.80 433.08,228.80 433.40,228.80 Z" fill="url(#gmouse)" stroke="none" stroke-width="1.00"/>
<rect x="433.00" y="249.10" width="0.80" height="4.00" fill="#7a7a7a"/>
<ellipse cx="432.50" cy="239.10" rx="1.6" ry="2.2" fill="#a0a0a0" opacity="0.45"/>
<ellipse cx="434.50" cy="243.10" rx="1.3" ry="1.8" fill="#a8a8a8" opacity="0.4"/>
<path d="M442.90,228.80 C443.22,228.80 443.60,228.80 443.85,229.01 C444.09,229.22 444.15,229.53 444.36,230.06 C444.58,230.59 444.79,231.32 445.14,232.16 C445.48,233.00 446.10,233.98 446.43,235.10 C446.76,236.22 446.98,237.62 447.11,238.88 C447.24,240.14 447.26,241.33 447.20,242.66 C447.14,243.99 447.09,245.71 446.77,246.86 C446.45,248.02 445.91,249.10 445.26,249.59 C444.62,250.08 443.69,249.80 442.90,249.80 C442.11,249.80 441.18,250.08 440.53,249.59 C439.89,249.10 439.35,248.02 439.03,246.86 C438.71,245.71 438.66,243.99 438.60,242.66 C438.54,241.33 438.56,240.14 438.69,238.88 C438.81,237.62 439.04,236.22 439.37,235.10 C439.70,233.98 440.32,233.00 440.66,232.16 C441.01,231.32 441.22,230.59 441.44,230.06 C441.65,229.53 441.71,229.22 441.95,229.01 C442.20,228.80 442.58,228.80 442.90,228.80 Z" fill="url(#gmouse)" stroke="none" stroke-width="1.00"/>
<rect x="442.50" y="249.10" width="0.80" height="4.00" fill="#7a7a7a"/>
<ellipse cx="443.70" cy="237.10" rx="1.6" ry="2.2" fill="#a0a0a0" opacity="0.45"/>
<ellipse cx="441.90" cy="243.10" rx="1.3" ry="1.8" fill="#a8a8a8" opacity="0.4"/>
<path d="M452.40,228.80 C452.72,228.80 453.10,228.80 453.35,229.01 C453.59,229.22 453.65,229.53 453.86,230.06 C454.08,230.59 454.29,231.32 454.64,232.16 C454.98,233.00 455.60,233.98 455.93,235.10 C456.26,236.22 456.48,237.62 456.61,238.88 C456.74,240.14 456.76,241.33 456.70,242.66 C456.64,243.99 456.59,245.71 456.27,246.86 C455.95,248.02 455.41,249.10 454.76,249.59 C454.12,250.08 453.19,249.80 452.40,249.80 C451.61,249.80 450.68,250.08 450.03,249.59 C449.39,249.10 448.85,248.02 448.53,246.86 C448.21,245.71 448.16,243.99 448.10,242.66 C448.04,241.33 448.06,240.14 448.19,238.88 C448.31,237.62 448.54,236.22 448.87,235.10 C449.20,233.98 449.82,233.00 450.16,232.16 C450.51,231.32 450.72,230.59 450.94,230.06 C451.15,229.53 451.21,229.22 451.45,229.01 C451.70,228.80 452.08,228.80 452.40,228.80 Z" fill="url(#gmouse)" stroke="none" stroke-width="1.00"/>
<rect x="452.00" y="249.10" width="0.80" height="4.00" fill="#7a7a7a"/>
<ellipse cx="451.50" cy="238.10" rx="1.6" ry="2.2" fill="#a0a0a0" opacity="0.45"/>
<ellipse cx="453.50" cy="243.10" rx="1.3" ry="1.8" fill="#a8a8a8" opacity="0.4"/>
</g>
</g>
<clipPath id="c9"><rect x="406.40" y="254.95" width="53.60" height="25.60"/></clipPath>
<g clip-path="url(#c9)">
<rect x="406.40" y="254.95" width="53.60" height="25.60" fill="#242424"/>
<g filter="url(#bl)">
<path d="M414.40,256.15 C414.72,256.15 415.10,256.15 415.35,256.36 C415.59,256.57 415.65,256.88 415.86,257.41 C416.08,257.94 416.29,258.67 416.64,259.51 C416.98,260.35 417.60,261.33 417.93,262.45 C418.26,263.57 418.48,264.97 418.61,266.23 C418.74,267.49 418.76,268.68 418.70,270.01 C418.64,271.34 418.59,273.06 418.27,274.21 C417.95,275.37 417.41,276.45 416.76,276.94 C416.12,277.43 415.19,277.15 414.40,277.15 C413.61,277.15 412.68,277.43 412.03,276.94 C411.39,276.45 410.85,275.37 410.53,274.21 C410.21,273.06 410.16,271.34 410.10,270.01 C410.04,268.68 410.06,267.49 410.19,266.23 C410.31,264.97 410.54,263.57 410.87,262.45 C411.20,261.33 411.82,260.35 412.16,259.51 C412.51,258.67 412.72,257.94 412.94,257.41 C413.15,256.88 413.21,256.57 413.45,256.36 C413.70,256.15 414.08,256.15 414.40,256.15 Z" fill="url(#gmouse)" stroke="none" stroke-width="1.00"/>
<rect x="414.00" y="276.45" width="0.80" height="4.00" fill="#7a7a7a"/>
<ellipse cx="413.50" cy="264.45" rx="1.6" ry="2.2" fill="#a0a0a0" opacity="0.45"/>
<ellipse cx="415.50" cy="270.45" rx="1.3" ry="1.8" fill="#a8a8a8" opacity="0.4"/>
<path d="M423.90,256.15 C424.22,256.15 424.60,256.15 424.85,256.36 C425.09,256.57 425.15,256.88 425.36,257.41 C425.58,257.94 425.79,258.67 426.14,259.51 C426.48,260.35 427.10,261.33 427.43,262.45 C427.76,263.57 427.98,264.97 428.11,266.23 C428.24,267.49 428.26,268.68 428.20,270.01 C428.14,271.34 428.09,273.06 427.77,274.21 C427.45,275.37 426.91,276.45 426.26,276.94 C425.62,277.43 424.69,277.15 423.90,277.15 C423.11,277.15 422.18,277.43 421.53,276.94 C420.89,276.45 420.35,275.37 420.03,274.21 C419.71,273.06 419.66,271.34 419.60,270.01 C419.54,268.68 419.56,267.49 419.69,266.23 C419.81,264.97 420.04,263.57 420.37,262.45 C420.70,261.33 421.32,260.35 421.66,259.51 C422.01,258.67 422.22,257.94 422.44,257.41 C422.65,256.88 422.71,256.57 422.95,256.36 C423.20,256.15 423.58,256.15 423.90,256.15 Z" fill="url(#gmouse)" stroke="none" stroke-width="1.00"/>
<rect x="423.50" y="276.45" width="0.80" height="4.00" fill="#7a7a7a"/>
<ellipse cx="424.70" cy="265.45" rx="1.6" ry="2.2" fill="#a0a0a0" opacity="0.45"/>
<ellipse cx="422.90" cy="270.45" rx="1.3" ry="1.8" fill="#a8a8a8" opacity="0.4"/>
<path d="M433.40,256.15 C433.72,256.15 434.10,256.15 434.35,256.36 C434.59,256.57 434.65,256.88 434.86,257.41 C435.08,257.94 435.29,258.67 435.64,259.51 C435.98,260.35 436.60,261.33 436.93,262.45 C437.26,263.57 437.48,264.97 437.61,266.23 C437.74,267.49 437.76,268.68 437.70,270.01 C437.64,271.34 437.59,273.06 437.27,274.21 C436.95,275.37 436.41,276.45 435.76,276.94 C435.12,277.43 434.19,277.15 433.40,277.15 C432.61,277.15 431.68,277.43 431.03,276.94 C430.39,276.45 429.85,275.37 429.53,274.21 C429.21,273.06 429.16,271.34 429.10,270.01 C429.04,268.68 429.06,267.49 429.19,266.23 C429.31,264.97 429.54,263.57 429.87,262.45 C430.20,261.33 430.82,260.35 431.16,259.51 C431.51,258.67 431.72,257.94 431.94,257.41 C432.15,256.88 432.21,256.57 432.45,256.36 C432.70,256.15 433.08,256.15 433.40,256.15 Z" fill="url(#gmouse)" stroke="none" stroke-width="1.00"/>
<rect x="433.00" y="276.45" width="0.80" height="4.00" fill="#7a7a7a"/>
<ellipse cx="432.50" cy="266.45" rx="1.6" ry="2.2" fill="#a0a0a0" opacity="0.45"/>
<ellipse cx="434.50" cy="270.45" rx="1.3" ry="1.8" fill="#a8a8a8" opacity="0.4"/>
<path d="M442.90,256.15 C443.22,256.15 443.60,256.15 443.85,256.36 C444.09,256.57 444.15,256.88 444.36,257.41 C444.58,257.94 444.79,258.67 445.14,259.51 C445.48,260.35 446.10,261.33 446.43,262.45 C446.76,263.57 446.98,264.97 447.11,266.23 C447.24,267.49 447.26,268.68 447.20,270.01 C447.14,271.34 447.09,273.06 446.77,274.21 C446.45,275.37 445.91,276.45 445.26,276.94 C444.62,277.43 443.69,277.15 442.90,277.15 C442.11,277.15 441.18,277.43 440.53,276.94 C439.89,276.45 439.35,275.37 439.03,274.21 C438.71,273.06 438.66,271.34 438.60,270.01 C438.54,268.68 438.56,267.49 438.69,266.23 C438.81,264.97 439.04,263.57 439.37,262.45 C439.70,261.33 440.32,260.35 440.66,259.51 C441.01,258.67 441.22,257.94 441.44,257.41 C441.65,256.88 441.71,256.57 441.95,256.36 C442.20,256.15 442.58,256.15 442.90,256.15 Z" fill="url(#gmouse)" stroke="none" stroke-width="1.00"/>
<rect x="442.50" y="276.45" width="0.80" height="4.00" fill="#7a7a7a"/>
<ellipse cx="443.70" cy="264.45" rx="1.6" ry="2.2" fill="#a0a0a0" opacity="0.45"/>
<ellipse cx="441.90" cy="270.45" rx="1.3" ry="1.8" fill="#a8a8a8" opacity="0.4"/>
<path d="M452.40,256.15 C452.72,256.15 453.10,256.15 453.35,256.36 C453.59,256.57 453.65,256.88 453.86,257.41 C454.08,257.94 454.29,258.67 454.64,259.51 C454.98,260.35 455.60,261.33 455.93,262.45 C456.26,263.57 456.48,264.97 456.61,266.23 C456.74,267.49 456.76,268.68 456.70,270.01 C456.64,271.34 456.59,273.06 456.27,274.21 C455.95,275.37 455.41,276.45 454.76,276.94 C454.12,277.43 453.19,277.15 452.40,277.15 C451.61,277.15 450.68,277.43 450.03,276.94 C449.39,276.45 448.85,275.37 448.53,274.21 C448.21,273.06 448.16,271.34 448.10,270.01 C448.04,268.68 448.06,267.49 448.19,266.23 C448.31,264.97 448.54,263.57 448.87,262.45 C449.20,261.33 449.82,260.35 450.16,259.51 C450.51,258.67 450.72,257.94 450.94,257.41 C451.15,256.88 451.21,256.57 451.45,256.36 C451.70,256.15 452.08,256.15 452.40,256.15 Z" fill="url(#gmouse)" stroke="none" stroke-width="1.00"/>
<rect x="452.00" y="276.45" width="0.80" height="4.00" fill="#7a7a7a"/>
<ellipse cx="451.50" cy="265.45" rx="1.6" ry="2.2" fill="#a0a0a0" opacity="0.45"/>
<ellipse cx="453.50" cy="270.45" rx="1.3" ry="1.8" fill="#a8a8a8" opacity="0.4"/>
</g>
</g>
<clipPath id="c10"><rect x="406.40" y="282.30" width="53.60" height="25.60"/></clipPath>
<g clip-path="url(#c10)">
<rect x="406.40" y="282.30" width="53.60" height="25.60" fill="#242424"/>
<g filter="url(#bl)">
<path d="M414.40,283.50 C414.72,283.50 415.10,283.50 415.35,283.71 C415.59,283.92 415.65,284.24 415.86,284.76 C416.08,285.28 416.29,286.02 416.64,286.86 C416.98,287.70 417.60,288.68 417.93,289.80 C418.26,290.92 418.48,292.32 418.61,293.58 C418.74,294.84 418.76,296.03 418.70,297.36 C418.64,298.69 418.59,300.40 418.27,301.56 C417.95,302.72 417.41,303.80 416.76,304.29 C416.12,304.78 415.19,304.50 414.40,304.50 C413.61,304.50 412.68,304.78 412.03,304.29 C411.39,303.80 410.85,302.72 410.53,301.56 C410.21,300.40 410.16,298.69 410.10,297.36 C410.04,296.03 410.06,294.84 410.19,293.58 C410.31,292.32 410.54,290.92 410.87,289.80 C411.20,288.68 411.82,287.70 412.16,286.86 C412.51,286.02 412.72,285.28 412.94,284.76 C413.15,284.24 413.21,283.92 413.45,283.71 C413.70,283.50 414.08,283.50 414.40,283.50 Z" fill="url(#gmouse)" stroke="none" stroke-width="1.00"/>
<rect x="414.00" y="303.80" width="0.80" height="4.00" fill="#7a7a7a"/>
<ellipse cx="413.50" cy="291.80" rx="1.6" ry="2.2" fill="#a0a0a0" opacity="0.45"/>
<ellipse cx="415.50" cy="297.80" rx="1.3" ry="1.8" fill="#a8a8a8" opacity="0.4"/>
<path d="M414.40,287.30 C414.62,287.30 414.89,287.30 415.06,287.45 C415.23,287.60 415.27,287.82 415.42,288.20 C415.57,288.57 415.72,289.10 415.96,289.70 C416.20,290.30 416.63,291.00 416.86,291.80 C417.09,292.60 417.25,293.60 417.34,294.50 C417.43,295.40 417.44,296.25 417.40,297.20 C417.36,298.15 417.32,299.38 417.10,300.20 C416.87,301.02 416.50,301.80 416.05,302.15 C415.60,302.50 414.95,302.30 414.40,302.30 C413.85,302.30 413.20,302.50 412.75,302.15 C412.30,301.80 411.93,301.02 411.70,300.20 C411.47,299.38 411.44,298.15 411.40,297.20 C411.36,296.25 411.37,295.40 411.46,294.50 C411.55,293.60 411.71,292.60 411.94,291.80 C412.17,291.00 412.60,290.30 412.84,289.70 C413.08,289.10 413.23,288.57 413.38,288.20 C413.53,287.82 413.57,287.60 413.74,287.45 C413.91,287.30 414.18,287.30 414.40,287.30 Z" fill="#d0b8e8" stroke="none" stroke-width="1.00" opacity="0.55"/>
<path d="M423.90,283.50 C424.22,283.50 424.60,283.50 424.85,283.71 C425.09,283.92 425.15,284.24 425.36,284.76 C425.58,285.28 425.79,286.02 426.14,286.86 C426.48,287.70 427.10,288.68 427.43,289.80 C427.76,290.92 427.98,292.32 428.11,293.58 C428.24,294.84 428.26,296.03 428.20,297.36 C428.14,298.69 428.09,300.40 427.77,301.56 C427.45,302.72 426.91,303.80 426.26,304.29 C425.62,304.78 424.69,304.50 423.90,304.50 C423.11,304.50 422.18,304.78 421.53,304.29 C420.89,303.80 420.35,302.72 420.03,301.56 C419.71,300.40 419.66,298.69 419.60,297.36 C419.54,296.03 419.56,294.84 419.69,293.58 C419.81,292.32 420.04,290.92 420.37,289.80 C420.70,288.68 421.32,287.70 421.66,286.86 C422.01,286.02 422.22,285.28 422.44,284.76 C422.65,284.24 422.71,283.92 422.95,283.71 C423.20,283.50 423.58,283.50 423.90,283.50 Z" fill="url(#gmouse)" stroke="none" stroke-width="1.00"/>
<rect x="423.50" y="303.80" width="0.80" height="4.00" fill="#7a7a7a"/>
<ellipse cx="424.70" cy="292.80" rx="1.6" ry="2.2" fill="#a0a0a0" opacity="0.45"/>
<ellipse cx="422.90" cy="297.80" rx="1.3" ry="1.8" fill="#a8a8a8" opacity="0.4"/>
<path d="M422.90,286.80 C425.40,291.30 423.40,295.30 424.70,299.30 C425.40,302.30 421.90,303.80 419.90,301.30 C419.30,295.30 420.40,289.30 422.90,286.80 Z" fill="#4a2cc0" stroke="none" stroke-width="1.00" opacity="0.92"/>
<path d="M433.40,283.50 C433.72,283.50 434.10,283.50 434.35,283.71 C434.59,283.92 434.65,284.24 434.86,284.76 C435.08,285.28 435.29,286.02 435.64,286.86 C435.98,287.70 436.60,288.68 436.93,289.80 C437.26,290.92 437.48,292.32 437.61,293.58 C437.74,294.84 437.76,296.03 437.70,297.36 C437.64,298.69 437.59,300.40 437.27,301.56 C436.95,302.72 436.41,303.80 435.76,304.29 C435.12,304.78 434.19,304.50 433.40,304.50 C432.61,304.50 431.68,304.78 431.03,304.29 C430.39,303.80 429.85,302.72 429.53,301.56 C429.21,300.40 429.16,298.69 429.10,297.36 C429.04,296.03 429.06,294.84 429.19,293.58 C429.31,292.32 429.54,290.92 429.87,289.80 C430.20,288.68 430.82,287.70 431.16,286.86 C431.51,286.02 431.72,285.28 431.94,284.76 C432.15,284.24 432.21,283.92 432.45,283.71 C432.70,283.50 433.08,283.50 433.40,283.50 Z" fill="url(#gmouse)" stroke="none" stroke-width="1.00"/>
<rect x="433.00" y="303.80" width="0.80" height="4.00" fill="#7a7a7a"/>
<ellipse cx="432.50" cy="293.80" rx="1.6" ry="2.2" fill="#a0a0a0" opacity="0.45"/>
<ellipse cx="434.50" cy="297.80" rx="1.3" ry="1.8" fill="#a8a8a8" opacity="0.4"/>
<path d="M442.90,283.50 C443.22,283.50 443.60,283.50 443.85,283.71 C444.09,283.92 444.15,284.24 444.36,284.76 C444.58,285.28 444.79,286.02 445.14,286.86 C445.48,287.70 446.10,288.68 446.43,289.80 C446.76,290.92 446.98,292.32 447.11,293.58 C447.24,294.84 447.26,296.03 447.20,297.36 C447.14,298.69 447.09,300.40 446.77,301.56 C446.45,302.72 445.91,303.80 445.26,304.29 C444.62,304.78 443.69,304.50 442.90,304.50 C442.11,304.50 441.18,304.78 440.53,304.29 C439.89,303.80 439.35,302.72 439.03,301.56 C438.71,300.40 438.66,298.69 438.60,297.36 C438.54,296.03 438.56,294.84 438.69,293.58 C438.81,292.32 439.04,290.92 439.37,289.80 C439.70,288.68 440.32,287.70 440.66,286.86 C441.01,286.02 441.22,285.28 441.44,284.76 C441.65,284.24 441.71,283.92 441.95,283.71 C442.20,283.50 442.58,283.50 442.90,283.50 Z" fill="url(#gmouse)" stroke="none" stroke-width="1.00"/>
<rect x="442.50" y="303.80" width="0.80" height="4.00" fill="#7a7a7a"/>
<ellipse cx="443.70" cy="291.80" rx="1.6" ry="2.2" fill="#a0a0a0" opacity="0.45"/>
<ellipse cx="441.90" cy="297.80" rx="1.3" ry="1.8" fill="#a8a8a8" opacity="0.4"/>
<path d="M452.40,283.50 C452.72,283.50 453.10,283.50 453.35,283.71 C453.59,283.92 453.65,284.24 453.86,284.76 C454.08,285.28 454.29,286.02 454.64,286.86 C454.98,287.70 455.60,288.68 455.93,289.80 C456.26,290.92 456.48,292.32 456.61,293.58 C456.74,294.84 456.76,296.03 456.70,297.36 C456.64,298.69 456.59,300.40 456.27,301.56 C455.95,302.72 455.41,303.80 454.76,304.29 C454.12,304.78 453.19,304.50 452.40,304.50 C451.61,304.50 450.68,304.78 450.03,304.29 C449.39,303.80 448.85,302.72 448.53,301.56 C448.21,300.40 448.16,298.69 448.10,297.36 C448.04,296.03 448.06,294.84 448.19,293.58 C448.31,292.32 448.54,290.92 448.87,289.80 C449.20,288.68 449.82,287.70 450.16,286.86 C450.51,286.02 450.72,285.28 450.94,284.76 C451.15,284.24 451.21,283.92 451.45,283.71 C451.70,283.50 452.08,283.50 452.40,283.50 Z" fill="url(#gmouse)" stroke="none" stroke-width="1.00"/>
<rect x="452.00" y="303.80" width="0.80" height="4.00" fill="#7a7a7a"/>
<ellipse cx="451.50" cy="292.80" rx="1.6" ry="2.2" fill="#a0a0a0" opacity="0.45"/>
<ellipse cx="453.50" cy="297.80" rx="1.3" ry="1.8" fill="#a8a8a8" opacity="0.4"/>
</g>
</g>
<clipPath id="c11"><rect x="406.40" y="309.65" width="53.60" height="25.60"/></clipPath>
<g clip-path="url(#c11)">
<rect x="406.40" y="309.65" width="53.60" height="25.60" fill="#242424"/>
<g filter="url(#bl)">
<path d="M414.40,310.85 C414.72,310.85 415.10,310.85 415.35,311.06 C415.59,311.27 415.65,311.58 415.86,312.11 C416.08,312.63 416.29,313.37 416.64,314.21 C416.98,315.05 417.60,316.03 417.93,317.15 C418.26,318.27 418.48,319.67 418.61,320.93 C418.74,322.19 418.76,323.38 418.70,324.71 C418.64,326.04 418.59,327.75 418.27,328.91 C417.95,330.06 417.41,331.15 416.76,331.64 C416.12,332.13 415.19,331.85 414.40,331.85 C413.61,331.85 412.68,332.13 412.03,331.64 C411.39,331.15 410.85,330.06 410.53,328.91 C410.21,327.75 410.16,326.04 410.10,324.71 C410.04,323.38 410.06,322.19 410.19,320.93 C410.31,319.67 410.54,318.27 410.87,317.15 C411.20,316.03 411.82,315.05 412.16,314.21 C412.51,313.37 412.72,312.63 412.94,312.11 C413.15,311.58 413.21,311.27 413.45,311.06 C413.70,310.85 414.08,310.85 414.40,310.85 Z" fill="url(#gmouse)" stroke="none" stroke-width="1.00"/>
<rect x="414.00" y="331.15" width="0.80" height="4.00" fill="#7a7a7a"/>
<ellipse cx="413.50" cy="319.15" rx="1.6" ry="2.2" fill="#a0a0a0" opacity="0.45"/>
<ellipse cx="415.50" cy="325.15" rx="1.3" ry="1.8" fill="#a8a8a8" opacity="0.4"/>
<path d="M414.40,314.65 C414.64,314.65 414.93,314.65 415.11,314.80 C415.30,314.95 415.34,315.17 415.50,315.55 C415.67,315.92 415.83,316.45 416.09,317.05 C416.35,317.65 416.82,318.35 417.06,319.15 C417.31,319.95 417.49,320.95 417.58,321.85 C417.68,322.75 417.69,323.60 417.65,324.55 C417.61,325.50 417.57,326.72 417.32,327.55 C417.08,328.37 416.68,329.15 416.19,329.50 C415.70,329.85 415.00,329.65 414.40,329.65 C413.80,329.65 413.10,329.85 412.61,329.50 C412.12,329.15 411.72,328.37 411.47,327.55 C411.23,326.72 411.19,325.50 411.15,324.55 C411.11,323.60 411.12,322.75 411.21,321.85 C411.31,320.95 411.49,319.95 411.73,319.15 C411.98,318.35 412.45,317.65 412.71,317.05 C412.97,316.45 413.13,315.92 413.29,315.55 C413.46,315.17 413.50,314.95 413.69,314.80 C413.87,314.65 414.16,314.65 414.40,314.65 Z" fill="#e8c8d8" stroke="none" stroke-width="1.00" opacity="0.5"/>
<path d="M423.90,310.85 C424.22,310.85 424.60,310.85 424.85,311.06 C425.09,311.27 425.15,311.58 425.36,312.11 C425.58,312.63 425.79,313.37 426.14,314.21 C426.48,315.05 427.10,316.03 427.43,317.15 C427.76,318.27 427.98,319.67 428.11,320.93 C428.24,322.19 428.26,323.38 428.20,324.71 C428.14,326.04 428.09,327.75 427.77,328.91 C427.45,330.06 426.91,331.15 426.26,331.64 C425.62,332.13 424.69,331.85 423.90,331.85 C423.11,331.85 422.18,332.13 421.53,331.64 C420.89,331.15 420.35,330.06 420.03,328.91 C419.71,327.75 419.66,326.04 419.60,324.71 C419.54,323.38 419.56,322.19 419.69,320.93 C419.81,319.67 420.04,318.27 420.37,317.15 C420.70,316.03 421.32,315.05 421.66,314.21 C422.01,313.37 422.22,312.63 422.44,312.11 C422.65,311.58 422.71,311.27 422.95,311.06 C423.20,310.85 423.58,310.85 423.90,310.85 Z" fill="url(#gmouse)" stroke="none" stroke-width="1.00"/>
<rect x="423.50" y="331.15" width="0.80" height="4.00" fill="#7a7a7a"/>
<ellipse cx="424.70" cy="320.15" rx="1.6" ry="2.2" fill="#a0a0a0" opacity="0.45"/>
<ellipse cx="422.90" cy="325.15" rx="1.3" ry="1.8" fill="#a8a8a8" opacity="0.4"/>
<path d="M423.90,312.65 C424.21,312.65 424.59,312.65 424.82,312.84 C425.06,313.04 425.12,313.33 425.33,313.82 C425.54,314.31 425.75,314.99 426.08,315.77 C426.42,316.55 427.02,317.46 427.34,318.50 C427.67,319.54 427.89,320.84 428.02,322.01 C428.14,323.18 428.16,324.28 428.10,325.52 C428.04,326.75 427.99,328.35 427.68,329.42 C427.36,330.49 426.84,331.50 426.21,331.95 C425.58,332.41 424.67,332.15 423.90,332.15 C423.13,332.15 422.22,332.41 421.59,331.95 C420.96,331.50 420.44,330.49 420.12,329.42 C419.81,328.35 419.76,326.75 419.70,325.52 C419.64,324.28 419.66,323.18 419.78,322.01 C419.91,320.84 420.13,319.54 420.46,318.50 C420.78,317.46 421.38,316.55 421.72,315.77 C422.05,314.99 422.26,314.31 422.47,313.82 C422.68,313.33 422.74,313.04 422.98,312.84 C423.21,312.65 423.59,312.65 423.90,312.65 Z" fill="#4a2cc0" stroke="none" stroke-width="1.00" opacity="0.95"/>
<path d="M420.90,322.65 L427.40,320.65 L425.90,324.65 Z" fill="#e8e0ff" stroke="none" stroke-width="1.00" opacity="0.85"/>
<path d="M420.40,316.65 L426.40,318.15 L421.90,319.15 Z" fill="#d8d0ff" stroke="none" stroke-width="1.00" opacity="0.6"/>
<path d="M433.40,310.85 C433.72,310.85 434.10,310.85 434.35,311.06 C434.59,311.27 434.65,311.58 434.86,312.11 C435.08,312.63 435.29,313.37 435.64,314.21 C435.98,315.05 436.60,316.03 436.93,317.15 C437.26,318.27 437.48,319.67 437.61,320.93 C437.74,322.19 437.76,323.38 437.70,324.71 C437.64,326.04 437.59,327.75 437.27,328.91 C436.95,330.06 436.41,331.15 435.76,331.64 C435.12,332.13 434.19,331.85 433.40,331.85 C432.61,331.85 431.68,332.13 431.03,331.64 C430.39,331.15 429.85,330.06 429.53,328.91 C429.21,327.75 429.16,326.04 429.10,324.71 C429.04,323.38 429.06,322.19 429.19,320.93 C429.31,319.67 429.54,318.27 429.87,317.15 C430.20,316.03 430.82,315.05 431.16,314.21 C431.51,313.37 431.72,312.63 431.94,312.11 C432.15,311.58 432.21,311.27 432.45,311.06 C432.70,310.85 433.08,310.85 433.40,310.85 Z" fill="url(#gmouse)" stroke="none" stroke-width="1.00"/>
<rect x="433.00" y="331.15" width="0.80" height="4.00" fill="#7a7a7a"/>
<ellipse cx="432.50" cy="321.15" rx="1.6" ry="2.2" fill="#a0a0a0" opacity="0.45"/>
<ellipse cx="434.50" cy="325.15" rx="1.3" ry="1.8" fill="#a8a8a8" opacity="0.4"/>
<path d="M442.90,310.85 C443.22,310.85 443.60,310.85 443.85,311.06 C444.09,311.27 444.15,311.58 444.36,312.11 C444.58,312.63 444.79,313.37 445.14,314.21 C445.48,315.05 446.10,316.03 446.43,317.15 C446.76,318.27 446.98,319.67 447.11,320.93 C447.24,322.19 447.26,323.38 447.20,324.71 C447.14,326.04 447.09,327.75 446.77,328.91 C446.45,330.06 445.91,331.15 445.26,331.64 C444.62,332.13 443.69,331.85 442.90,331.85 C442.11,331.85 441.18,332.13 440.53,331.64 C439.89,331.15 439.35,330.06 439.03,328.91 C438.71,327.75 438.66,326.04 438.60,324.71 C438.54,323.38 438.56,322.19 438.69,320.93 C438.81,319.67 439.04,318.27 439.37,317.15 C439.70,316.03 440.32,315.05 440.66,314.21 C441.01,313.37 441.22,312.63 441.44,312.11 C441.65,311.58 441.71,311.27 441.95,311.06 C442.20,310.85 442.58,310.85 442.90,310.85 Z" fill="url(#gmouse)" stroke="none" stroke-width="1.00"/>
<rect x="442.50" y="331.15" width="0.80" height="4.00" fill="#7a7a7a"/>
<ellipse cx="443.70" cy="319.15" rx="1.6" ry="2.2" fill="#a0a0a0" opacity="0.45"/>
<ellipse cx="441.90" cy="325.15" rx="1.3" ry="1.8" fill="#a8a8a8" opacity="0.4"/>
<path d="M439.10,318.65 C442.90,321.65 444.40,326.65 442.40,331.65 C439.40,330.65 438.30,324.65 439.10,318.65 Z" fill="#4a2cc0" stroke="none" stroke-width="1.00" opacity="0.85"/>
<path d="M452.40,310.85 C452.72,310.85 453.10,310.85 453.35,311.06 C453.59,311.27 453.65,311.58 453.86,312.11 C454.08,312.63 454.29,313.37 454.64,314.21 C454.98,315.05 455.60,316.03 455.93,317.15 C456.26,318.27 456.48,319.67 456.61,320.93 C456.74,322.19 456.76,323.38 456.70,324.71 C456.64,326.04 456.59,327.75 456.27,328.91 C455.95,330.06 455.41,331.15 454.76,331.64 C454.12,332.13 453.19,331.85 452.40,331.85 C451.61,331.85 450.68,332.13 450.03,331.64 C449.39,331.15 448.85,330.06 448.53,328.91 C448.21,327.75 448.16,326.04 448.10,324.71 C448.04,323.38 448.06,322.19 448.19,320.93 C448.31,319.67 448.54,318.27 448.87,317.15 C449.20,316.03 449.82,315.05 450.16,314.21 C450.51,313.37 450.72,312.63 450.94,312.11 C451.15,311.58 451.21,311.27 451.45,311.06 C451.70,310.85 452.08,310.85 452.40,310.85 Z" fill="url(#gmouse)" stroke="none" stroke-width="1.00"/>
<rect x="452.00" y="331.15" width="0.80" height="4.00" fill="#7a7a7a"/>
<ellipse cx="451.50" cy="320.15" rx="1.6" ry="2.2" fill="#a0a0a0" opacity="0.45"/>
<ellipse cx="453.50" cy="325.15" rx="1.3" ry="1.8" fill="#a8a8a8" opacity="0.4"/>
</g>
</g>
</svg></body></html>
